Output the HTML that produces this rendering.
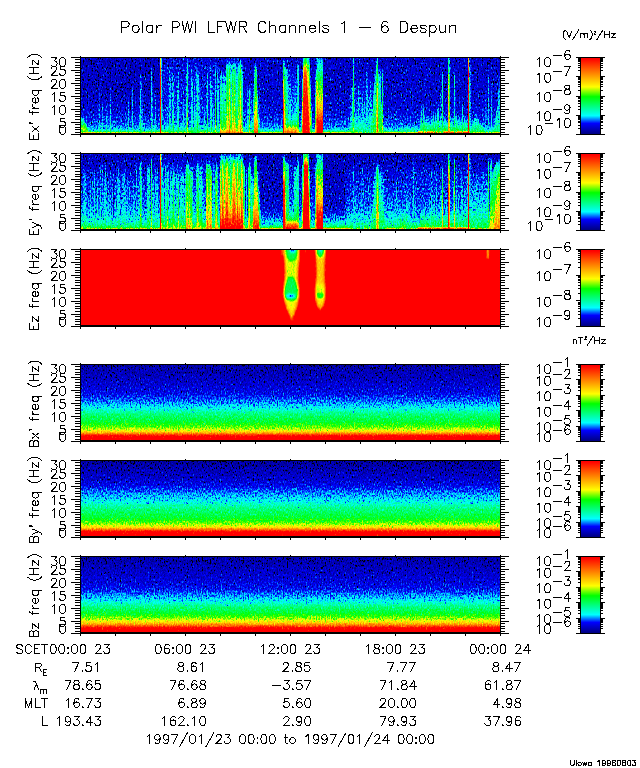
<!DOCTYPE html>
<html><head><meta charset="utf-8"><title>Polar PWI LFWR Channels 1 - 6 Despun</title>
<style>html,body{margin:0;padding:0;background:#fff;font-family:"Liberation Sans",sans-serif}svg{display:block}</style></head>
<body>
<svg width="640" height="768" viewBox="0 0 640 768">
<defs>
<linearGradient id="g1" x1="0" y1="0" x2="0" y2="1"><stop offset="0" stop-color="#222222"/><stop offset="0.0933" stop-color="#252525"/><stop offset="0.2667" stop-color="#2c2c2c"/><stop offset="0.3867" stop-color="#323232"/><stop offset="0.4933" stop-color="#404040"/><stop offset="0.5733" stop-color="#4d4d4d"/><stop offset="0.6533" stop-color="#656565"/><stop offset="0.7533" stop-color="#757575"/><stop offset="0.824" stop-color="#868686"/><stop offset="0.864" stop-color="#949494"/><stop offset="0.8907" stop-color="#a4a4a4"/><stop offset="0.9093" stop-color="#b9b9b9"/><stop offset="0.928" stop-color="#d1d1d1"/><stop offset="0.9467" stop-color="#eaeaea"/><stop offset="1" stop-color="#fafafa"/></linearGradient>
<linearGradient id="g2" x1="0" y1="0" x2="0" y2="1"><stop offset="0" stop-color="#202020"/><stop offset="0.0933" stop-color="#242424"/><stop offset="0.24" stop-color="#2b2b2b"/><stop offset="0.3333" stop-color="#323232"/><stop offset="0.4267" stop-color="#404040"/><stop offset="0.5333" stop-color="#4d4d4d"/><stop offset="0.64" stop-color="#656565"/><stop offset="0.7533" stop-color="#757575"/><stop offset="0.82" stop-color="#868686"/><stop offset="0.86" stop-color="#949494"/><stop offset="0.8867" stop-color="#a4a4a4"/><stop offset="0.9067" stop-color="#b9b9b9"/><stop offset="0.9253" stop-color="#d1d1d1"/><stop offset="0.944" stop-color="#eaeaea"/><stop offset="1" stop-color="#fafafa"/></linearGradient>
<linearGradient id="g3" x1="0" y1="0" x2="0" y2="1"><stop offset="0" stop-color="#222222"/><stop offset="0.0933" stop-color="#252525"/><stop offset="0.2667" stop-color="#2c2c2c"/><stop offset="0.4133" stop-color="#323232"/><stop offset="0.5067" stop-color="#404040"/><stop offset="0.5867" stop-color="#4d4d4d"/><stop offset="0.6667" stop-color="#656565"/><stop offset="0.7533" stop-color="#777777"/><stop offset="0.8067" stop-color="#888888"/><stop offset="0.84" stop-color="#949494"/><stop offset="0.8733" stop-color="#a4a4a4"/><stop offset="0.9" stop-color="#b9b9b9"/><stop offset="0.9253" stop-color="#d1d1d1"/><stop offset="0.9467" stop-color="#eaeaea"/><stop offset="1" stop-color="#fafafa"/></linearGradient>
<linearGradient id="g4" gradientUnits="userSpaceOnUse" x1="0" y1="58" x2="0" y2="133"><stop offset="0" stop-color="#2a2a2a"/><stop offset="0.5333" stop-color="#2c2c2c"/><stop offset="0.7333" stop-color="#303030"/><stop offset="0.8267" stop-color="#363636"/><stop offset="0.8933" stop-color="#3c3c3c"/><stop offset="0.9333" stop-color="#444444"/><stop offset="0.96" stop-color="#4f4f4f"/><stop offset="0.9773" stop-color="#636363"/><stop offset="0.9893" stop-color="#848484"/><stop offset="1" stop-color="#bdbdbd"/></linearGradient>
<linearGradient id="g5" gradientUnits="userSpaceOnUse" x1="0" y1="58" x2="0" y2="133"><stop offset="0" stop-color="#272727" stop-opacity="0.95"/><stop offset="0.4667" stop-color="#282828" stop-opacity="0.95"/><stop offset="0.6667" stop-color="#2c2c2c" stop-opacity="0.5"/><stop offset="0.8" stop-color="#2e2e2e" stop-opacity="0"/></linearGradient>
<linearGradient id="g6" gradientUnits="userSpaceOnUse" x1="0" y1="58" x2="0" y2="133"><stop offset="0" stop-color="#292929" stop-opacity="0.95"/><stop offset="0.4667" stop-color="#2a2a2a" stop-opacity="0.95"/><stop offset="0.6667" stop-color="#2c2c2c" stop-opacity="0.5"/><stop offset="0.8" stop-color="#2e2e2e" stop-opacity="0"/></linearGradient>
<linearGradient id="g7" gradientUnits="userSpaceOnUse" x1="0" y1="58" x2="0" y2="133"><stop offset="0.7733" stop-color="#575757" stop-opacity="0.3"/><stop offset="0.8667" stop-color="#6f6f6f" stop-opacity="0.9"/><stop offset="0.9467" stop-color="#8a8a8a"/><stop offset="1" stop-color="#a8a8a8" stop-opacity="0.3"/></linearGradient>
<linearGradient id="g8" gradientUnits="userSpaceOnUse" x1="0" y1="58" x2="0" y2="133"><stop offset="0.5867" stop-color="#424242" stop-opacity="0"/><stop offset="0.6667" stop-color="#484848" stop-opacity="0.85"/><stop offset="0.8" stop-color="#555555" stop-opacity="0.85"/><stop offset="1" stop-color="#6f6f6f" stop-opacity="0.85"/></linearGradient>
<linearGradient id="g9" gradientUnits="userSpaceOnUse" x1="0" y1="58" x2="0" y2="133"><stop offset="0.5333" stop-color="#424242" stop-opacity="0"/><stop offset="0.6133" stop-color="#484848" stop-opacity="0.85"/><stop offset="0.8" stop-color="#555555" stop-opacity="0.85"/><stop offset="1" stop-color="#6f6f6f" stop-opacity="0.85"/></linearGradient>
<linearGradient id="g10" gradientUnits="userSpaceOnUse" x1="0" y1="58" x2="0" y2="133"><stop offset="0.6267" stop-color="#424242" stop-opacity="0"/><stop offset="0.7067" stop-color="#484848" stop-opacity="0.85"/><stop offset="0.8" stop-color="#555555" stop-opacity="0.85"/><stop offset="1" stop-color="#6f6f6f" stop-opacity="0.85"/></linearGradient>
<linearGradient id="g11" gradientUnits="userSpaceOnUse" x1="0" y1="58" x2="0" y2="133"><stop offset="0.2933" stop-color="#424242" stop-opacity="0"/><stop offset="0.3733" stop-color="#484848" stop-opacity="0.85"/><stop offset="0.8" stop-color="#555555" stop-opacity="0.85"/><stop offset="1" stop-color="#6f6f6f" stop-opacity="0.85"/></linearGradient>
<linearGradient id="g12" gradientUnits="userSpaceOnUse" x1="0" y1="58" x2="0" y2="133"><stop offset="0.4133" stop-color="#424242" stop-opacity="0"/><stop offset="0.4933" stop-color="#484848" stop-opacity="0.85"/><stop offset="0.8" stop-color="#555555" stop-opacity="0.85"/><stop offset="1" stop-color="#6f6f6f" stop-opacity="0.85"/></linearGradient>
<linearGradient id="g13" gradientUnits="userSpaceOnUse" x1="0" y1="58" x2="0" y2="133"><stop offset="0.48" stop-color="#424242" stop-opacity="0"/><stop offset="0.56" stop-color="#484848" stop-opacity="0.85"/><stop offset="0.8" stop-color="#555555" stop-opacity="0.85"/><stop offset="1" stop-color="#6f6f6f" stop-opacity="0.85"/></linearGradient>
<linearGradient id="g14" gradientUnits="userSpaceOnUse" x1="0" y1="58" x2="0" y2="133"><stop offset="0.3467" stop-color="#424242" stop-opacity="0"/><stop offset="0.4267" stop-color="#484848" stop-opacity="0.85"/><stop offset="0.8" stop-color="#555555" stop-opacity="0.85"/><stop offset="1" stop-color="#6f6f6f" stop-opacity="0.85"/></linearGradient>
<linearGradient id="g15" gradientUnits="userSpaceOnUse" x1="0" y1="58" x2="0" y2="133"><stop offset="0.5067" stop-color="#424242" stop-opacity="0"/><stop offset="0.5867" stop-color="#484848" stop-opacity="0.85"/><stop offset="0.8" stop-color="#555555" stop-opacity="0.85"/><stop offset="1" stop-color="#6f6f6f" stop-opacity="0.85"/></linearGradient>
<linearGradient id="g16" gradientUnits="userSpaceOnUse" x1="0" y1="58" x2="0" y2="133"><stop offset="0.4267" stop-color="#424242" stop-opacity="0"/><stop offset="0.5067" stop-color="#484848" stop-opacity="0.85"/><stop offset="0.8" stop-color="#555555" stop-opacity="0.85"/><stop offset="1" stop-color="#6f6f6f" stop-opacity="0.85"/></linearGradient>
<linearGradient id="g17" gradientUnits="userSpaceOnUse" x1="0" y1="58" x2="0" y2="133"><stop offset="0.3333" stop-color="#424242" stop-opacity="0"/><stop offset="0.4133" stop-color="#484848" stop-opacity="0.85"/><stop offset="0.8" stop-color="#555555" stop-opacity="0.85"/><stop offset="1" stop-color="#6f6f6f" stop-opacity="0.85"/></linearGradient>
<linearGradient id="g18" gradientUnits="userSpaceOnUse" x1="0" y1="58" x2="0" y2="133"><stop offset="0.16" stop-color="#424242" stop-opacity="0"/><stop offset="0.24" stop-color="#484848" stop-opacity="0.85"/><stop offset="0.8" stop-color="#555555" stop-opacity="0.85"/><stop offset="1" stop-color="#6f6f6f" stop-opacity="0.85"/></linearGradient>
<linearGradient id="g19" gradientUnits="userSpaceOnUse" x1="0" y1="58" x2="0" y2="133"><stop offset="0.08" stop-color="#424242" stop-opacity="0"/><stop offset="0.16" stop-color="#484848" stop-opacity="0.85"/><stop offset="0.8" stop-color="#555555" stop-opacity="0.85"/><stop offset="1" stop-color="#6f6f6f" stop-opacity="0.85"/></linearGradient>
<linearGradient id="g20" gradientUnits="userSpaceOnUse" x1="0" y1="58" x2="0" y2="133"><stop offset="0" stop-color="#2e2e2e" stop-opacity="0.9"/><stop offset="0.2667" stop-color="#323232" stop-opacity="0.9"/><stop offset="0.6" stop-color="#353535" stop-opacity="0.9"/><stop offset="0.8267" stop-color="#3b3b3b" stop-opacity="0.9"/><stop offset="0.9067" stop-color="#464646" stop-opacity="0.9"/><stop offset="0.9533" stop-color="#575757" stop-opacity="0.9"/><stop offset="0.98" stop-color="#737373" stop-opacity="0.7"/><stop offset="1" stop-color="#949494" stop-opacity="0"/></linearGradient>
<linearGradient id="g21" gradientUnits="userSpaceOnUse" x1="0" y1="58" x2="0" y2="133"><stop offset="0.1733" stop-color="#424242" stop-opacity="0"/><stop offset="0.2533" stop-color="#484848" stop-opacity="0.85"/><stop offset="0.8" stop-color="#555555" stop-opacity="0.85"/><stop offset="1" stop-color="#6f6f6f" stop-opacity="0.85"/></linearGradient>
<linearGradient id="g22" gradientUnits="userSpaceOnUse" x1="0" y1="58" x2="0" y2="133"><stop offset="0.1867" stop-color="#424242" stop-opacity="0"/><stop offset="0.2667" stop-color="#484848" stop-opacity="0.85"/><stop offset="0.8" stop-color="#555555" stop-opacity="0.85"/><stop offset="1" stop-color="#6f6f6f" stop-opacity="0.85"/></linearGradient>
<linearGradient id="g23" gradientUnits="userSpaceOnUse" x1="0" y1="58" x2="0" y2="133"><stop offset="0.0667" stop-color="#424242" stop-opacity="0"/><stop offset="0.1467" stop-color="#484848" stop-opacity="0.85"/><stop offset="0.8" stop-color="#555555" stop-opacity="0.85"/><stop offset="1" stop-color="#6f6f6f" stop-opacity="0.85"/></linearGradient>
<linearGradient id="g24" gradientUnits="userSpaceOnUse" x1="0" y1="58" x2="0" y2="133"><stop offset="0.0933" stop-color="#424242" stop-opacity="0"/><stop offset="0.1733" stop-color="#484848" stop-opacity="0.85"/><stop offset="0.8" stop-color="#555555" stop-opacity="0.85"/><stop offset="1" stop-color="#6f6f6f" stop-opacity="0.85"/></linearGradient>
<linearGradient id="g25" gradientUnits="userSpaceOnUse" x1="0" y1="58" x2="0" y2="133"><stop offset="0.5733" stop-color="#424242" stop-opacity="0"/><stop offset="0.6533" stop-color="#484848" stop-opacity="0.85"/><stop offset="0.8" stop-color="#555555" stop-opacity="0.85"/><stop offset="1" stop-color="#6f6f6f" stop-opacity="0.85"/></linearGradient>
<linearGradient id="g26" gradientUnits="userSpaceOnUse" x1="0" y1="58" x2="0" y2="133"><stop offset="0.4933" stop-color="#424242" stop-opacity="0"/><stop offset="0.5733" stop-color="#484848" stop-opacity="0.85"/><stop offset="0.8" stop-color="#555555" stop-opacity="0.85"/><stop offset="1" stop-color="#6f6f6f" stop-opacity="0.85"/></linearGradient>
<linearGradient id="g27" gradientUnits="userSpaceOnUse" x1="0" y1="58" x2="0" y2="133"><stop offset="0.36" stop-color="#424242" stop-opacity="0"/><stop offset="0.44" stop-color="#484848" stop-opacity="0.85"/><stop offset="0.8" stop-color="#555555" stop-opacity="0.85"/><stop offset="1" stop-color="#6f6f6f" stop-opacity="0.85"/></linearGradient>
<linearGradient id="g28" gradientUnits="userSpaceOnUse" x1="0" y1="58" x2="0" y2="133"><stop offset="0.3067" stop-color="#424242" stop-opacity="0"/><stop offset="0.3867" stop-color="#484848" stop-opacity="0.85"/><stop offset="0.8" stop-color="#555555" stop-opacity="0.85"/><stop offset="1" stop-color="#6f6f6f" stop-opacity="0.85"/></linearGradient>
<linearGradient id="g29" gradientUnits="userSpaceOnUse" x1="0" y1="58" x2="0" y2="133"><stop offset="0.2533" stop-color="#424242" stop-opacity="0"/><stop offset="0.3333" stop-color="#484848" stop-opacity="0.85"/><stop offset="0.8" stop-color="#555555" stop-opacity="0.85"/><stop offset="1" stop-color="#6f6f6f" stop-opacity="0.85"/></linearGradient>
<linearGradient id="g30" gradientUnits="userSpaceOnUse" x1="0" y1="58" x2="0" y2="133"><stop offset="0.4667" stop-color="#424242" stop-opacity="0"/><stop offset="0.5467" stop-color="#484848" stop-opacity="0.85"/><stop offset="0.8" stop-color="#555555" stop-opacity="0.85"/><stop offset="1" stop-color="#6f6f6f" stop-opacity="0.85"/></linearGradient>
<linearGradient id="g31" gradientUnits="userSpaceOnUse" x1="0" y1="58" x2="0" y2="133"><stop offset="0.32" stop-color="#424242" stop-opacity="0"/><stop offset="0.4" stop-color="#484848" stop-opacity="0.85"/><stop offset="0.8" stop-color="#555555" stop-opacity="0.85"/><stop offset="1" stop-color="#6f6f6f" stop-opacity="0.85"/></linearGradient>
<linearGradient id="g32" gradientUnits="userSpaceOnUse" x1="0" y1="58" x2="0" y2="133"><stop offset="0.28" stop-color="#424242" stop-opacity="0"/><stop offset="0.36" stop-color="#484848" stop-opacity="0.85"/><stop offset="0.8" stop-color="#555555" stop-opacity="0.85"/><stop offset="1" stop-color="#6f6f6f" stop-opacity="0.85"/></linearGradient>
<linearGradient id="g33" gradientUnits="userSpaceOnUse" x1="0" y1="58" x2="0" y2="133"><stop offset="0.24" stop-color="#424242" stop-opacity="0"/><stop offset="0.32" stop-color="#484848" stop-opacity="0.85"/><stop offset="0.8" stop-color="#555555" stop-opacity="0.85"/><stop offset="1" stop-color="#6f6f6f" stop-opacity="0.85"/></linearGradient>
<linearGradient id="g34" gradientUnits="userSpaceOnUse" x1="0" y1="58" x2="0" y2="133"><stop offset="0.0533" stop-color="#424242" stop-opacity="0"/><stop offset="0.1333" stop-color="#484848" stop-opacity="0.85"/><stop offset="0.8" stop-color="#555555" stop-opacity="0.85"/><stop offset="1" stop-color="#6f6f6f" stop-opacity="0.85"/></linearGradient>
<linearGradient id="g35" gradientUnits="userSpaceOnUse" x1="0" y1="58" x2="0" y2="133"><stop offset="0.2133" stop-color="#424242" stop-opacity="0"/><stop offset="0.2933" stop-color="#484848" stop-opacity="0.85"/><stop offset="0.8" stop-color="#555555" stop-opacity="0.85"/><stop offset="1" stop-color="#6f6f6f" stop-opacity="0.85"/></linearGradient>
<linearGradient id="g36" gradientUnits="userSpaceOnUse" x1="0" y1="58" x2="0" y2="133"><stop offset="0.56" stop-color="#424242" stop-opacity="0"/><stop offset="0.64" stop-color="#484848" stop-opacity="0.85"/><stop offset="0.8" stop-color="#555555" stop-opacity="0.85"/><stop offset="1" stop-color="#6f6f6f" stop-opacity="0.85"/></linearGradient>
<linearGradient id="g37" gradientUnits="userSpaceOnUse" x1="0" y1="58" x2="0" y2="133"><stop offset="0.1333" stop-color="#424242" stop-opacity="0"/><stop offset="0.2133" stop-color="#484848" stop-opacity="0.85"/><stop offset="0.8" stop-color="#555555" stop-opacity="0.85"/><stop offset="1" stop-color="#6f6f6f" stop-opacity="0.85"/></linearGradient>
<linearGradient id="g38" gradientUnits="userSpaceOnUse" x1="0" y1="58" x2="0" y2="133"><stop offset="0.6" stop-color="#424242" stop-opacity="0"/><stop offset="0.68" stop-color="#484848" stop-opacity="0.85"/><stop offset="0.8" stop-color="#555555" stop-opacity="0.85"/><stop offset="1" stop-color="#6f6f6f" stop-opacity="0.85"/></linearGradient>
<linearGradient id="g39" gradientUnits="userSpaceOnUse" x1="0" y1="58" x2="0" y2="133"><stop offset="0.2267" stop-color="#424242" stop-opacity="0"/><stop offset="0.3067" stop-color="#484848" stop-opacity="0.85"/><stop offset="0.8" stop-color="#555555" stop-opacity="0.85"/><stop offset="1" stop-color="#6f6f6f" stop-opacity="0.85"/></linearGradient>
<linearGradient id="g40" gradientUnits="userSpaceOnUse" x1="0" y1="58" x2="0" y2="133"><stop offset="0.2667" stop-color="#424242" stop-opacity="0"/><stop offset="0.3467" stop-color="#484848" stop-opacity="0.85"/><stop offset="0.8" stop-color="#555555" stop-opacity="0.85"/><stop offset="1" stop-color="#6f6f6f" stop-opacity="0.85"/></linearGradient>
<linearGradient id="g41" gradientUnits="userSpaceOnUse" x1="0" y1="58" x2="0" y2="133"><stop offset="0.2667" stop-color="#464646" stop-opacity="0"/><stop offset="0.3467" stop-color="#515151" stop-opacity="0.85"/><stop offset="0.7333" stop-color="#5f5f5f" stop-opacity="0.85"/><stop offset="1" stop-color="#7b7b7b" stop-opacity="0.85"/></linearGradient>
<linearGradient id="g42" gradientUnits="userSpaceOnUse" x1="0" y1="58" x2="0" y2="133"><stop offset="0" stop-color="#424242" stop-opacity="0"/><stop offset="0.1067" stop-color="#636363" stop-opacity="0.9"/><stop offset="0.5333" stop-color="#757575" stop-opacity="0.9"/><stop offset="0.8267" stop-color="#8a8a8a" stop-opacity="0.9"/><stop offset="1" stop-color="#a4a4a4" stop-opacity="0.9"/></linearGradient>
<linearGradient id="g43" gradientUnits="userSpaceOnUse" x1="0" y1="58" x2="0" y2="133"><stop offset="0.1333" stop-color="#464646" stop-opacity="0"/><stop offset="0.2133" stop-color="#515151" stop-opacity="0.85"/><stop offset="0.7333" stop-color="#5f5f5f" stop-opacity="0.85"/><stop offset="1" stop-color="#7b7b7b" stop-opacity="0.85"/></linearGradient>
<linearGradient id="g44" gradientUnits="userSpaceOnUse" x1="0" y1="58" x2="0" y2="133"><stop offset="0.16" stop-color="#464646" stop-opacity="0"/><stop offset="0.24" stop-color="#515151" stop-opacity="0.85"/><stop offset="0.7333" stop-color="#5f5f5f" stop-opacity="0.85"/><stop offset="1" stop-color="#7b7b7b" stop-opacity="0.85"/></linearGradient>
<linearGradient id="g45" gradientUnits="userSpaceOnUse" x1="0" y1="58" x2="0" y2="133"><stop offset="0.4" stop-color="#424242" stop-opacity="0"/><stop offset="0.5067" stop-color="#636363" stop-opacity="0.9"/><stop offset="0.5333" stop-color="#757575" stop-opacity="0.9"/><stop offset="0.8267" stop-color="#8a8a8a" stop-opacity="0.9"/><stop offset="1" stop-color="#a4a4a4" stop-opacity="0.9"/></linearGradient>
<linearGradient id="g46" gradientUnits="userSpaceOnUse" x1="0" y1="58" x2="0" y2="133"><stop offset="0.1333" stop-color="#323232" stop-opacity="0"/><stop offset="0.24" stop-color="#4a4a4a" stop-opacity="0.9"/><stop offset="0.4" stop-color="#5b5b5b" stop-opacity="0.95"/><stop offset="0.6" stop-color="#676767" stop-opacity="0.95"/><stop offset="0.7333" stop-color="#737373" stop-opacity="0.95"/><stop offset="0.8667" stop-color="#808080" stop-opacity="0.95"/><stop offset="0.9467" stop-color="#909090" stop-opacity="0.95"/><stop offset="1" stop-color="#bdbdbd" stop-opacity="0.9"/></linearGradient>
<linearGradient id="g47" gradientUnits="userSpaceOnUse" x1="0" y1="58" x2="0" y2="133"><stop offset="0" stop-color="#343434" stop-opacity="0.5"/><stop offset="0.0667" stop-color="#404040" stop-opacity="0.9"/><stop offset="0.16" stop-color="#575757" stop-opacity="0.95"/><stop offset="0.3333" stop-color="#676767" stop-opacity="0.95"/><stop offset="0.6" stop-color="#757575" stop-opacity="0.95"/><stop offset="0.7333" stop-color="#828282" stop-opacity="0.95"/><stop offset="0.8667" stop-color="#8e8e8e" stop-opacity="0.95"/><stop offset="0.9467" stop-color="#9e9e9e" stop-opacity="0.95"/><stop offset="1" stop-color="#c7c7c7" stop-opacity="0.9"/></linearGradient>
<linearGradient id="g48" gradientUnits="userSpaceOnUse" x1="0" y1="58" x2="0" y2="133"><stop offset="0" stop-color="#2a2a2a" stop-opacity="0.7"/><stop offset="0.4" stop-color="#303030" stop-opacity="0.7"/><stop offset="0.7333" stop-color="#3a3a3a" stop-opacity="0.7"/><stop offset="0.88" stop-color="#4a4a4a" stop-opacity="0.7"/><stop offset="0.96" stop-color="#676767" stop-opacity="0.5"/><stop offset="1" stop-color="#808080" stop-opacity="0"/></linearGradient>
<linearGradient id="g49" gradientUnits="userSpaceOnUse" x1="0" y1="58" x2="0" y2="133"><stop offset="0.04" stop-color="#4d4d4d" stop-opacity="0"/><stop offset="0.1467" stop-color="#6f6f6f" stop-opacity="0.9"/><stop offset="0.3333" stop-color="#8a8a8a" stop-opacity="0.9"/><stop offset="0.6667" stop-color="#989898" stop-opacity="0.9"/><stop offset="0.88" stop-color="#a8a8a8" stop-opacity="0.9"/><stop offset="1" stop-color="#c1c1c1" stop-opacity="0.9"/></linearGradient>
<linearGradient id="g50" gradientUnits="userSpaceOnUse" x1="0" y1="58" x2="0" y2="133"><stop offset="0.04" stop-color="#575757" stop-opacity="0"/><stop offset="0.1467" stop-color="#808080" stop-opacity="0.9"/><stop offset="0.3333" stop-color="#989898" stop-opacity="0.9"/><stop offset="0.6" stop-color="#acacac" stop-opacity="0.9"/><stop offset="0.8267" stop-color="#c1c1c1" stop-opacity="0.9"/><stop offset="1" stop-color="#dbdbdb" stop-opacity="0.9"/></linearGradient>
<linearGradient id="g51" gradientUnits="userSpaceOnUse" x1="0" y1="58" x2="0" y2="133"><stop offset="0.3333" stop-color="#464646" stop-opacity="0"/><stop offset="0.4133" stop-color="#515151" stop-opacity="0.85"/><stop offset="0.7333" stop-color="#5f5f5f" stop-opacity="0.85"/><stop offset="1" stop-color="#7b7b7b" stop-opacity="0.85"/></linearGradient>
<linearGradient id="g52" gradientUnits="userSpaceOnUse" x1="0" y1="58" x2="0" y2="133"><stop offset="0.3733" stop-color="#424242" stop-opacity="0"/><stop offset="0.48" stop-color="#636363" stop-opacity="0.9"/><stop offset="0.5333" stop-color="#757575" stop-opacity="0.9"/><stop offset="0.8267" stop-color="#8a8a8a" stop-opacity="0.9"/><stop offset="1" stop-color="#a4a4a4" stop-opacity="0.9"/></linearGradient>
<linearGradient id="g53" gradientUnits="userSpaceOnUse" x1="0" y1="58" x2="0" y2="133"><stop offset="0.4" stop-color="#464646" stop-opacity="0"/><stop offset="0.48" stop-color="#515151" stop-opacity="0.85"/><stop offset="0.7333" stop-color="#5f5f5f" stop-opacity="0.85"/><stop offset="1" stop-color="#7b7b7b" stop-opacity="0.85"/></linearGradient>
<linearGradient id="g54" gradientUnits="userSpaceOnUse" x1="0" y1="58" x2="0" y2="133"><stop offset="0.0667" stop-color="#575757" stop-opacity="0.4"/><stop offset="0.16" stop-color="#6b6b6b"/><stop offset="0.3333" stop-color="#777777"/><stop offset="0.5067" stop-color="#868686"/><stop offset="0.64" stop-color="#949494"/><stop offset="0.7733" stop-color="#a2a2a2"/><stop offset="0.9067" stop-color="#b5b5b5"/><stop offset="1" stop-color="#d1d1d1"/></linearGradient>
<linearGradient id="g55" gradientUnits="userSpaceOnUse" x1="0" y1="58" x2="0" y2="133"><stop offset="0.3333" stop-color="#464646" stop-opacity="0"/><stop offset="0.5333" stop-color="#515151" stop-opacity="0.8"/><stop offset="1" stop-color="#6f6f6f" stop-opacity="0.8"/></linearGradient>
<linearGradient id="g56" gradientUnits="userSpaceOnUse" x1="0" y1="58" x2="0" y2="133"><stop offset="0.8933" stop-color="#353535" stop-opacity="0"/><stop offset="0.9413" stop-color="#444444" stop-opacity="0.56"/><stop offset="0.96" stop-color="#575757" stop-opacity="0.8"/><stop offset="0.9733" stop-color="#575757" stop-opacity="0.48"/><stop offset="1" stop-color="#575757" stop-opacity="0"/></linearGradient>
<linearGradient id="g57" gradientUnits="userSpaceOnUse" x1="0" y1="58" x2="0" y2="133"><stop offset="0.0667" stop-color="#2e2e2e" stop-opacity="0"/><stop offset="0.16" stop-color="#333333" stop-opacity="0.9"/><stop offset="0.4" stop-color="#383838" stop-opacity="0.9"/><stop offset="0.6667" stop-color="#404040" stop-opacity="0.9"/><stop offset="0.8" stop-color="#535353" stop-opacity="0.9"/><stop offset="0.88" stop-color="#6f6f6f" stop-opacity="0.9"/><stop offset="0.9333" stop-color="#949494"/><stop offset="0.9733" stop-color="#b5b5b5"/><stop offset="1" stop-color="#d1d1d1"/></linearGradient>
<linearGradient id="g58" gradientUnits="userSpaceOnUse" x1="0" y1="58" x2="0" y2="133"><stop offset="0.1067" stop-color="#424242" stop-opacity="0"/><stop offset="0.2" stop-color="#575757" stop-opacity="0.7"/><stop offset="0.8" stop-color="#6b6b6b" stop-opacity="0.7"/><stop offset="0.9067" stop-color="#808080" stop-opacity="0"/></linearGradient>
<linearGradient id="g59" gradientUnits="userSpaceOnUse" x1="0" y1="58" x2="0" y2="133"><stop offset="0.2667" stop-color="#383838" stop-opacity="0"/><stop offset="0.4" stop-color="#464646" stop-opacity="0.6"/><stop offset="0.8" stop-color="#575757" stop-opacity="0.6"/><stop offset="0.9067" stop-color="#6b6b6b" stop-opacity="0"/></linearGradient>
<linearGradient id="g60" gradientUnits="userSpaceOnUse" x1="0" y1="58" x2="0" y2="133"><stop offset="0.2667" stop-color="#383838" stop-opacity="0"/><stop offset="0.4" stop-color="#424242" stop-opacity="0.6"/><stop offset="0.8" stop-color="#515151" stop-opacity="0.6"/><stop offset="0.9067" stop-color="#6b6b6b" stop-opacity="0"/></linearGradient>
<linearGradient id="g61" gradientUnits="userSpaceOnUse" x1="0" y1="58" x2="0" y2="133"><stop offset="0.0267" stop-color="#575757" stop-opacity="0"/><stop offset="0.08" stop-color="#575757"/><stop offset="0.16" stop-color="#6f6f6f"/><stop offset="0.3333" stop-color="#909090"/><stop offset="0.48" stop-color="#b3b3b3"/><stop offset="0.6133" stop-color="#d5d5d5"/><stop offset="1" stop-color="#e6e6e6"/></linearGradient>
<linearGradient id="g62" gradientUnits="userSpaceOnUse" x1="0" y1="58" x2="0" y2="133"><stop offset="0.08" stop-color="#575757" stop-opacity="0"/><stop offset="0.16" stop-color="#6b6b6b" stop-opacity="0.8"/><stop offset="0.5333" stop-color="#8a8a8a" stop-opacity="0.8"/><stop offset="1" stop-color="#bdbdbd" stop-opacity="0.8"/></linearGradient>
<linearGradient id="g63" gradientUnits="userSpaceOnUse" x1="0" y1="58" x2="0" y2="133"><stop offset="0.0267" stop-color="#424242" stop-opacity="0"/><stop offset="0.08" stop-color="#424242"/><stop offset="0.16" stop-color="#575757"/><stop offset="0.6667" stop-color="#676767"/><stop offset="1" stop-color="#949494"/></linearGradient>
<linearGradient id="g64" gradientUnits="userSpaceOnUse" x1="0" y1="58" x2="0" y2="133"><stop offset="0" stop-color="#464646" stop-opacity="0.8"/><stop offset="0.1067" stop-color="#636363" stop-opacity="0.9"/><stop offset="0.4" stop-color="#757575" stop-opacity="0.9"/><stop offset="1" stop-color="#808080" stop-opacity="0.9"/></linearGradient>
<linearGradient id="g65" gradientUnits="userSpaceOnUse" x1="0" y1="58" x2="0" y2="133"><stop offset="0" stop-color="#575757"/><stop offset="0.1067" stop-color="#808080"/><stop offset="0.2667" stop-color="#989898"/><stop offset="1" stop-color="#a8a8a8"/></linearGradient>
<linearGradient id="g66" gradientUnits="userSpaceOnUse" x1="0" y1="58" x2="0" y2="133"><stop offset="0" stop-color="#5f5f5f"/><stop offset="0.0667" stop-color="#808080"/><stop offset="0.12" stop-color="#a0a0a0"/><stop offset="0.16" stop-color="#bdbdbd"/><stop offset="0.24" stop-color="#d5d5d5"/><stop offset="0.5333" stop-color="#e3e3e3"/><stop offset="1" stop-color="#f0f0f0"/></linearGradient>
<linearGradient id="g67" gradientUnits="userSpaceOnUse" x1="0" y1="58" x2="0" y2="133"><stop offset="0" stop-color="#424242"/><stop offset="0.1067" stop-color="#515151"/><stop offset="0.24" stop-color="#6b6b6b"/><stop offset="0.3733" stop-color="#808080"/><stop offset="0.5067" stop-color="#909090"/><stop offset="0.64" stop-color="#a4a4a4"/><stop offset="0.7467" stop-color="#bdbdbd"/><stop offset="0.8267" stop-color="#dbdbdb"/><stop offset="0.88" stop-color="#ececec"/><stop offset="1" stop-color="#f6f6f6"/></linearGradient>
<linearGradient id="g68" gradientUnits="userSpaceOnUse" x1="0" y1="58" x2="0" y2="133"><stop offset="0.1333" stop-color="#424242" stop-opacity="0"/><stop offset="0.2667" stop-color="#636363" stop-opacity="0.8"/><stop offset="1" stop-color="#949494" stop-opacity="0.9"/></linearGradient>
<linearGradient id="g69" gradientUnits="userSpaceOnUse" x1="0" y1="58" x2="0" y2="133"><stop offset="0.2" stop-color="#808080" stop-opacity="0"/><stop offset="0.3333" stop-color="#989898" stop-opacity="0.8"/><stop offset="0.6667" stop-color="#bdbdbd" stop-opacity="0.8"/><stop offset="0.8267" stop-color="#e6e6e6" stop-opacity="0.5"/><stop offset="1" stop-color="#f0f0f0" stop-opacity="0"/></linearGradient>
<linearGradient id="g70" gradientUnits="userSpaceOnUse" x1="0" y1="58" x2="0" y2="133"><stop offset="0.1333" stop-color="#2e2e2e" stop-opacity="0"/><stop offset="0.4" stop-color="#343434" stop-opacity="0.7"/><stop offset="0.7333" stop-color="#424242" stop-opacity="0.8"/><stop offset="0.9067" stop-color="#5b5b5b" stop-opacity="0.8"/><stop offset="0.9733" stop-color="#757575" stop-opacity="0.6"/><stop offset="1" stop-color="#808080" stop-opacity="0"/></linearGradient>
<linearGradient id="g71" gradientUnits="userSpaceOnUse" x1="0" y1="58" x2="0" y2="133"><stop offset="0.1333" stop-color="#424242" stop-opacity="0"/><stop offset="0.2133" stop-color="#424242" stop-opacity="0.8"/><stop offset="1" stop-color="#575757" stop-opacity="0.8"/></linearGradient>
<linearGradient id="g72" gradientUnits="userSpaceOnUse" x1="0" y1="58" x2="0" y2="133"><stop offset="0.4667" stop-color="#424242" stop-opacity="0"/><stop offset="0.5467" stop-color="#424242" stop-opacity="0.8"/><stop offset="1" stop-color="#575757" stop-opacity="0.8"/></linearGradient>
<linearGradient id="g73" gradientUnits="userSpaceOnUse" x1="0" y1="58" x2="0" y2="133"><stop offset="0.48" stop-color="#424242" stop-opacity="0"/><stop offset="0.56" stop-color="#424242" stop-opacity="0.8"/><stop offset="1" stop-color="#575757" stop-opacity="0.8"/></linearGradient>
<linearGradient id="g74" gradientUnits="userSpaceOnUse" x1="0" y1="58" x2="0" y2="133"><stop offset="0.4933" stop-color="#424242" stop-opacity="0"/><stop offset="0.5733" stop-color="#424242" stop-opacity="0.8"/><stop offset="1" stop-color="#575757" stop-opacity="0.8"/></linearGradient>
<linearGradient id="g75" gradientUnits="userSpaceOnUse" x1="0" y1="58" x2="0" y2="133"><stop offset="0.2667" stop-color="#424242" stop-opacity="0"/><stop offset="0.3467" stop-color="#424242" stop-opacity="0.8"/><stop offset="1" stop-color="#575757" stop-opacity="0.8"/></linearGradient>
<linearGradient id="g76" gradientUnits="userSpaceOnUse" x1="0" y1="58" x2="0" y2="133"><stop offset="0.4533" stop-color="#424242" stop-opacity="0"/><stop offset="0.5333" stop-color="#424242" stop-opacity="0.8"/><stop offset="1" stop-color="#575757" stop-opacity="0.8"/></linearGradient>
<linearGradient id="g77" gradientUnits="userSpaceOnUse" x1="0" y1="58" x2="0" y2="133"><stop offset="0.28" stop-color="#424242" stop-opacity="0"/><stop offset="0.36" stop-color="#424242" stop-opacity="0.8"/><stop offset="1" stop-color="#575757" stop-opacity="0.8"/></linearGradient>
<linearGradient id="g78" gradientUnits="userSpaceOnUse" x1="0" y1="58" x2="0" y2="133"><stop offset="0.16" stop-color="#424242" stop-opacity="0"/><stop offset="0.24" stop-color="#424242" stop-opacity="0.8"/><stop offset="1" stop-color="#575757" stop-opacity="0.8"/></linearGradient>
<linearGradient id="g79" gradientUnits="userSpaceOnUse" x1="0" y1="58" x2="0" y2="133"><stop offset="0.44" stop-color="#424242" stop-opacity="0"/><stop offset="0.52" stop-color="#424242" stop-opacity="0.8"/><stop offset="1" stop-color="#575757" stop-opacity="0.8"/></linearGradient>
<linearGradient id="g80" gradientUnits="userSpaceOnUse" x1="0" y1="58" x2="0" y2="133"><stop offset="0.2667" stop-color="#424242" stop-opacity="0"/><stop offset="0.4667" stop-color="#515151" stop-opacity="0.7"/><stop offset="1" stop-color="#6b6b6b" stop-opacity="0.7"/></linearGradient>
<linearGradient id="g81" gradientUnits="userSpaceOnUse" x1="0" y1="58" x2="0" y2="133"><stop offset="0" stop-color="#5d5d5d" stop-opacity="0.9"/><stop offset="0.2667" stop-color="#6f6f6f" stop-opacity="0.9"/><stop offset="0.4667" stop-color="#808080" stop-opacity="0.9"/><stop offset="0.7333" stop-color="#7b7b7b" stop-opacity="0.9"/><stop offset="1" stop-color="#8a8a8a" stop-opacity="0.9"/></linearGradient>
<linearGradient id="g82" gradientUnits="userSpaceOnUse" x1="0" y1="58" x2="0" y2="133"><stop offset="0.1067" stop-color="#424242" stop-opacity="0"/><stop offset="0.2667" stop-color="#4f4f4f" stop-opacity="0.8"/><stop offset="0.6667" stop-color="#636363" stop-opacity="0.9"/><stop offset="1" stop-color="#808080" stop-opacity="0.9"/></linearGradient>
<linearGradient id="g83" gradientUnits="userSpaceOnUse" x1="0" y1="58" x2="0" y2="133"><stop offset="0" stop-color="#575757" stop-opacity="0"/><stop offset="0.04" stop-color="#575757"/><stop offset="0.1067" stop-color="#6f6f6f"/><stop offset="0.2667" stop-color="#848484"/><stop offset="0.4267" stop-color="#9c9c9c"/><stop offset="0.56" stop-color="#b3b3b3"/><stop offset="0.8" stop-color="#c1c1c1"/><stop offset="1" stop-color="#c9c9c9"/></linearGradient>
<linearGradient id="g84" gradientUnits="userSpaceOnUse" x1="0" y1="58" x2="0" y2="133"><stop offset="0.1067" stop-color="#636363" stop-opacity="0"/><stop offset="0.1867" stop-color="#636363" stop-opacity="0.9"/><stop offset="1" stop-color="#8a8a8a" stop-opacity="0.9"/></linearGradient>
<linearGradient id="g85" gradientUnits="userSpaceOnUse" x1="0" y1="58" x2="0" y2="133"><stop offset="0.1333" stop-color="#6b6b6b" stop-opacity="0"/><stop offset="0.2133" stop-color="#6b6b6b" stop-opacity="0.9"/><stop offset="1" stop-color="#949494" stop-opacity="0.9"/></linearGradient>
<linearGradient id="g86" gradientUnits="userSpaceOnUse" x1="0" y1="58" x2="0" y2="133"><stop offset="0.88" stop-color="#3b3b3b" stop-opacity="0"/><stop offset="0.934" stop-color="#4d4d4d" stop-opacity="0.56"/><stop offset="0.96" stop-color="#636363" stop-opacity="0.8"/><stop offset="0.9733" stop-color="#636363" stop-opacity="0.48"/><stop offset="1" stop-color="#636363" stop-opacity="0"/></linearGradient>
<linearGradient id="g87" gradientUnits="userSpaceOnUse" x1="0" y1="58" x2="0" y2="133"><stop offset="0.76" stop-color="#444444" stop-opacity="0"/><stop offset="0.868" stop-color="#5b5b5b" stop-opacity="0.56"/><stop offset="0.96" stop-color="#777777" stop-opacity="0.8"/><stop offset="0.9733" stop-color="#777777" stop-opacity="0.48"/><stop offset="1" stop-color="#777777" stop-opacity="0"/></linearGradient>
<linearGradient id="g88" gradientUnits="userSpaceOnUse" x1="0" y1="58" x2="0" y2="133"><stop offset="0.84" stop-color="#464646" stop-opacity="0"/><stop offset="0.912" stop-color="#5e5e5e" stop-opacity="0.42"/><stop offset="0.96" stop-color="#7b7b7b" stop-opacity="0.6"/><stop offset="0.9733" stop-color="#7b7b7b" stop-opacity="0.36"/><stop offset="1" stop-color="#7b7b7b" stop-opacity="0"/></linearGradient>
<linearGradient id="g89" gradientUnits="userSpaceOnUse" x1="0" y1="58" x2="0" y2="133"><stop offset="0.9667" stop-color="#949494" stop-opacity="0"/><stop offset="0.984" stop-color="#bdbdbd" stop-opacity="0.9"/><stop offset="1" stop-color="#e1e1e1"/></linearGradient>
<linearGradient id="g90" gradientUnits="userSpaceOnUse" x1="0" y1="58" x2="0" y2="133"><stop offset="0.64" stop-color="#575757" stop-opacity="0"/><stop offset="0.72" stop-color="#575757" stop-opacity="0.7"/><stop offset="1" stop-color="#808080" stop-opacity="0.7"/></linearGradient>
<linearGradient id="g91" gradientUnits="userSpaceOnUse" x1="0" y1="58" x2="0" y2="133"><stop offset="0.6933" stop-color="#575757" stop-opacity="0"/><stop offset="0.7733" stop-color="#575757" stop-opacity="0.7"/><stop offset="1" stop-color="#808080" stop-opacity="0.7"/></linearGradient>
<linearGradient id="g92" gradientUnits="userSpaceOnUse" x1="0" y1="58" x2="0" y2="133"><stop offset="0.76" stop-color="#575757" stop-opacity="0"/><stop offset="0.84" stop-color="#575757" stop-opacity="0.7"/><stop offset="1" stop-color="#808080" stop-opacity="0.7"/></linearGradient>
<linearGradient id="g93" gradientUnits="userSpaceOnUse" x1="0" y1="58" x2="0" y2="133"><stop offset="0.6" stop-color="#575757" stop-opacity="0"/><stop offset="0.68" stop-color="#575757" stop-opacity="0.7"/><stop offset="1" stop-color="#808080" stop-opacity="0.7"/></linearGradient>
<linearGradient id="g94" gradientUnits="userSpaceOnUse" x1="0" y1="58" x2="0" y2="133"><stop offset="0.72" stop-color="#575757" stop-opacity="0"/><stop offset="0.8" stop-color="#575757" stop-opacity="0.7"/><stop offset="1" stop-color="#808080" stop-opacity="0.7"/></linearGradient>
<linearGradient id="g95" gradientUnits="userSpaceOnUse" x1="0" y1="58" x2="0" y2="133"><stop offset="0.6267" stop-color="#575757" stop-opacity="0"/><stop offset="0.7067" stop-color="#575757" stop-opacity="0.7"/><stop offset="1" stop-color="#808080" stop-opacity="0.7"/></linearGradient>
<linearGradient id="g96" gradientUnits="userSpaceOnUse" x1="0" y1="58" x2="0" y2="133"><stop offset="0.7467" stop-color="#575757" stop-opacity="0"/><stop offset="0.8267" stop-color="#575757" stop-opacity="0.7"/><stop offset="1" stop-color="#808080" stop-opacity="0.7"/></linearGradient>
<linearGradient id="g97" gradientUnits="userSpaceOnUse" x1="0" y1="58" x2="0" y2="133"><stop offset="0.7867" stop-color="#575757" stop-opacity="0"/><stop offset="0.8667" stop-color="#575757" stop-opacity="0.7"/><stop offset="1" stop-color="#808080" stop-opacity="0.7"/></linearGradient>
<linearGradient id="g98" gradientUnits="userSpaceOnUse" x1="0" y1="58" x2="0" y2="133"><stop offset="0.6667" stop-color="#575757" stop-opacity="0"/><stop offset="0.7467" stop-color="#575757" stop-opacity="0.7"/><stop offset="1" stop-color="#808080" stop-opacity="0.7"/></linearGradient>
<linearGradient id="g99" gradientUnits="userSpaceOnUse" x1="0" y1="58" x2="0" y2="133"><stop offset="0.4" stop-color="#424242" stop-opacity="0"/><stop offset="0.48" stop-color="#424242" stop-opacity="0.8"/><stop offset="1" stop-color="#535353" stop-opacity="0.8"/></linearGradient>
<linearGradient id="g100" gradientUnits="userSpaceOnUse" x1="0" y1="58" x2="0" y2="133"><stop offset="0.1733" stop-color="#424242" stop-opacity="0"/><stop offset="0.2267" stop-color="#424242"/><stop offset="0.3333" stop-color="#575757"/><stop offset="0.6667" stop-color="#656565"/><stop offset="1" stop-color="#777777"/></linearGradient>
<linearGradient id="g101" gradientUnits="userSpaceOnUse" x1="0" y1="58" x2="0" y2="133"><stop offset="0" stop-color="#4f4f4f"/><stop offset="0.1067" stop-color="#5f5f5f"/><stop offset="0.2133" stop-color="#7b7b7b"/><stop offset="0.4" stop-color="#989898"/><stop offset="0.6667" stop-color="#acacac"/><stop offset="1" stop-color="#bdbdbd"/></linearGradient>
<linearGradient id="g102" gradientUnits="userSpaceOnUse" x1="0" y1="58" x2="0" y2="133"><stop offset="0.12" stop-color="#424242" stop-opacity="0"/><stop offset="0.1733" stop-color="#424242"/><stop offset="0.28" stop-color="#535353"/><stop offset="0.6667" stop-color="#5d5d5d"/><stop offset="1" stop-color="#757575"/></linearGradient>
<linearGradient id="g103" gradientUnits="userSpaceOnUse" x1="0" y1="58" x2="0" y2="133"><stop offset="0" stop-color="#a0a0a0"/><stop offset="0.08" stop-color="#acacac"/><stop offset="0.1333" stop-color="#c7c7c7"/><stop offset="0.1867" stop-color="#e1e1e1"/><stop offset="1" stop-color="#eaeaea"/></linearGradient>
<linearGradient id="g104" gradientUnits="userSpaceOnUse" x1="0" y1="58" x2="0" y2="133"><stop offset="0" stop-color="#949494" stop-opacity="0.5"/><stop offset="1" stop-color="#d1d1d1" stop-opacity="0.5"/></linearGradient>
<linearGradient id="g105" gradientUnits="userSpaceOnUse" x1="0" y1="58" x2="0" y2="133"><stop offset="0" stop-color="#383838" stop-opacity="0.8"/><stop offset="0.1333" stop-color="#4d4d4d" stop-opacity="0.8"/><stop offset="1" stop-color="#575757" stop-opacity="0.8"/></linearGradient>
<linearGradient id="g106" gradientUnits="userSpaceOnUse" x1="0" y1="58" x2="0" y2="133"><stop offset="0.7467" stop-color="#424242" stop-opacity="0.5"/><stop offset="0.84" stop-color="#535353" stop-opacity="0.9"/><stop offset="0.9333" stop-color="#676767" stop-opacity="0.9"/><stop offset="1" stop-color="#808080" stop-opacity="0.3"/></linearGradient>
<linearGradient id="g107" gradientUnits="userSpaceOnUse" x1="0" y1="58" x2="0" y2="133"><stop offset="0.2133" stop-color="#464646" stop-opacity="0"/><stop offset="0.2933" stop-color="#464646" stop-opacity="0.9"/><stop offset="1" stop-color="#575757" stop-opacity="0.9"/></linearGradient>
<linearGradient id="g108" gradientUnits="userSpaceOnUse" x1="0" y1="58" x2="0" y2="133"><stop offset="0.2933" stop-color="#424242" stop-opacity="0"/><stop offset="0.3733" stop-color="#424242" stop-opacity="0.7"/><stop offset="1" stop-color="#535353" stop-opacity="0.7"/></linearGradient>
<linearGradient id="g109" gradientUnits="userSpaceOnUse" x1="0" y1="58" x2="0" y2="133"><stop offset="0.4" stop-color="#3e3e3e" stop-opacity="0"/><stop offset="0.48" stop-color="#3e3e3e" stop-opacity="0.7"/><stop offset="1" stop-color="#4f4f4f" stop-opacity="0.7"/></linearGradient>
<linearGradient id="g110" gradientUnits="userSpaceOnUse" x1="0" y1="58" x2="0" y2="133"><stop offset="0.1333" stop-color="#3a3a3a" stop-opacity="0.6"/><stop offset="0.4" stop-color="#424242" stop-opacity="0.9"/><stop offset="0.6667" stop-color="#4d4d4d" stop-opacity="0.9"/><stop offset="0.88" stop-color="#575757" stop-opacity="0.9"/><stop offset="0.96" stop-color="#6b6b6b" stop-opacity="0.8"/><stop offset="1" stop-color="#949494" stop-opacity="0"/></linearGradient>
<linearGradient id="g111" gradientUnits="userSpaceOnUse" x1="0" y1="154" x2="0" y2="229"><stop offset="0" stop-color="#282828"/><stop offset="0.2" stop-color="#2b2b2b"/><stop offset="0.4" stop-color="#303030"/><stop offset="0.6667" stop-color="#353535"/><stop offset="0.8" stop-color="#3c3c3c"/><stop offset="0.88" stop-color="#464646"/><stop offset="0.9333" stop-color="#535353"/><stop offset="0.9667" stop-color="#6b6b6b"/><stop offset="0.9867" stop-color="#8c8c8c"/><stop offset="1" stop-color="#bdbdbd"/></linearGradient>
<linearGradient id="g112" gradientUnits="userSpaceOnUse" x1="0" y1="154" x2="0" y2="229"><stop offset="0" stop-color="#272727" stop-opacity="0.95"/><stop offset="0.4667" stop-color="#292929" stop-opacity="0.95"/><stop offset="0.7333" stop-color="#2c2c2c" stop-opacity="0.9"/><stop offset="0.88" stop-color="#323232" stop-opacity="0"/></linearGradient>
<linearGradient id="g113" gradientUnits="userSpaceOnUse" x1="0" y1="154" x2="0" y2="229"><stop offset="0" stop-color="#282828" stop-opacity="0.95"/><stop offset="0.4667" stop-color="#292929" stop-opacity="0.95"/><stop offset="0.7333" stop-color="#2c2c2c" stop-opacity="0.9"/><stop offset="0.88" stop-color="#323232" stop-opacity="0"/></linearGradient>
<linearGradient id="g114" gradientUnits="userSpaceOnUse" x1="0" y1="154" x2="0" y2="229"><stop offset="0.7333" stop-color="#575757" stop-opacity="0.3"/><stop offset="0.8533" stop-color="#6f6f6f" stop-opacity="0.9"/><stop offset="0.9333" stop-color="#8a8a8a"/><stop offset="1" stop-color="#a8a8a8" stop-opacity="0.3"/></linearGradient>
<linearGradient id="g115" gradientUnits="userSpaceOnUse" x1="0" y1="154" x2="0" y2="229"><stop offset="0.1067" stop-color="#282828" stop-opacity="0"/><stop offset="0.24" stop-color="#2e2e2e" stop-opacity="0.9"/><stop offset="0.4" stop-color="#353535" stop-opacity="0.9"/><stop offset="0.64" stop-color="#3c3c3c" stop-opacity="0.9"/><stop offset="0.7733" stop-color="#444444" stop-opacity="0.9"/><stop offset="0.8667" stop-color="#4d4d4d" stop-opacity="0.9"/><stop offset="0.9333" stop-color="#575757" stop-opacity="0.9"/><stop offset="0.9667" stop-color="#6b6b6b" stop-opacity="0.7"/><stop offset="1" stop-color="#949494" stop-opacity="0"/></linearGradient>
<linearGradient id="g116" gradientUnits="userSpaceOnUse" x1="0" y1="154" x2="0" y2="229"><stop offset="0.16" stop-color="#424242" stop-opacity="0"/><stop offset="0.24" stop-color="#484848" stop-opacity="0.85"/><stop offset="0.8" stop-color="#555555" stop-opacity="0.85"/><stop offset="1" stop-color="#6f6f6f" stop-opacity="0.85"/></linearGradient>
<linearGradient id="g117" gradientUnits="userSpaceOnUse" x1="0" y1="154" x2="0" y2="229"><stop offset="0.2267" stop-color="#424242" stop-opacity="0"/><stop offset="0.3067" stop-color="#484848" stop-opacity="0.85"/><stop offset="0.8" stop-color="#555555" stop-opacity="0.85"/><stop offset="1" stop-color="#6f6f6f" stop-opacity="0.85"/></linearGradient>
<linearGradient id="g118" gradientUnits="userSpaceOnUse" x1="0" y1="154" x2="0" y2="229"><stop offset="0.28" stop-color="#424242" stop-opacity="0"/><stop offset="0.36" stop-color="#484848" stop-opacity="0.85"/><stop offset="0.8" stop-color="#555555" stop-opacity="0.85"/><stop offset="1" stop-color="#6f6f6f" stop-opacity="0.85"/></linearGradient>
<linearGradient id="g119" gradientUnits="userSpaceOnUse" x1="0" y1="154" x2="0" y2="229"><stop offset="0.2133" stop-color="#424242" stop-opacity="0"/><stop offset="0.2933" stop-color="#484848" stop-opacity="0.85"/><stop offset="0.8" stop-color="#555555" stop-opacity="0.85"/><stop offset="1" stop-color="#6f6f6f" stop-opacity="0.85"/></linearGradient>
<linearGradient id="g120" gradientUnits="userSpaceOnUse" x1="0" y1="154" x2="0" y2="229"><stop offset="0.1867" stop-color="#424242" stop-opacity="0"/><stop offset="0.2667" stop-color="#484848" stop-opacity="0.85"/><stop offset="0.8" stop-color="#555555" stop-opacity="0.85"/><stop offset="1" stop-color="#6f6f6f" stop-opacity="0.85"/></linearGradient>
<linearGradient id="g121" gradientUnits="userSpaceOnUse" x1="0" y1="154" x2="0" y2="229"><stop offset="0.2667" stop-color="#424242" stop-opacity="0"/><stop offset="0.3467" stop-color="#484848" stop-opacity="0.85"/><stop offset="0.8" stop-color="#555555" stop-opacity="0.85"/><stop offset="1" stop-color="#6f6f6f" stop-opacity="0.85"/></linearGradient>
<linearGradient id="g122" gradientUnits="userSpaceOnUse" x1="0" y1="154" x2="0" y2="229"><stop offset="0.1733" stop-color="#424242" stop-opacity="0"/><stop offset="0.2533" stop-color="#484848" stop-opacity="0.85"/><stop offset="0.8" stop-color="#555555" stop-opacity="0.85"/><stop offset="1" stop-color="#6f6f6f" stop-opacity="0.85"/></linearGradient>
<linearGradient id="g123" gradientUnits="userSpaceOnUse" x1="0" y1="154" x2="0" y2="229"><stop offset="0.2533" stop-color="#424242" stop-opacity="0"/><stop offset="0.3333" stop-color="#484848" stop-opacity="0.85"/><stop offset="0.8" stop-color="#555555" stop-opacity="0.85"/><stop offset="1" stop-color="#6f6f6f" stop-opacity="0.85"/></linearGradient>
<linearGradient id="g124" gradientUnits="userSpaceOnUse" x1="0" y1="154" x2="0" y2="229"><stop offset="0.3467" stop-color="#424242" stop-opacity="0"/><stop offset="0.4267" stop-color="#484848" stop-opacity="0.85"/><stop offset="0.8" stop-color="#555555" stop-opacity="0.85"/><stop offset="1" stop-color="#6f6f6f" stop-opacity="0.85"/></linearGradient>
<linearGradient id="g125" gradientUnits="userSpaceOnUse" x1="0" y1="154" x2="0" y2="229"><stop offset="0.36" stop-color="#424242" stop-opacity="0"/><stop offset="0.44" stop-color="#484848" stop-opacity="0.85"/><stop offset="0.8" stop-color="#555555" stop-opacity="0.85"/><stop offset="1" stop-color="#6f6f6f" stop-opacity="0.85"/></linearGradient>
<linearGradient id="g126" gradientUnits="userSpaceOnUse" x1="0" y1="154" x2="0" y2="229"><stop offset="0.24" stop-color="#424242" stop-opacity="0"/><stop offset="0.32" stop-color="#484848" stop-opacity="0.85"/><stop offset="0.8" stop-color="#555555" stop-opacity="0.85"/><stop offset="1" stop-color="#6f6f6f" stop-opacity="0.85"/></linearGradient>
<linearGradient id="g127" gradientUnits="userSpaceOnUse" x1="0" y1="154" x2="0" y2="229"><stop offset="0.08" stop-color="#424242" stop-opacity="0"/><stop offset="0.16" stop-color="#484848" stop-opacity="0.85"/><stop offset="0.8" stop-color="#555555" stop-opacity="0.85"/><stop offset="1" stop-color="#6f6f6f" stop-opacity="0.85"/></linearGradient>
<linearGradient id="g128" gradientUnits="userSpaceOnUse" x1="0" y1="154" x2="0" y2="229"><stop offset="0.3067" stop-color="#424242" stop-opacity="0"/><stop offset="0.3867" stop-color="#484848" stop-opacity="0.85"/><stop offset="0.8" stop-color="#555555" stop-opacity="0.85"/><stop offset="1" stop-color="#6f6f6f" stop-opacity="0.85"/></linearGradient>
<linearGradient id="g129" gradientUnits="userSpaceOnUse" x1="0" y1="154" x2="0" y2="229"><stop offset="0.0933" stop-color="#424242" stop-opacity="0"/><stop offset="0.1733" stop-color="#484848" stop-opacity="0.85"/><stop offset="0.8" stop-color="#555555" stop-opacity="0.85"/><stop offset="1" stop-color="#6f6f6f" stop-opacity="0.85"/></linearGradient>
<linearGradient id="g130" gradientUnits="userSpaceOnUse" x1="0" y1="154" x2="0" y2="229"><stop offset="0.1067" stop-color="#424242" stop-opacity="0"/><stop offset="0.1867" stop-color="#484848" stop-opacity="0.85"/><stop offset="0.8" stop-color="#555555" stop-opacity="0.85"/><stop offset="1" stop-color="#6f6f6f" stop-opacity="0.85"/></linearGradient>
<linearGradient id="g131" gradientUnits="userSpaceOnUse" x1="0" y1="154" x2="0" y2="229"><stop offset="0.2" stop-color="#424242" stop-opacity="0"/><stop offset="0.28" stop-color="#484848" stop-opacity="0.85"/><stop offset="0.8" stop-color="#555555" stop-opacity="0.85"/><stop offset="1" stop-color="#6f6f6f" stop-opacity="0.85"/></linearGradient>
<linearGradient id="g132" gradientUnits="userSpaceOnUse" x1="0" y1="154" x2="0" y2="229"><stop offset="0.3733" stop-color="#424242" stop-opacity="0"/><stop offset="0.4533" stop-color="#484848" stop-opacity="0.85"/><stop offset="0.8" stop-color="#555555" stop-opacity="0.85"/><stop offset="1" stop-color="#6f6f6f" stop-opacity="0.85"/></linearGradient>
<linearGradient id="g133" gradientUnits="userSpaceOnUse" x1="0" y1="154" x2="0" y2="229"><stop offset="0.12" stop-color="#424242" stop-opacity="0"/><stop offset="0.2" stop-color="#484848" stop-opacity="0.85"/><stop offset="0.8" stop-color="#555555" stop-opacity="0.85"/><stop offset="1" stop-color="#6f6f6f" stop-opacity="0.85"/></linearGradient>
<linearGradient id="g134" gradientUnits="userSpaceOnUse" x1="0" y1="154" x2="0" y2="229"><stop offset="0.2933" stop-color="#424242" stop-opacity="0"/><stop offset="0.3733" stop-color="#484848" stop-opacity="0.85"/><stop offset="0.8" stop-color="#555555" stop-opacity="0.85"/><stop offset="1" stop-color="#6f6f6f" stop-opacity="0.85"/></linearGradient>
<linearGradient id="g135" gradientUnits="userSpaceOnUse" x1="0" y1="154" x2="0" y2="229"><stop offset="0.3333" stop-color="#424242" stop-opacity="0"/><stop offset="0.4133" stop-color="#484848" stop-opacity="0.85"/><stop offset="0.8" stop-color="#555555" stop-opacity="0.85"/><stop offset="1" stop-color="#6f6f6f" stop-opacity="0.85"/></linearGradient>
<linearGradient id="g136" gradientUnits="userSpaceOnUse" x1="0" y1="154" x2="0" y2="229"><stop offset="0" stop-color="#2a2a2a" stop-opacity="0.7"/><stop offset="0.4" stop-color="#303030" stop-opacity="0.7"/><stop offset="0.7333" stop-color="#3a3a3a" stop-opacity="0.7"/><stop offset="0.88" stop-color="#4a4a4a" stop-opacity="0.7"/><stop offset="0.96" stop-color="#676767" stop-opacity="0.5"/><stop offset="1" stop-color="#808080" stop-opacity="0"/></linearGradient>
<linearGradient id="g137" gradientUnits="userSpaceOnUse" x1="0" y1="154" x2="0" y2="229"><stop offset="0.2933" stop-color="#242424" stop-opacity="0"/><stop offset="0.4" stop-color="#222222" stop-opacity="0.9"/><stop offset="0.8" stop-color="#242424" stop-opacity="0.9"/><stop offset="0.9067" stop-color="#2e2e2e" stop-opacity="0"/></linearGradient>
<linearGradient id="g138" gradientUnits="userSpaceOnUse" x1="0" y1="154" x2="0" y2="229"><stop offset="0.0533" stop-color="#424242" stop-opacity="0"/><stop offset="0.16" stop-color="#636363" stop-opacity="0.9"/><stop offset="0.5333" stop-color="#757575" stop-opacity="0.9"/><stop offset="0.8267" stop-color="#8a8a8a" stop-opacity="0.9"/><stop offset="1" stop-color="#a4a4a4" stop-opacity="0.9"/></linearGradient>
<linearGradient id="g139" gradientUnits="userSpaceOnUse" x1="0" y1="154" x2="0" y2="229"><stop offset="0.1333" stop-color="#464646" stop-opacity="0"/><stop offset="0.2133" stop-color="#515151" stop-opacity="0.85"/><stop offset="0.7333" stop-color="#5f5f5f" stop-opacity="0.85"/><stop offset="1" stop-color="#7b7b7b" stop-opacity="0.85"/></linearGradient>
<linearGradient id="g140" gradientUnits="userSpaceOnUse" x1="0" y1="154" x2="0" y2="229"><stop offset="0" stop-color="#424242" stop-opacity="0"/><stop offset="0.1067" stop-color="#636363" stop-opacity="0.9"/><stop offset="0.5333" stop-color="#757575" stop-opacity="0.9"/><stop offset="0.8267" stop-color="#8a8a8a" stop-opacity="0.9"/><stop offset="1" stop-color="#a4a4a4" stop-opacity="0.9"/></linearGradient>
<linearGradient id="g141" gradientUnits="userSpaceOnUse" x1="0" y1="154" x2="0" y2="229"><stop offset="0.1067" stop-color="#464646" stop-opacity="0"/><stop offset="0.1867" stop-color="#515151" stop-opacity="0.85"/><stop offset="0.7333" stop-color="#5f5f5f" stop-opacity="0.85"/><stop offset="1" stop-color="#7b7b7b" stop-opacity="0.85"/></linearGradient>
<linearGradient id="g142" gradientUnits="userSpaceOnUse" x1="0" y1="154" x2="0" y2="229"><stop offset="0" stop-color="#2a2a2a"/><stop offset="0.1067" stop-color="#2e2e2e"/><stop offset="0.1867" stop-color="#363636"/><stop offset="0.3333" stop-color="#424242"/><stop offset="0.6" stop-color="#4d4d4d"/><stop offset="0.8" stop-color="#5b5b5b"/><stop offset="0.9067" stop-color="#6b6b6b"/><stop offset="0.96" stop-color="#808080"/><stop offset="1" stop-color="#9e9e9e"/></linearGradient>
<linearGradient id="g143" gradientUnits="userSpaceOnUse" x1="0" y1="154" x2="0" y2="229"><stop offset="0.12" stop-color="#464646" stop-opacity="0"/><stop offset="0.2" stop-color="#515151" stop-opacity="0.85"/><stop offset="0.7333" stop-color="#5f5f5f" stop-opacity="0.85"/><stop offset="1" stop-color="#7b7b7b" stop-opacity="0.85"/></linearGradient>
<linearGradient id="g144" gradientUnits="userSpaceOnUse" x1="0" y1="154" x2="0" y2="229"><stop offset="0.1733" stop-color="#424242" stop-opacity="0"/><stop offset="0.28" stop-color="#636363" stop-opacity="0.9"/><stop offset="0.5333" stop-color="#757575" stop-opacity="0.9"/><stop offset="0.8267" stop-color="#8a8a8a" stop-opacity="0.9"/><stop offset="1" stop-color="#a4a4a4" stop-opacity="0.9"/></linearGradient>
<linearGradient id="g145" gradientUnits="userSpaceOnUse" x1="0" y1="154" x2="0" y2="229"><stop offset="0.2" stop-color="#464646" stop-opacity="0"/><stop offset="0.28" stop-color="#515151" stop-opacity="0.85"/><stop offset="0.7333" stop-color="#5f5f5f" stop-opacity="0.85"/><stop offset="1" stop-color="#7b7b7b" stop-opacity="0.85"/></linearGradient>
<linearGradient id="g146" gradientUnits="userSpaceOnUse" x1="0" y1="154" x2="0" y2="229"><stop offset="0.24" stop-color="#464646" stop-opacity="0"/><stop offset="0.32" stop-color="#515151" stop-opacity="0.85"/><stop offset="0.7333" stop-color="#5f5f5f" stop-opacity="0.85"/><stop offset="1" stop-color="#7b7b7b" stop-opacity="0.85"/></linearGradient>
<linearGradient id="g147" gradientUnits="userSpaceOnUse" x1="0" y1="154" x2="0" y2="229"><stop offset="0.1467" stop-color="#424242" stop-opacity="0"/><stop offset="0.2533" stop-color="#636363" stop-opacity="0.9"/><stop offset="0.5333" stop-color="#757575" stop-opacity="0.9"/><stop offset="0.8267" stop-color="#8a8a8a" stop-opacity="0.9"/><stop offset="1" stop-color="#a4a4a4" stop-opacity="0.9"/></linearGradient>
<linearGradient id="g148" gradientUnits="userSpaceOnUse" x1="0" y1="154" x2="0" y2="229"><stop offset="0.24" stop-color="#424242" stop-opacity="0"/><stop offset="0.3467" stop-color="#636363" stop-opacity="0.9"/><stop offset="0.5333" stop-color="#757575" stop-opacity="0.9"/><stop offset="0.8267" stop-color="#8a8a8a" stop-opacity="0.9"/><stop offset="1" stop-color="#a4a4a4" stop-opacity="0.9"/></linearGradient>
<linearGradient id="g149" gradientUnits="userSpaceOnUse" x1="0" y1="154" x2="0" y2="229"><stop offset="0.2133" stop-color="#464646" stop-opacity="0"/><stop offset="0.2933" stop-color="#515151" stop-opacity="0.85"/><stop offset="0.7333" stop-color="#5f5f5f" stop-opacity="0.85"/><stop offset="1" stop-color="#7b7b7b" stop-opacity="0.85"/></linearGradient>
<linearGradient id="g150" gradientUnits="userSpaceOnUse" x1="0" y1="154" x2="0" y2="229"><stop offset="0.0933" stop-color="#575757" stop-opacity="0"/><stop offset="0.2" stop-color="#808080" stop-opacity="0.9"/><stop offset="0.3333" stop-color="#989898" stop-opacity="0.9"/><stop offset="0.6" stop-color="#acacac" stop-opacity="0.9"/><stop offset="0.8267" stop-color="#c1c1c1" stop-opacity="0.9"/><stop offset="1" stop-color="#dbdbdb" stop-opacity="0.9"/></linearGradient>
<linearGradient id="g151" gradientUnits="userSpaceOnUse" x1="0" y1="154" x2="0" y2="229"><stop offset="0.08" stop-color="#424242" stop-opacity="0"/><stop offset="0.1867" stop-color="#636363" stop-opacity="0.9"/><stop offset="0.5333" stop-color="#757575" stop-opacity="0.9"/><stop offset="0.8267" stop-color="#8a8a8a" stop-opacity="0.9"/><stop offset="1" stop-color="#a4a4a4" stop-opacity="0.9"/></linearGradient>
<linearGradient id="g152" gradientUnits="userSpaceOnUse" x1="0" y1="154" x2="0" y2="229"><stop offset="0.1467" stop-color="#4d4d4d" stop-opacity="0"/><stop offset="0.2533" stop-color="#6f6f6f" stop-opacity="0.9"/><stop offset="0.3333" stop-color="#8a8a8a" stop-opacity="0.9"/><stop offset="0.6667" stop-color="#989898" stop-opacity="0.9"/><stop offset="0.88" stop-color="#a8a8a8" stop-opacity="0.9"/><stop offset="1" stop-color="#c1c1c1" stop-opacity="0.9"/></linearGradient>
<linearGradient id="g153" gradientUnits="userSpaceOnUse" x1="0" y1="154" x2="0" y2="229"><stop offset="0.16" stop-color="#424242" stop-opacity="0"/><stop offset="0.2667" stop-color="#636363" stop-opacity="0.9"/><stop offset="0.5333" stop-color="#757575" stop-opacity="0.9"/><stop offset="0.8267" stop-color="#8a8a8a" stop-opacity="0.9"/><stop offset="1" stop-color="#a4a4a4" stop-opacity="0.9"/></linearGradient>
<linearGradient id="g154" gradientUnits="userSpaceOnUse" x1="0" y1="154" x2="0" y2="229"><stop offset="0.1067" stop-color="#424242" stop-opacity="0"/><stop offset="0.2133" stop-color="#636363" stop-opacity="0.9"/><stop offset="0.5333" stop-color="#757575" stop-opacity="0.9"/><stop offset="0.8267" stop-color="#8a8a8a" stop-opacity="0.9"/><stop offset="1" stop-color="#a4a4a4" stop-opacity="0.9"/></linearGradient>
<linearGradient id="g155" gradientUnits="userSpaceOnUse" x1="0" y1="154" x2="0" y2="229"><stop offset="0.1067" stop-color="#4d4d4d" stop-opacity="0"/><stop offset="0.2133" stop-color="#6f6f6f" stop-opacity="0.9"/><stop offset="0.3333" stop-color="#8a8a8a" stop-opacity="0.9"/><stop offset="0.6667" stop-color="#989898" stop-opacity="0.9"/><stop offset="0.88" stop-color="#a8a8a8" stop-opacity="0.9"/><stop offset="1" stop-color="#c1c1c1" stop-opacity="0.9"/></linearGradient>
<linearGradient id="g156" gradientUnits="userSpaceOnUse" x1="0" y1="154" x2="0" y2="229"><stop offset="0.0933" stop-color="#424242" stop-opacity="0"/><stop offset="0.2" stop-color="#636363" stop-opacity="0.9"/><stop offset="0.5333" stop-color="#757575" stop-opacity="0.9"/><stop offset="0.8267" stop-color="#8a8a8a" stop-opacity="0.9"/><stop offset="1" stop-color="#a4a4a4" stop-opacity="0.9"/></linearGradient>
<linearGradient id="g157" gradientUnits="userSpaceOnUse" x1="0" y1="154" x2="0" y2="229"><stop offset="0.1467" stop-color="#464646" stop-opacity="0"/><stop offset="0.2267" stop-color="#515151" stop-opacity="0.85"/><stop offset="0.7333" stop-color="#5f5f5f" stop-opacity="0.85"/><stop offset="1" stop-color="#7b7b7b" stop-opacity="0.85"/></linearGradient>
<linearGradient id="g158" gradientUnits="userSpaceOnUse" x1="0" y1="154" x2="0" y2="229"><stop offset="0.0533" stop-color="#4d4d4d" stop-opacity="0"/><stop offset="0.16" stop-color="#6f6f6f" stop-opacity="0.9"/><stop offset="0.3333" stop-color="#8a8a8a" stop-opacity="0.9"/><stop offset="0.6667" stop-color="#989898" stop-opacity="0.9"/><stop offset="0.88" stop-color="#a8a8a8" stop-opacity="0.9"/><stop offset="1" stop-color="#c1c1c1" stop-opacity="0.9"/></linearGradient>
<linearGradient id="g159" gradientUnits="userSpaceOnUse" x1="0" y1="154" x2="0" y2="229"><stop offset="0.12" stop-color="#575757" stop-opacity="0"/><stop offset="0.2267" stop-color="#808080" stop-opacity="0.9"/><stop offset="0.3333" stop-color="#989898" stop-opacity="0.9"/><stop offset="0.6" stop-color="#acacac" stop-opacity="0.9"/><stop offset="0.8267" stop-color="#c1c1c1" stop-opacity="0.9"/><stop offset="1" stop-color="#dbdbdb" stop-opacity="0.9"/></linearGradient>
<linearGradient id="g160" gradientUnits="userSpaceOnUse" x1="0" y1="154" x2="0" y2="229"><stop offset="0.0533" stop-color="#464646" stop-opacity="0"/><stop offset="0.1333" stop-color="#515151" stop-opacity="0.85"/><stop offset="0.7333" stop-color="#5f5f5f" stop-opacity="0.85"/><stop offset="1" stop-color="#7b7b7b" stop-opacity="0.85"/></linearGradient>
<linearGradient id="g161" gradientUnits="userSpaceOnUse" x1="0" y1="154" x2="0" y2="229"><stop offset="0.16" stop-color="#4d4d4d" stop-opacity="0"/><stop offset="0.2667" stop-color="#6f6f6f" stop-opacity="0.9"/><stop offset="0.3333" stop-color="#8a8a8a" stop-opacity="0.9"/><stop offset="0.6667" stop-color="#989898" stop-opacity="0.9"/><stop offset="0.88" stop-color="#a8a8a8" stop-opacity="0.9"/><stop offset="1" stop-color="#c1c1c1" stop-opacity="0.9"/></linearGradient>
<linearGradient id="g162" gradientUnits="userSpaceOnUse" x1="0" y1="154" x2="0" y2="229"><stop offset="0" stop-color="#343434"/><stop offset="0.0533" stop-color="#424242"/><stop offset="0.1067" stop-color="#5d5d5d"/><stop offset="0.1733" stop-color="#7b7b7b"/><stop offset="0.2667" stop-color="#909090"/><stop offset="0.4533" stop-color="#a0a0a0"/><stop offset="0.64" stop-color="#b0b0b0"/><stop offset="0.7733" stop-color="#c3c3c3"/><stop offset="0.88" stop-color="#d9d9d9"/><stop offset="0.96" stop-color="#ececec"/><stop offset="1" stop-color="#f2f2f2"/></linearGradient>
<linearGradient id="g163" gradientUnits="userSpaceOnUse" x1="0" y1="154" x2="0" y2="229"><stop offset="0" stop-color="#424242" stop-opacity="0.8"/><stop offset="0.16" stop-color="#636363" stop-opacity="0.8"/><stop offset="0.5333" stop-color="#808080" stop-opacity="0.8"/><stop offset="0.8" stop-color="#989898" stop-opacity="0.8"/><stop offset="0.9333" stop-color="#c7c7c7" stop-opacity="0.4"/><stop offset="1" stop-color="#f0f0f0" stop-opacity="0"/></linearGradient>
<linearGradient id="g164" gradientUnits="userSpaceOnUse" x1="0" y1="154" x2="0" y2="229"><stop offset="0.0267" stop-color="#6b6b6b" stop-opacity="0"/><stop offset="0.1333" stop-color="#989898" stop-opacity="0.8"/><stop offset="0.4" stop-color="#b5b5b5" stop-opacity="0.8"/><stop offset="0.6667" stop-color="#c9c9c9" stop-opacity="0.8"/><stop offset="0.8267" stop-color="#e1e1e1" stop-opacity="0.8"/><stop offset="1" stop-color="#f2f2f2" stop-opacity="0.8"/></linearGradient>
<linearGradient id="g165" gradientUnits="userSpaceOnUse" x1="0" y1="154" x2="0" y2="229"><stop offset="0" stop-color="#535353" stop-opacity="0.9"/><stop offset="0.4" stop-color="#6b6b6b" stop-opacity="0.9"/><stop offset="0.6667" stop-color="#848484" stop-opacity="0.9"/><stop offset="0.8267" stop-color="#b3b3b3" stop-opacity="0.6"/><stop offset="0.9333" stop-color="#e6e6e6" stop-opacity="0"/></linearGradient>
<linearGradient id="g166" gradientUnits="userSpaceOnUse" x1="0" y1="154" x2="0" y2="229"><stop offset="0.0667" stop-color="#575757" stop-opacity="0"/><stop offset="0.2" stop-color="#808080" stop-opacity="0.8"/><stop offset="0.6667" stop-color="#949494" stop-opacity="0.8"/><stop offset="1" stop-color="#bdbdbd" stop-opacity="0.8"/></linearGradient>
<linearGradient id="g167" gradientUnits="userSpaceOnUse" x1="0" y1="154" x2="0" y2="229"><stop offset="0.16" stop-color="#464646" stop-opacity="0"/><stop offset="0.24" stop-color="#515151" stop-opacity="0.85"/><stop offset="0.7333" stop-color="#5f5f5f" stop-opacity="0.85"/><stop offset="1" stop-color="#7b7b7b" stop-opacity="0.85"/></linearGradient>
<linearGradient id="g168" gradientUnits="userSpaceOnUse" x1="0" y1="154" x2="0" y2="229"><stop offset="0.1867" stop-color="#424242" stop-opacity="0"/><stop offset="0.2933" stop-color="#636363" stop-opacity="0.9"/><stop offset="0.5333" stop-color="#757575" stop-opacity="0.9"/><stop offset="0.8267" stop-color="#8a8a8a" stop-opacity="0.9"/><stop offset="1" stop-color="#a4a4a4" stop-opacity="0.9"/></linearGradient>
<linearGradient id="g169" gradientUnits="userSpaceOnUse" x1="0" y1="154" x2="0" y2="229"><stop offset="0.2667" stop-color="#464646" stop-opacity="0"/><stop offset="0.3467" stop-color="#515151" stop-opacity="0.85"/><stop offset="0.7333" stop-color="#5f5f5f" stop-opacity="0.85"/><stop offset="1" stop-color="#7b7b7b" stop-opacity="0.85"/></linearGradient>
<linearGradient id="g170" gradientUnits="userSpaceOnUse" x1="0" y1="154" x2="0" y2="229"><stop offset="0.0267" stop-color="#575757" stop-opacity="0.5"/><stop offset="0.1067" stop-color="#6f6f6f"/><stop offset="0.2667" stop-color="#808080"/><stop offset="0.4533" stop-color="#909090"/><stop offset="0.64" stop-color="#a0a0a0"/><stop offset="0.7733" stop-color="#b3b3b3"/><stop offset="0.88" stop-color="#c5c5c5"/><stop offset="1" stop-color="#e1e1e1"/></linearGradient>
<linearGradient id="g171" gradientUnits="userSpaceOnUse" x1="0" y1="154" x2="0" y2="229"><stop offset="0.2" stop-color="#4d4d4d" stop-opacity="0"/><stop offset="0.4667" stop-color="#5d5d5d" stop-opacity="0.8"/><stop offset="1" stop-color="#8a8a8a" stop-opacity="0.8"/></linearGradient>
<linearGradient id="g172" gradientUnits="userSpaceOnUse" x1="0" y1="154" x2="0" y2="229"><stop offset="0.8933" stop-color="#353535" stop-opacity="0"/><stop offset="0.9413" stop-color="#444444" stop-opacity="0.56"/><stop offset="0.96" stop-color="#575757" stop-opacity="0.8"/><stop offset="0.9733" stop-color="#575757" stop-opacity="0.48"/><stop offset="1" stop-color="#575757" stop-opacity="0"/></linearGradient>
<linearGradient id="g173" gradientUnits="userSpaceOnUse" x1="0" y1="154" x2="0" y2="229"><stop offset="0.0667" stop-color="#2e2e2e" stop-opacity="0"/><stop offset="0.16" stop-color="#333333" stop-opacity="0.9"/><stop offset="0.4" stop-color="#363636" stop-opacity="0.9"/><stop offset="0.6667" stop-color="#404040" stop-opacity="0.9"/><stop offset="0.7733" stop-color="#515151" stop-opacity="0.9"/><stop offset="0.8533" stop-color="#6f6f6f" stop-opacity="0.9"/><stop offset="0.9067" stop-color="#989898"/><stop offset="0.9467" stop-color="#c7c7c7"/><stop offset="1" stop-color="#eaeaea"/></linearGradient>
<linearGradient id="g174" gradientUnits="userSpaceOnUse" x1="0" y1="154" x2="0" y2="229"><stop offset="0.08" stop-color="#4d4d4d" stop-opacity="0"/><stop offset="0.16" stop-color="#676767" stop-opacity="0.8"/><stop offset="0.8" stop-color="#777777" stop-opacity="0.8"/><stop offset="0.9067" stop-color="#949494" stop-opacity="0"/></linearGradient>
<linearGradient id="g175" gradientUnits="userSpaceOnUse" x1="0" y1="154" x2="0" y2="229"><stop offset="0.1333" stop-color="#464646" stop-opacity="0"/><stop offset="0.2667" stop-color="#5d5d5d" stop-opacity="0.7"/><stop offset="0.8" stop-color="#6f6f6f" stop-opacity="0.7"/><stop offset="0.9067" stop-color="#8a8a8a" stop-opacity="0"/></linearGradient>
<linearGradient id="g176" gradientUnits="userSpaceOnUse" x1="0" y1="154" x2="0" y2="229"><stop offset="0" stop-color="#575757" stop-opacity="0"/><stop offset="0.0533" stop-color="#575757"/><stop offset="0.1333" stop-color="#757575"/><stop offset="0.2667" stop-color="#989898"/><stop offset="0.3733" stop-color="#c7c7c7"/><stop offset="0.4533" stop-color="#e6e6e6"/><stop offset="1" stop-color="#f0f0f0"/></linearGradient>
<linearGradient id="g177" gradientUnits="userSpaceOnUse" x1="0" y1="154" x2="0" y2="229"><stop offset="0.08" stop-color="#575757" stop-opacity="0"/><stop offset="0.16" stop-color="#757575" stop-opacity="0.8"/><stop offset="0.5333" stop-color="#949494" stop-opacity="0.8"/><stop offset="1" stop-color="#d1d1d1" stop-opacity="0.8"/></linearGradient>
<linearGradient id="g178" gradientUnits="userSpaceOnUse" x1="0" y1="154" x2="0" y2="229"><stop offset="0.0133" stop-color="#424242" stop-opacity="0"/><stop offset="0.0667" stop-color="#424242"/><stop offset="0.1333" stop-color="#5b5b5b"/><stop offset="0.6667" stop-color="#6f6f6f"/><stop offset="1" stop-color="#a8a8a8"/></linearGradient>
<linearGradient id="g179" gradientUnits="userSpaceOnUse" x1="0" y1="154" x2="0" y2="229"><stop offset="0" stop-color="#6b6b6b"/><stop offset="0.0533" stop-color="#8a8a8a"/><stop offset="0.1067" stop-color="#b3b3b3"/><stop offset="0.16" stop-color="#e6e6e6"/><stop offset="1" stop-color="#fafafa"/></linearGradient>
<linearGradient id="g180" gradientUnits="userSpaceOnUse" x1="0" y1="154" x2="0" y2="229"><stop offset="0" stop-color="#4d4d4d" stop-opacity="0.8"/><stop offset="0.16" stop-color="#808080" stop-opacity="0.9"/><stop offset="1" stop-color="#989898" stop-opacity="0.9"/></linearGradient>
<linearGradient id="g181" gradientUnits="userSpaceOnUse" x1="0" y1="154" x2="0" y2="229"><stop offset="0" stop-color="#424242"/><stop offset="0.08" stop-color="#535353"/><stop offset="0.1867" stop-color="#6b6b6b"/><stop offset="0.2933" stop-color="#808080"/><stop offset="0.4267" stop-color="#909090"/><stop offset="0.56" stop-color="#a0a0a0"/><stop offset="0.6667" stop-color="#b5b5b5"/><stop offset="0.7733" stop-color="#d5d5d5"/><stop offset="0.8267" stop-color="#eaeaea"/><stop offset="1" stop-color="#f6f6f6"/></linearGradient>
<linearGradient id="g182" gradientUnits="userSpaceOnUse" x1="0" y1="154" x2="0" y2="229"><stop offset="0.08" stop-color="#424242" stop-opacity="0"/><stop offset="0.2" stop-color="#6b6b6b" stop-opacity="0.8"/><stop offset="1" stop-color="#9e9e9e" stop-opacity="0.9"/></linearGradient>
<linearGradient id="g183" gradientUnits="userSpaceOnUse" x1="0" y1="154" x2="0" y2="229"><stop offset="0.16" stop-color="#808080" stop-opacity="0"/><stop offset="0.2933" stop-color="#a0a0a0" stop-opacity="0.8"/><stop offset="0.6" stop-color="#c7c7c7" stop-opacity="0.8"/><stop offset="0.7733" stop-color="#e6e6e6" stop-opacity="0.5"/><stop offset="1" stop-color="#f0f0f0" stop-opacity="0"/></linearGradient>
<linearGradient id="g184" gradientUnits="userSpaceOnUse" x1="0" y1="154" x2="0" y2="229"><stop offset="0.1067" stop-color="#2a2a2a" stop-opacity="0"/><stop offset="0.2933" stop-color="#313131" stop-opacity="0.7"/><stop offset="0.6" stop-color="#373737" stop-opacity="0.7"/><stop offset="0.7733" stop-color="#404040" stop-opacity="0.7"/><stop offset="0.9067" stop-color="#4d4d4d" stop-opacity="0"/></linearGradient>
<linearGradient id="g185" gradientUnits="userSpaceOnUse" x1="0" y1="154" x2="0" y2="229"><stop offset="0.1467" stop-color="#424242" stop-opacity="0"/><stop offset="0.2267" stop-color="#484848" stop-opacity="0.85"/><stop offset="0.8" stop-color="#555555" stop-opacity="0.85"/><stop offset="1" stop-color="#6f6f6f" stop-opacity="0.85"/></linearGradient>
<linearGradient id="g186" gradientUnits="userSpaceOnUse" x1="0" y1="154" x2="0" y2="229"><stop offset="0.52" stop-color="#424242" stop-opacity="0"/><stop offset="0.6" stop-color="#484848" stop-opacity="0.85"/><stop offset="0.8" stop-color="#555555" stop-opacity="0.85"/><stop offset="1" stop-color="#6f6f6f" stop-opacity="0.85"/></linearGradient>
<linearGradient id="g187" gradientUnits="userSpaceOnUse" x1="0" y1="154" x2="0" y2="229"><stop offset="0.1333" stop-color="#424242" stop-opacity="0"/><stop offset="0.2133" stop-color="#484848" stop-opacity="0.85"/><stop offset="0.8" stop-color="#555555" stop-opacity="0.85"/><stop offset="1" stop-color="#6f6f6f" stop-opacity="0.85"/></linearGradient>
<linearGradient id="g188" gradientUnits="userSpaceOnUse" x1="0" y1="154" x2="0" y2="229"><stop offset="0.3867" stop-color="#424242" stop-opacity="0"/><stop offset="0.4667" stop-color="#484848" stop-opacity="0.85"/><stop offset="0.8" stop-color="#555555" stop-opacity="0.85"/><stop offset="1" stop-color="#6f6f6f" stop-opacity="0.85"/></linearGradient>
<linearGradient id="g189" gradientUnits="userSpaceOnUse" x1="0" y1="154" x2="0" y2="229"><stop offset="0.4" stop-color="#424242" stop-opacity="0"/><stop offset="0.48" stop-color="#484848" stop-opacity="0.85"/><stop offset="0.8" stop-color="#555555" stop-opacity="0.85"/><stop offset="1" stop-color="#6f6f6f" stop-opacity="0.85"/></linearGradient>
<linearGradient id="g190" gradientUnits="userSpaceOnUse" x1="0" y1="154" x2="0" y2="229"><stop offset="0.48" stop-color="#424242" stop-opacity="0"/><stop offset="0.56" stop-color="#484848" stop-opacity="0.85"/><stop offset="0.8" stop-color="#555555" stop-opacity="0.85"/><stop offset="1" stop-color="#6f6f6f" stop-opacity="0.85"/></linearGradient>
<linearGradient id="g191" gradientUnits="userSpaceOnUse" x1="0" y1="154" x2="0" y2="229"><stop offset="0.4267" stop-color="#424242" stop-opacity="0"/><stop offset="0.5067" stop-color="#484848" stop-opacity="0.85"/><stop offset="0.8" stop-color="#555555" stop-opacity="0.85"/><stop offset="1" stop-color="#6f6f6f" stop-opacity="0.85"/></linearGradient>
<linearGradient id="g192" gradientUnits="userSpaceOnUse" x1="0" y1="154" x2="0" y2="229"><stop offset="0.4533" stop-color="#424242" stop-opacity="0"/><stop offset="0.5333" stop-color="#484848" stop-opacity="0.85"/><stop offset="0.8" stop-color="#555555" stop-opacity="0.85"/><stop offset="1" stop-color="#6f6f6f" stop-opacity="0.85"/></linearGradient>
<linearGradient id="g193" gradientUnits="userSpaceOnUse" x1="0" y1="154" x2="0" y2="229"><stop offset="0.4133" stop-color="#424242" stop-opacity="0"/><stop offset="0.4933" stop-color="#484848" stop-opacity="0.85"/><stop offset="0.8" stop-color="#555555" stop-opacity="0.85"/><stop offset="1" stop-color="#6f6f6f" stop-opacity="0.85"/></linearGradient>
<linearGradient id="g194" gradientUnits="userSpaceOnUse" x1="0" y1="154" x2="0" y2="229"><stop offset="0.32" stop-color="#424242" stop-opacity="0"/><stop offset="0.4" stop-color="#484848" stop-opacity="0.85"/><stop offset="0.8" stop-color="#555555" stop-opacity="0.85"/><stop offset="1" stop-color="#6f6f6f" stop-opacity="0.85"/></linearGradient>
<linearGradient id="g195" gradientUnits="userSpaceOnUse" x1="0" y1="154" x2="0" y2="229"><stop offset="0.4933" stop-color="#424242" stop-opacity="0"/><stop offset="0.5733" stop-color="#484848" stop-opacity="0.85"/><stop offset="0.8" stop-color="#555555" stop-opacity="0.85"/><stop offset="1" stop-color="#6f6f6f" stop-opacity="0.85"/></linearGradient>
<linearGradient id="g196" gradientUnits="userSpaceOnUse" x1="0" y1="154" x2="0" y2="229"><stop offset="0.5067" stop-color="#424242" stop-opacity="0"/><stop offset="0.5867" stop-color="#484848" stop-opacity="0.85"/><stop offset="0.8" stop-color="#555555" stop-opacity="0.85"/><stop offset="1" stop-color="#6f6f6f" stop-opacity="0.85"/></linearGradient>
<linearGradient id="g197" gradientUnits="userSpaceOnUse" x1="0" y1="154" x2="0" y2="229"><stop offset="0.1333" stop-color="#2e2e2e" stop-opacity="0"/><stop offset="0.4" stop-color="#323232" stop-opacity="0.7"/><stop offset="0.7333" stop-color="#3c3c3c" stop-opacity="0.8"/><stop offset="0.8533" stop-color="#4f4f4f" stop-opacity="0.8"/><stop offset="0.96" stop-color="#636363" stop-opacity="0.6"/><stop offset="1" stop-color="#808080" stop-opacity="0"/></linearGradient>
<linearGradient id="g198" gradientUnits="userSpaceOnUse" x1="0" y1="154" x2="0" y2="229"><stop offset="0.5333" stop-color="#3e3e3e" stop-opacity="0"/><stop offset="0.6133" stop-color="#3e3e3e" stop-opacity="0.7"/><stop offset="1" stop-color="#515151" stop-opacity="0.7"/></linearGradient>
<linearGradient id="g199" gradientUnits="userSpaceOnUse" x1="0" y1="154" x2="0" y2="229"><stop offset="0.3067" stop-color="#3e3e3e" stop-opacity="0"/><stop offset="0.3867" stop-color="#3e3e3e" stop-opacity="0.7"/><stop offset="1" stop-color="#515151" stop-opacity="0.7"/></linearGradient>
<linearGradient id="g200" gradientUnits="userSpaceOnUse" x1="0" y1="154" x2="0" y2="229"><stop offset="0.5467" stop-color="#3e3e3e" stop-opacity="0"/><stop offset="0.6267" stop-color="#3e3e3e" stop-opacity="0.7"/><stop offset="1" stop-color="#515151" stop-opacity="0.7"/></linearGradient>
<linearGradient id="g201" gradientUnits="userSpaceOnUse" x1="0" y1="154" x2="0" y2="229"><stop offset="0.48" stop-color="#3e3e3e" stop-opacity="0"/><stop offset="0.56" stop-color="#3e3e3e" stop-opacity="0.7"/><stop offset="1" stop-color="#515151" stop-opacity="0.7"/></linearGradient>
<linearGradient id="g202" gradientUnits="userSpaceOnUse" x1="0" y1="154" x2="0" y2="229"><stop offset="0.32" stop-color="#3e3e3e" stop-opacity="0"/><stop offset="0.4" stop-color="#3e3e3e" stop-opacity="0.7"/><stop offset="1" stop-color="#515151" stop-opacity="0.7"/></linearGradient>
<linearGradient id="g203" gradientUnits="userSpaceOnUse" x1="0" y1="154" x2="0" y2="229"><stop offset="0.2533" stop-color="#3e3e3e" stop-opacity="0"/><stop offset="0.3333" stop-color="#3e3e3e" stop-opacity="0.7"/><stop offset="1" stop-color="#515151" stop-opacity="0.7"/></linearGradient>
<linearGradient id="g204" gradientUnits="userSpaceOnUse" x1="0" y1="154" x2="0" y2="229"><stop offset="0.4133" stop-color="#3e3e3e" stop-opacity="0"/><stop offset="0.4933" stop-color="#3e3e3e" stop-opacity="0.7"/><stop offset="1" stop-color="#515151" stop-opacity="0.7"/></linearGradient>
<linearGradient id="g205" gradientUnits="userSpaceOnUse" x1="0" y1="154" x2="0" y2="229"><stop offset="0.1333" stop-color="#424242" stop-opacity="0"/><stop offset="0.2133" stop-color="#424242" stop-opacity="0.9"/><stop offset="1" stop-color="#575757" stop-opacity="0.9"/></linearGradient>
<linearGradient id="g206" gradientUnits="userSpaceOnUse" x1="0" y1="154" x2="0" y2="229"><stop offset="0.16" stop-color="#424242" stop-opacity="0"/><stop offset="0.3333" stop-color="#4d4d4d" stop-opacity="0.8"/><stop offset="0.6667" stop-color="#575757" stop-opacity="0.9"/><stop offset="1" stop-color="#757575" stop-opacity="0.9"/></linearGradient>
<linearGradient id="g207" gradientUnits="userSpaceOnUse" x1="0" y1="154" x2="0" y2="229"><stop offset="0.1067" stop-color="#4d4d4d" stop-opacity="0"/><stop offset="0.16" stop-color="#4d4d4d"/><stop offset="0.2133" stop-color="#6f6f6f"/><stop offset="0.4" stop-color="#808080"/><stop offset="0.56" stop-color="#989898"/><stop offset="0.6933" stop-color="#b3b3b3"/><stop offset="1" stop-color="#c1c1c1"/></linearGradient>
<linearGradient id="g208" gradientUnits="userSpaceOnUse" x1="0" y1="154" x2="0" y2="229"><stop offset="0.1867" stop-color="#4d4d4d" stop-opacity="0"/><stop offset="0.2667" stop-color="#4d4d4d" stop-opacity="0.9"/><stop offset="1" stop-color="#6b6b6b" stop-opacity="0.9"/></linearGradient>
<linearGradient id="g209" gradientUnits="userSpaceOnUse" x1="0" y1="154" x2="0" y2="229"><stop offset="0.2667" stop-color="#2e2e2e" stop-opacity="0"/><stop offset="0.5333" stop-color="#383838" stop-opacity="0.7"/><stop offset="0.8267" stop-color="#4d4d4d" stop-opacity="0.8"/><stop offset="0.96" stop-color="#676767" stop-opacity="0.6"/><stop offset="1" stop-color="#808080" stop-opacity="0"/></linearGradient>
<linearGradient id="g210" gradientUnits="userSpaceOnUse" x1="0" y1="154" x2="0" y2="229"><stop offset="0.68" stop-color="#474747" stop-opacity="0"/><stop offset="0.824" stop-color="#616161" stop-opacity="0.56"/><stop offset="0.96" stop-color="#808080" stop-opacity="0.8"/><stop offset="0.9733" stop-color="#808080" stop-opacity="0.48"/><stop offset="1" stop-color="#808080" stop-opacity="0"/></linearGradient>
<linearGradient id="g211" gradientUnits="userSpaceOnUse" x1="0" y1="154" x2="0" y2="229"><stop offset="0.84" stop-color="#404040" stop-opacity="0"/><stop offset="0.912" stop-color="#555555" stop-opacity="0.56"/><stop offset="0.96" stop-color="#6f6f6f" stop-opacity="0.8"/><stop offset="0.9733" stop-color="#6f6f6f" stop-opacity="0.48"/><stop offset="1" stop-color="#6f6f6f" stop-opacity="0"/></linearGradient>
<linearGradient id="g212" gradientUnits="userSpaceOnUse" x1="0" y1="154" x2="0" y2="229"><stop offset="0.7067" stop-color="#474747" stop-opacity="0"/><stop offset="0.8387" stop-color="#616161" stop-opacity="0.56"/><stop offset="0.96" stop-color="#808080" stop-opacity="0.8"/><stop offset="0.9733" stop-color="#808080" stop-opacity="0.48"/><stop offset="1" stop-color="#808080" stop-opacity="0"/></linearGradient>
<linearGradient id="g213" gradientUnits="userSpaceOnUse" x1="0" y1="154" x2="0" y2="229"><stop offset="0.0667" stop-color="#2e2e2e" stop-opacity="0"/><stop offset="0.2667" stop-color="#343434" stop-opacity="0.6"/><stop offset="0.6667" stop-color="#3a3a3a" stop-opacity="0.6"/><stop offset="0.8" stop-color="#424242" stop-opacity="0"/></linearGradient>
<linearGradient id="g214" gradientUnits="userSpaceOnUse" x1="0" y1="154" x2="0" y2="229"><stop offset="0.32" stop-color="#424242" stop-opacity="0"/><stop offset="0.4" stop-color="#424242" stop-opacity="0.7"/><stop offset="1" stop-color="#636363" stop-opacity="0.7"/></linearGradient>
<linearGradient id="g215" gradientUnits="userSpaceOnUse" x1="0" y1="154" x2="0" y2="229"><stop offset="0.4133" stop-color="#424242" stop-opacity="0"/><stop offset="0.4933" stop-color="#424242" stop-opacity="0.7"/><stop offset="1" stop-color="#636363" stop-opacity="0.7"/></linearGradient>
<linearGradient id="g216" gradientUnits="userSpaceOnUse" x1="0" y1="154" x2="0" y2="229"><stop offset="0.0933" stop-color="#424242" stop-opacity="0"/><stop offset="0.1733" stop-color="#424242" stop-opacity="0.7"/><stop offset="1" stop-color="#636363" stop-opacity="0.7"/></linearGradient>
<linearGradient id="g217" gradientUnits="userSpaceOnUse" x1="0" y1="154" x2="0" y2="229"><stop offset="0.5067" stop-color="#424242" stop-opacity="0"/><stop offset="0.5867" stop-color="#424242" stop-opacity="0.7"/><stop offset="1" stop-color="#636363" stop-opacity="0.7"/></linearGradient>
<linearGradient id="g218" gradientUnits="userSpaceOnUse" x1="0" y1="154" x2="0" y2="229"><stop offset="0.0667" stop-color="#424242" stop-opacity="0"/><stop offset="0.1467" stop-color="#424242" stop-opacity="0.7"/><stop offset="1" stop-color="#636363" stop-opacity="0.7"/></linearGradient>
<linearGradient id="g219" gradientUnits="userSpaceOnUse" x1="0" y1="154" x2="0" y2="229"><stop offset="0.3067" stop-color="#424242" stop-opacity="0"/><stop offset="0.3867" stop-color="#424242" stop-opacity="0.7"/><stop offset="1" stop-color="#636363" stop-opacity="0.7"/></linearGradient>
<linearGradient id="g220" gradientUnits="userSpaceOnUse" x1="0" y1="154" x2="0" y2="229"><stop offset="0.3733" stop-color="#424242" stop-opacity="0"/><stop offset="0.4533" stop-color="#424242" stop-opacity="0.7"/><stop offset="1" stop-color="#636363" stop-opacity="0.7"/></linearGradient>
<linearGradient id="g221" gradientUnits="userSpaceOnUse" x1="0" y1="154" x2="0" y2="229"><stop offset="0.1733" stop-color="#424242" stop-opacity="0"/><stop offset="0.2533" stop-color="#424242" stop-opacity="0.7"/><stop offset="1" stop-color="#636363" stop-opacity="0.7"/></linearGradient>
<linearGradient id="g222" gradientUnits="userSpaceOnUse" x1="0" y1="154" x2="0" y2="229"><stop offset="0.4667" stop-color="#424242" stop-opacity="0"/><stop offset="0.5467" stop-color="#424242" stop-opacity="0.7"/><stop offset="1" stop-color="#636363" stop-opacity="0.7"/></linearGradient>
<linearGradient id="g223" gradientUnits="userSpaceOnUse" x1="0" y1="154" x2="0" y2="229"><stop offset="0.12" stop-color="#424242" stop-opacity="0"/><stop offset="0.2" stop-color="#424242" stop-opacity="0.7"/><stop offset="1" stop-color="#636363" stop-opacity="0.7"/></linearGradient>
<linearGradient id="g224" gradientUnits="userSpaceOnUse" x1="0" y1="154" x2="0" y2="229"><stop offset="0.1467" stop-color="#424242" stop-opacity="0"/><stop offset="0.2267" stop-color="#424242" stop-opacity="0.7"/><stop offset="1" stop-color="#636363" stop-opacity="0.7"/></linearGradient>
<linearGradient id="g225" gradientUnits="userSpaceOnUse" x1="0" y1="154" x2="0" y2="229"><stop offset="0.4533" stop-color="#424242" stop-opacity="0"/><stop offset="0.5333" stop-color="#424242" stop-opacity="0.7"/><stop offset="1" stop-color="#636363" stop-opacity="0.7"/></linearGradient>
<linearGradient id="g226" gradientUnits="userSpaceOnUse" x1="0" y1="154" x2="0" y2="229"><stop offset="0.36" stop-color="#424242" stop-opacity="0"/><stop offset="0.44" stop-color="#424242" stop-opacity="0.7"/><stop offset="1" stop-color="#636363" stop-opacity="0.7"/></linearGradient>
<linearGradient id="g227" gradientUnits="userSpaceOnUse" x1="0" y1="154" x2="0" y2="229"><stop offset="0.2" stop-color="#424242" stop-opacity="0"/><stop offset="0.28" stop-color="#424242" stop-opacity="0.7"/><stop offset="1" stop-color="#636363" stop-opacity="0.7"/></linearGradient>
<linearGradient id="g228" gradientUnits="userSpaceOnUse" x1="0" y1="154" x2="0" y2="229"><stop offset="0.5333" stop-color="#424242" stop-opacity="0"/><stop offset="0.6133" stop-color="#424242" stop-opacity="0.7"/><stop offset="1" stop-color="#636363" stop-opacity="0.7"/></linearGradient>
<linearGradient id="g229" gradientUnits="userSpaceOnUse" x1="0" y1="154" x2="0" y2="229"><stop offset="0.52" stop-color="#424242" stop-opacity="0"/><stop offset="0.6" stop-color="#424242" stop-opacity="0.7"/><stop offset="1" stop-color="#636363" stop-opacity="0.7"/></linearGradient>
<linearGradient id="g230" gradientUnits="userSpaceOnUse" x1="0" y1="154" x2="0" y2="229"><stop offset="0.2133" stop-color="#424242" stop-opacity="0"/><stop offset="0.2933" stop-color="#424242" stop-opacity="0.7"/><stop offset="1" stop-color="#636363" stop-opacity="0.7"/></linearGradient>
<linearGradient id="g231" gradientUnits="userSpaceOnUse" x1="0" y1="154" x2="0" y2="229"><stop offset="0.9667" stop-color="#949494" stop-opacity="0"/><stop offset="0.984" stop-color="#bdbdbd" stop-opacity="0.9"/><stop offset="1" stop-color="#e1e1e1"/></linearGradient>
<linearGradient id="g232" gradientUnits="userSpaceOnUse" x1="0" y1="154" x2="0" y2="229"><stop offset="0.7067" stop-color="#575757" stop-opacity="0"/><stop offset="0.7867" stop-color="#575757" stop-opacity="0.7"/><stop offset="1" stop-color="#808080" stop-opacity="0.7"/></linearGradient>
<linearGradient id="g233" gradientUnits="userSpaceOnUse" x1="0" y1="154" x2="0" y2="229"><stop offset="0.6667" stop-color="#575757" stop-opacity="0"/><stop offset="0.7467" stop-color="#575757" stop-opacity="0.7"/><stop offset="1" stop-color="#808080" stop-opacity="0.7"/></linearGradient>
<linearGradient id="g234" gradientUnits="userSpaceOnUse" x1="0" y1="154" x2="0" y2="229"><stop offset="0.6533" stop-color="#575757" stop-opacity="0"/><stop offset="0.7333" stop-color="#575757" stop-opacity="0.7"/><stop offset="1" stop-color="#808080" stop-opacity="0.7"/></linearGradient>
<linearGradient id="g235" gradientUnits="userSpaceOnUse" x1="0" y1="154" x2="0" y2="229"><stop offset="0.72" stop-color="#575757" stop-opacity="0"/><stop offset="0.8" stop-color="#575757" stop-opacity="0.7"/><stop offset="1" stop-color="#808080" stop-opacity="0.7"/></linearGradient>
<linearGradient id="g236" gradientUnits="userSpaceOnUse" x1="0" y1="154" x2="0" y2="229"><stop offset="0.6933" stop-color="#575757" stop-opacity="0"/><stop offset="0.7733" stop-color="#575757" stop-opacity="0.7"/><stop offset="1" stop-color="#808080" stop-opacity="0.7"/></linearGradient>
<linearGradient id="g237" gradientUnits="userSpaceOnUse" x1="0" y1="154" x2="0" y2="229"><stop offset="0.6267" stop-color="#575757" stop-opacity="0"/><stop offset="0.7067" stop-color="#575757" stop-opacity="0.7"/><stop offset="1" stop-color="#808080" stop-opacity="0.7"/></linearGradient>
<linearGradient id="g238" gradientUnits="userSpaceOnUse" x1="0" y1="154" x2="0" y2="229"><stop offset="0.68" stop-color="#575757" stop-opacity="0"/><stop offset="0.76" stop-color="#575757" stop-opacity="0.7"/><stop offset="1" stop-color="#808080" stop-opacity="0.7"/></linearGradient>
<linearGradient id="g239" gradientUnits="userSpaceOnUse" x1="0" y1="154" x2="0" y2="229"><stop offset="0.4" stop-color="#575757" stop-opacity="0"/><stop offset="0.48" stop-color="#575757" stop-opacity="0.8"/><stop offset="1" stop-color="#757575" stop-opacity="0.8"/></linearGradient>
<linearGradient id="g240" gradientUnits="userSpaceOnUse" x1="0" y1="154" x2="0" y2="229"><stop offset="0.1333" stop-color="#464646" stop-opacity="0"/><stop offset="0.1867" stop-color="#464646"/><stop offset="0.32" stop-color="#636363"/><stop offset="0.5333" stop-color="#808080"/><stop offset="0.8" stop-color="#9c9c9c"/><stop offset="1" stop-color="#b3b3b3"/></linearGradient>
<linearGradient id="g241" gradientUnits="userSpaceOnUse" x1="0" y1="154" x2="0" y2="229"><stop offset="0" stop-color="#535353"/><stop offset="0.1067" stop-color="#6b6b6b"/><stop offset="0.1867" stop-color="#949494"/><stop offset="0.32" stop-color="#bdbdbd"/><stop offset="0.5333" stop-color="#dbdbdb"/><stop offset="1" stop-color="#e6e6e6"/></linearGradient>
<linearGradient id="g242" gradientUnits="userSpaceOnUse" x1="0" y1="154" x2="0" y2="229"><stop offset="0.0267" stop-color="#4d4d4d" stop-opacity="0"/><stop offset="0.08" stop-color="#4d4d4d"/><stop offset="0.16" stop-color="#6b6b6b"/><stop offset="0.5333" stop-color="#8a8a8a"/><stop offset="1" stop-color="#a0a0a0"/></linearGradient>
<linearGradient id="g243" gradientUnits="userSpaceOnUse" x1="0" y1="154" x2="0" y2="229"><stop offset="0" stop-color="#a0a0a0"/><stop offset="0.08" stop-color="#acacac"/><stop offset="0.1333" stop-color="#c7c7c7"/><stop offset="0.1867" stop-color="#e1e1e1"/><stop offset="1" stop-color="#eaeaea"/></linearGradient>
<linearGradient id="g244" gradientUnits="userSpaceOnUse" x1="0" y1="154" x2="0" y2="229"><stop offset="0" stop-color="#949494" stop-opacity="0.5"/><stop offset="1" stop-color="#d1d1d1" stop-opacity="0.5"/></linearGradient>
<linearGradient id="g245" gradientUnits="userSpaceOnUse" x1="0" y1="154" x2="0" y2="229"><stop offset="0" stop-color="#383838" stop-opacity="0.8"/><stop offset="0.1333" stop-color="#4d4d4d" stop-opacity="0.8"/><stop offset="1" stop-color="#575757" stop-opacity="0.8"/></linearGradient>
<linearGradient id="g246" gradientUnits="userSpaceOnUse" x1="0" y1="154" x2="0" y2="229"><stop offset="0.2" stop-color="#2e2e2e" stop-opacity="0"/><stop offset="0.3733" stop-color="#3c3c3c" stop-opacity="0.8"/><stop offset="0.6667" stop-color="#4a4a4a" stop-opacity="0.9"/><stop offset="0.8533" stop-color="#5f5f5f" stop-opacity="0.9"/><stop offset="0.96" stop-color="#757575" stop-opacity="0.7"/><stop offset="1" stop-color="#808080" stop-opacity="0"/></linearGradient>
<linearGradient id="g247" gradientUnits="userSpaceOnUse" x1="0" y1="154" x2="0" y2="229"><stop offset="0.24" stop-color="#464646" stop-opacity="0"/><stop offset="0.32" stop-color="#464646" stop-opacity="0.7"/><stop offset="1" stop-color="#636363" stop-opacity="0.7"/></linearGradient>
<linearGradient id="g248" gradientUnits="userSpaceOnUse" x1="0" y1="154" x2="0" y2="229"><stop offset="0.4" stop-color="#464646" stop-opacity="0"/><stop offset="0.48" stop-color="#464646" stop-opacity="0.7"/><stop offset="1" stop-color="#636363" stop-opacity="0.7"/></linearGradient>
<linearGradient id="g249" gradientUnits="userSpaceOnUse" x1="0" y1="154" x2="0" y2="229"><stop offset="0.32" stop-color="#464646" stop-opacity="0"/><stop offset="0.4" stop-color="#464646" stop-opacity="0.7"/><stop offset="1" stop-color="#636363" stop-opacity="0.7"/></linearGradient>
<linearGradient id="g250" gradientUnits="userSpaceOnUse" x1="0" y1="154" x2="0" y2="229"><stop offset="0.2533" stop-color="#464646" stop-opacity="0"/><stop offset="0.3333" stop-color="#464646" stop-opacity="0.7"/><stop offset="1" stop-color="#636363" stop-opacity="0.7"/></linearGradient>
<linearGradient id="g251" gradientUnits="userSpaceOnUse" x1="0" y1="154" x2="0" y2="229"><stop offset="0.2667" stop-color="#464646" stop-opacity="0"/><stop offset="0.3467" stop-color="#464646" stop-opacity="0.7"/><stop offset="1" stop-color="#636363" stop-opacity="0.7"/></linearGradient>
<linearGradient id="g252" gradientUnits="userSpaceOnUse" x1="0" y1="154" x2="0" y2="229"><stop offset="0.3733" stop-color="#464646" stop-opacity="0"/><stop offset="0.4533" stop-color="#464646" stop-opacity="0.7"/><stop offset="1" stop-color="#636363" stop-opacity="0.7"/></linearGradient>
<linearGradient id="g253" gradientUnits="userSpaceOnUse" x1="0" y1="154" x2="0" y2="229"><stop offset="0.0533" stop-color="#4d4d4d" stop-opacity="0"/><stop offset="0.1067" stop-color="#4d4d4d"/><stop offset="0.1867" stop-color="#6b6b6b"/><stop offset="1" stop-color="#808080"/></linearGradient>
<linearGradient id="g254" gradientUnits="userSpaceOnUse" x1="0" y1="154" x2="0" y2="229"><stop offset="0.0267" stop-color="#575757" stop-opacity="0"/><stop offset="0.08" stop-color="#575757"/><stop offset="0.16" stop-color="#757575"/><stop offset="0.5333" stop-color="#909090"/><stop offset="1" stop-color="#a0a0a0"/></linearGradient>
<linearGradient id="g255" gradientUnits="userSpaceOnUse" x1="0" y1="154" x2="0" y2="229"><stop offset="0.0667" stop-color="#424242" stop-opacity="0.6"/><stop offset="0.1867" stop-color="#5b5b5b" stop-opacity="0.9"/><stop offset="0.3733" stop-color="#6f6f6f" stop-opacity="0.9"/><stop offset="0.64" stop-color="#808080" stop-opacity="0.9"/><stop offset="0.8533" stop-color="#909090" stop-opacity="0.9"/><stop offset="1" stop-color="#a8a8a8" stop-opacity="0.9"/></linearGradient>
<linearGradient id="g256" gradientUnits="userSpaceOnUse" x1="0" y1="154" x2="0" y2="229"><stop offset="0.1867" stop-color="#6f6f6f" stop-opacity="0.5"/><stop offset="0.3467" stop-color="#8a8a8a" stop-opacity="0.9"/><stop offset="0.6133" stop-color="#9c9c9c" stop-opacity="0.9"/><stop offset="0.88" stop-color="#b0b0b0" stop-opacity="0.9"/><stop offset="1" stop-color="#c1c1c1" stop-opacity="0.9"/></linearGradient>
<filter id="f3" filterUnits="userSpaceOnUse" x="81" y="365" width="419" height="75" color-interpolation-filters="sRGB">
<feTurbulence type="fractalNoise" baseFrequency="0.79 0.43" numOctaves="2" seed="11" result="n"/>
<feColorMatrix in="n" type="matrix" values=".5 .5 .5 .5 -.5 .5 .5 .5 .5 -.5 .5 .5 .5 .5 -.5 0 0 0 0 1"/>
<feComponentTransfer result="gn"><feFuncR type="table" tableValues="0.309 0.325 0.341 0.356 0.371 0.384 0.398 0.41 0.422 0.433 0.444 0.455 0.464 0.474 0.483 0.492 0.5 0.508 0.515 0.523 0.53 0.537 0.543 0.55 0.556 0.561 0.567 0.573 0.578 0.583 0.588 0.593 0.598"/><feFuncG type="table" tableValues="0.309 0.325 0.341 0.356 0.371 0.384 0.398 0.41 0.422 0.433 0.444 0.455 0.464 0.474 0.483 0.492 0.5 0.508 0.515 0.523 0.53 0.537 0.543 0.55 0.556 0.561 0.567 0.573 0.578 0.583 0.588 0.593 0.598"/><feFuncB type="table" tableValues="0.309 0.325 0.341 0.356 0.371 0.384 0.398 0.41 0.422 0.433 0.444 0.455 0.464 0.474 0.483 0.492 0.5 0.508 0.515 0.523 0.53 0.537 0.543 0.55 0.556 0.561 0.567 0.573 0.578 0.583 0.588 0.593 0.598"/></feComponentTransfer>
<feComposite in="SourceGraphic" in2="gn" operator="arithmetic" k1="0" k2="1" k3="1" k4="-0.5" result="s"/>
<feComponentTransfer in="s"><feFuncR type="table" tableValues="0 0 0 0 0 0 0 0 0 0 0 0 0 0 0 0 0 0 0 0 0 0 0 0 0 0 0 0 0 0 0 0 0 0 0 0 0 0 0 0 0 0 0 0 0 0 0 0 0 0 0.048 0.147 0.246 0.345 0.444 0.544 0.643 0.742 0.841 0.94 1 1 1 1 1 1 1 1 1 1 1 1 1 1 1 1 1 1 1 1 1 1 1 1 1 1 1 1 1 1 1 1 1 1 1 1 1 1 1 1 1"/><feFuncG type="table" tableValues="0 0 0 0 0 0 0 0 0 0 0 0 0 0 0 0 0 0 0 0 0 0.014 0.135 0.255 0.375 0.495 0.615 0.736 0.856 0.976 1 1 1 1 1 1 1 1 1 1 1 1 1 1 1 1 1 1 1 1 1 1 1 1 1 1 1 1 1 1 0.986 0.953 0.919 0.885 0.851 0.818 0.784 0.75 0.716 0.682 0.649 0.615 0.581 0.547 0.514 0.48 0.446 0.412 0.378 0.345 0.311 0.277 0.243 0.209 0.176 0.142 0.108 0.074 0.041 0.007 0 0 0 0 0 0 0 0 0 0 0"/><feFuncB type="table" tableValues="0 0 0 0 0 0 0 0 0 0 0.502 0.548 0.594 0.639 0.685 0.731 0.777 0.822 0.868 0.914 0.96 1 1 1 1 1 1 1 1 1 0.961 0.911 0.862 0.813 0.764 0.715 0.665 0.616 0.567 0.518 0.469 0.419 0.37 0.321 0.272 0.222 0.173 0.124 0.075 0.026 0 0 0 0 0 0 0 0 0 0 0 0 0 0 0 0 0 0 0 0 0 0 0 0 0 0 0 0 0 0 0 0 0 0 0 0 0 0 0 0 0 0 0 0 0 0 0 0 0 0 0"/><feFuncA type="linear" slope="0" intercept="1"/></feComponentTransfer>
</filter>
<filter id="f4" filterUnits="userSpaceOnUse" x="81" y="461" width="419" height="75" color-interpolation-filters="sRGB">
<feTurbulence type="fractalNoise" baseFrequency="0.79 0.43" numOctaves="2" seed="12" result="n"/>
<feColorMatrix in="n" type="matrix" values=".5 .5 .5 .5 -.5 .5 .5 .5 .5 -.5 .5 .5 .5 .5 -.5 0 0 0 0 1"/>
<feComponentTransfer result="gn"><feFuncR type="table" tableValues="0.309 0.325 0.341 0.356 0.371 0.384 0.398 0.41 0.422 0.433 0.444 0.455 0.464 0.474 0.483 0.492 0.5 0.508 0.515 0.523 0.53 0.537 0.543 0.55 0.556 0.561 0.567 0.573 0.578 0.583 0.588 0.593 0.598"/><feFuncG type="table" tableValues="0.309 0.325 0.341 0.356 0.371 0.384 0.398 0.41 0.422 0.433 0.444 0.455 0.464 0.474 0.483 0.492 0.5 0.508 0.515 0.523 0.53 0.537 0.543 0.55 0.556 0.561 0.567 0.573 0.578 0.583 0.588 0.593 0.598"/><feFuncB type="table" tableValues="0.309 0.325 0.341 0.356 0.371 0.384 0.398 0.41 0.422 0.433 0.444 0.455 0.464 0.474 0.483 0.492 0.5 0.508 0.515 0.523 0.53 0.537 0.543 0.55 0.556 0.561 0.567 0.573 0.578 0.583 0.588 0.593 0.598"/></feComponentTransfer>
<feComposite in="SourceGraphic" in2="gn" operator="arithmetic" k1="0" k2="1" k3="1" k4="-0.5" result="s"/>
<feComponentTransfer in="s"><feFuncR type="table" tableValues="0 0 0 0 0 0 0 0 0 0 0 0 0 0 0 0 0 0 0 0 0 0 0 0 0 0 0 0 0 0 0 0 0 0 0 0 0 0 0 0 0 0 0 0 0 0 0 0 0 0 0.048 0.147 0.246 0.345 0.444 0.544 0.643 0.742 0.841 0.94 1 1 1 1 1 1 1 1 1 1 1 1 1 1 1 1 1 1 1 1 1 1 1 1 1 1 1 1 1 1 1 1 1 1 1 1 1 1 1 1 1"/><feFuncG type="table" tableValues="0 0 0 0 0 0 0 0 0 0 0 0 0 0 0 0 0 0 0 0 0 0.014 0.135 0.255 0.375 0.495 0.615 0.736 0.856 0.976 1 1 1 1 1 1 1 1 1 1 1 1 1 1 1 1 1 1 1 1 1 1 1 1 1 1 1 1 1 1 0.986 0.953 0.919 0.885 0.851 0.818 0.784 0.75 0.716 0.682 0.649 0.615 0.581 0.547 0.514 0.48 0.446 0.412 0.378 0.345 0.311 0.277 0.243 0.209 0.176 0.142 0.108 0.074 0.041 0.007 0 0 0 0 0 0 0 0 0 0 0"/><feFuncB type="table" tableValues="0 0 0 0 0 0 0 0 0 0 0.502 0.548 0.594 0.639 0.685 0.731 0.777 0.822 0.868 0.914 0.96 1 1 1 1 1 1 1 1 1 0.961 0.911 0.862 0.813 0.764 0.715 0.665 0.616 0.567 0.518 0.469 0.419 0.37 0.321 0.272 0.222 0.173 0.124 0.075 0.026 0 0 0 0 0 0 0 0 0 0 0 0 0 0 0 0 0 0 0 0 0 0 0 0 0 0 0 0 0 0 0 0 0 0 0 0 0 0 0 0 0 0 0 0 0 0 0 0 0 0 0"/><feFuncA type="linear" slope="0" intercept="1"/></feComponentTransfer>
</filter>
<filter id="f5" filterUnits="userSpaceOnUse" x="81" y="557" width="419" height="75" color-interpolation-filters="sRGB">
<feTurbulence type="fractalNoise" baseFrequency="0.79 0.43" numOctaves="2" seed="13" result="n"/>
<feColorMatrix in="n" type="matrix" values=".5 .5 .5 .5 -.5 .5 .5 .5 .5 -.5 .5 .5 .5 .5 -.5 0 0 0 0 1"/>
<feComponentTransfer result="gn"><feFuncR type="table" tableValues="0.309 0.325 0.341 0.356 0.371 0.384 0.398 0.41 0.422 0.433 0.444 0.455 0.464 0.474 0.483 0.492 0.5 0.508 0.515 0.523 0.53 0.537 0.543 0.55 0.556 0.561 0.567 0.573 0.578 0.583 0.588 0.593 0.598"/><feFuncG type="table" tableValues="0.309 0.325 0.341 0.356 0.371 0.384 0.398 0.41 0.422 0.433 0.444 0.455 0.464 0.474 0.483 0.492 0.5 0.508 0.515 0.523 0.53 0.537 0.543 0.55 0.556 0.561 0.567 0.573 0.578 0.583 0.588 0.593 0.598"/><feFuncB type="table" tableValues="0.309 0.325 0.341 0.356 0.371 0.384 0.398 0.41 0.422 0.433 0.444 0.455 0.464 0.474 0.483 0.492 0.5 0.508 0.515 0.523 0.53 0.537 0.543 0.55 0.556 0.561 0.567 0.573 0.578 0.583 0.588 0.593 0.598"/></feComponentTransfer>
<feComposite in="SourceGraphic" in2="gn" operator="arithmetic" k1="0" k2="1" k3="1" k4="-0.5" result="s"/>
<feComponentTransfer in="s"><feFuncR type="table" tableValues="0 0 0 0 0 0 0 0 0 0 0 0 0 0 0 0 0 0 0 0 0 0 0 0 0 0 0 0 0 0 0 0 0 0 0 0 0 0 0 0 0 0 0 0 0 0 0 0 0 0 0.048 0.147 0.246 0.345 0.444 0.544 0.643 0.742 0.841 0.94 1 1 1 1 1 1 1 1 1 1 1 1 1 1 1 1 1 1 1 1 1 1 1 1 1 1 1 1 1 1 1 1 1 1 1 1 1 1 1 1 1"/><feFuncG type="table" tableValues="0 0 0 0 0 0 0 0 0 0 0 0 0 0 0 0 0 0 0 0 0 0.014 0.135 0.255 0.375 0.495 0.615 0.736 0.856 0.976 1 1 1 1 1 1 1 1 1 1 1 1 1 1 1 1 1 1 1 1 1 1 1 1 1 1 1 1 1 1 0.986 0.953 0.919 0.885 0.851 0.818 0.784 0.75 0.716 0.682 0.649 0.615 0.581 0.547 0.514 0.48 0.446 0.412 0.378 0.345 0.311 0.277 0.243 0.209 0.176 0.142 0.108 0.074 0.041 0.007 0 0 0 0 0 0 0 0 0 0 0"/><feFuncB type="table" tableValues="0 0 0 0 0 0 0 0 0 0 0.502 0.548 0.594 0.639 0.685 0.731 0.777 0.822 0.868 0.914 0.96 1 1 1 1 1 1 1 1 1 0.961 0.911 0.862 0.813 0.764 0.715 0.665 0.616 0.567 0.518 0.469 0.419 0.37 0.321 0.272 0.222 0.173 0.124 0.075 0.026 0 0 0 0 0 0 0 0 0 0 0 0 0 0 0 0 0 0 0 0 0 0 0 0 0 0 0 0 0 0 0 0 0 0 0 0 0 0 0 0 0 0 0 0 0 0 0 0 0 0 0"/><feFuncA type="linear" slope="0" intercept="1"/></feComponentTransfer>
</filter>
<filter id="f0" filterUnits="userSpaceOnUse" x="81" y="58" width="419" height="75" color-interpolation-filters="sRGB">
<feTurbulence type="fractalNoise" baseFrequency="0.79 0.43" numOctaves="2" seed="3" result="n"/>
<feColorMatrix in="n" type="matrix" values=".5 .5 .5 .5 -.5 .5 .5 .5 .5 -.5 .5 .5 .5 .5 -.5 0 0 0 0 1"/>
<feComponentTransfer result="gn"><feFuncR type="table" tableValues="0.245 0.267 0.288 0.308 0.328 0.346 0.363 0.38 0.396 0.411 0.426 0.439 0.453 0.465 0.477 0.489 0.5 0.51 0.521 0.53 0.54 0.549 0.558 0.566 0.574 0.582 0.59 0.597 0.604 0.611 0.617 0.624 0.63"/><feFuncG type="table" tableValues="0.245 0.267 0.288 0.308 0.328 0.346 0.363 0.38 0.396 0.411 0.426 0.439 0.453 0.465 0.477 0.489 0.5 0.51 0.521 0.53 0.54 0.549 0.558 0.566 0.574 0.582 0.59 0.597 0.604 0.611 0.617 0.624 0.63"/><feFuncB type="table" tableValues="0.245 0.267 0.288 0.308 0.328 0.346 0.363 0.38 0.396 0.411 0.426 0.439 0.453 0.465 0.477 0.489 0.5 0.51 0.521 0.53 0.54 0.549 0.558 0.566 0.574 0.582 0.59 0.597 0.604 0.611 0.617 0.624 0.63"/></feComponentTransfer>
<feComposite in="SourceGraphic" in2="gn" operator="arithmetic" k1="0" k2="1" k3="1" k4="-0.5" result="s"/>
<feComponentTransfer in="s"><feFuncR type="table" tableValues="0 0 0 0 0 0 0 0 0 0 0 0 0 0 0 0 0 0 0 0 0 0 0 0 0 0 0 0 0 0 0 0 0 0 0 0 0 0 0 0 0 0 0 0 0 0 0 0 0 0 0.048 0.147 0.246 0.345 0.444 0.544 0.643 0.742 0.841 0.94 1 1 1 1 1 1 1 1 1 1 1 1 1 1 1 1 1 1 1 1 1 1 1 1 1 1 1 1 1 1 1 1 1 1 1 1 1 1 1 1 1"/><feFuncG type="table" tableValues="0 0 0 0 0 0 0 0 0 0 0 0 0 0 0 0 0 0 0 0 0 0.014 0.135 0.255 0.375 0.495 0.615 0.736 0.856 0.976 1 1 1 1 1 1 1 1 1 1 1 1 1 1 1 1 1 1 1 1 1 1 1 1 1 1 1 1 1 1 0.986 0.953 0.919 0.885 0.851 0.818 0.784 0.75 0.716 0.682 0.649 0.615 0.581 0.547 0.514 0.48 0.446 0.412 0.378 0.345 0.311 0.277 0.243 0.209 0.176 0.142 0.108 0.074 0.041 0.007 0 0 0 0 0 0 0 0 0 0 0"/><feFuncB type="table" tableValues="0 0 0 0 0 0 0 0 0 0 0.502 0.548 0.594 0.639 0.685 0.731 0.777 0.822 0.868 0.914 0.96 1 1 1 1 1 1 1 1 1 0.961 0.911 0.862 0.813 0.764 0.715 0.665 0.616 0.567 0.518 0.469 0.419 0.37 0.321 0.272 0.222 0.173 0.124 0.075 0.026 0 0 0 0 0 0 0 0 0 0 0 0 0 0 0 0 0 0 0 0 0 0 0 0 0 0 0 0 0 0 0 0 0 0 0 0 0 0 0 0 0 0 0 0 0 0 0 0 0 0 0"/><feFuncA type="linear" slope="0" intercept="1"/></feComponentTransfer>
</filter>
<filter id="f1" filterUnits="userSpaceOnUse" x="81" y="154" width="419" height="75" color-interpolation-filters="sRGB">
<feTurbulence type="fractalNoise" baseFrequency="0.79 0.43" numOctaves="2" seed="4" result="n"/>
<feColorMatrix in="n" type="matrix" values=".5 .5 .5 .5 -.5 .5 .5 .5 .5 -.5 .5 .5 .5 .5 -.5 0 0 0 0 1"/>
<feComponentTransfer result="gn"><feFuncR type="table" tableValues="0.245 0.267 0.288 0.308 0.328 0.346 0.363 0.38 0.396 0.411 0.426 0.439 0.453 0.465 0.477 0.489 0.5 0.51 0.521 0.53 0.54 0.549 0.558 0.566 0.574 0.582 0.59 0.597 0.604 0.611 0.617 0.624 0.63"/><feFuncG type="table" tableValues="0.245 0.267 0.288 0.308 0.328 0.346 0.363 0.38 0.396 0.411 0.426 0.439 0.453 0.465 0.477 0.489 0.5 0.51 0.521 0.53 0.54 0.549 0.558 0.566 0.574 0.582 0.59 0.597 0.604 0.611 0.617 0.624 0.63"/><feFuncB type="table" tableValues="0.245 0.267 0.288 0.308 0.328 0.346 0.363 0.38 0.396 0.411 0.426 0.439 0.453 0.465 0.477 0.489 0.5 0.51 0.521 0.53 0.54 0.549 0.558 0.566 0.574 0.582 0.59 0.597 0.604 0.611 0.617 0.624 0.63"/></feComponentTransfer>
<feComposite in="SourceGraphic" in2="gn" operator="arithmetic" k1="0" k2="1" k3="1" k4="-0.5" result="s"/>
<feComponentTransfer in="s"><feFuncR type="table" tableValues="0 0 0 0 0 0 0 0 0 0 0 0 0 0 0 0 0 0 0 0 0 0 0 0 0 0 0 0 0 0 0 0 0 0 0 0 0 0 0 0 0 0 0 0 0 0 0 0 0 0 0.048 0.147 0.246 0.345 0.444 0.544 0.643 0.742 0.841 0.94 1 1 1 1 1 1 1 1 1 1 1 1 1 1 1 1 1 1 1 1 1 1 1 1 1 1 1 1 1 1 1 1 1 1 1 1 1 1 1 1 1"/><feFuncG type="table" tableValues="0 0 0 0 0 0 0 0 0 0 0 0 0 0 0 0 0 0 0 0 0 0.014 0.135 0.255 0.375 0.495 0.615 0.736 0.856 0.976 1 1 1 1 1 1 1 1 1 1 1 1 1 1 1 1 1 1 1 1 1 1 1 1 1 1 1 1 1 1 0.986 0.953 0.919 0.885 0.851 0.818 0.784 0.75 0.716 0.682 0.649 0.615 0.581 0.547 0.514 0.48 0.446 0.412 0.378 0.345 0.311 0.277 0.243 0.209 0.176 0.142 0.108 0.074 0.041 0.007 0 0 0 0 0 0 0 0 0 0 0"/><feFuncB type="table" tableValues="0 0 0 0 0 0 0 0 0 0 0.502 0.548 0.594 0.639 0.685 0.731 0.777 0.822 0.868 0.914 0.96 1 1 1 1 1 1 1 1 1 0.961 0.911 0.862 0.813 0.764 0.715 0.665 0.616 0.567 0.518 0.469 0.419 0.37 0.321 0.272 0.222 0.173 0.124 0.075 0.026 0 0 0 0 0 0 0 0 0 0 0 0 0 0 0 0 0 0 0 0 0 0 0 0 0 0 0 0 0 0 0 0 0 0 0 0 0 0 0 0 0 0 0 0 0 0 0 0 0 0 0"/><feFuncA type="linear" slope="0" intercept="1"/></feComponentTransfer>
</filter>
<filter id="f2" filterUnits="userSpaceOnUse" x="76" y="245" width="429" height="85" color-interpolation-filters="sRGB">
<feTurbulence type="fractalNoise" baseFrequency="0.79 0.43" numOctaves="2" seed="7" result="n"/>
<feColorMatrix in="n" type="matrix" values=".5 .5 .5 .5 -.5 .5 .5 .5 .5 -.5 .5 .5 .5 .5 -.5 0 0 0 0 1"/>
<feComponentTransfer result="gn"><feFuncR type="table" tableValues="0.406 0.415 0.424 0.432 0.44 0.447 0.454 0.46 0.466 0.471 0.476 0.481 0.485 0.489 0.493 0.497 0.5 0.503 0.506 0.509 0.511 0.513 0.516 0.518 0.52 0.522 0.524 0.525 0.527 0.528 0.53 0.531 0.533"/><feFuncG type="table" tableValues="0.406 0.415 0.424 0.432 0.44 0.447 0.454 0.46 0.466 0.471 0.476 0.481 0.485 0.489 0.493 0.497 0.5 0.503 0.506 0.509 0.511 0.513 0.516 0.518 0.52 0.522 0.524 0.525 0.527 0.528 0.53 0.531 0.533"/><feFuncB type="table" tableValues="0.406 0.415 0.424 0.432 0.44 0.447 0.454 0.46 0.466 0.471 0.476 0.481 0.485 0.489 0.493 0.497 0.5 0.503 0.506 0.509 0.511 0.513 0.516 0.518 0.52 0.522 0.524 0.525 0.527 0.528 0.53 0.531 0.533"/></feComponentTransfer>
<feGaussianBlur in="SourceGraphic" stdDeviation="0.9 0.9" result="b"/><feComposite in="b" in2="gn" operator="arithmetic" k1="0" k2="1" k3="1" k4="-0.5" result="s"/>
<feComponentTransfer in="s"><feFuncR type="table" tableValues="0 0 0 0 0 0 0 0 0 0 0 0 0 0 0 0 0 0 0 0 0 0 0 0 0 0 0 0 0 0 0 0 0 0 0 0 0 0 0 0 0 0 0 0 0 0 0 0 0 0 0.048 0.147 0.246 0.345 0.444 0.544 0.643 0.742 0.841 0.94 1 1 1 1 1 1 1 1 1 1 1 1 1 1 1 1 1 1 1 1 1 1 1 1 1 1 1 1 1 1 1 1 1 1 1 1 1 1 1 1 1"/><feFuncG type="table" tableValues="0 0 0 0 0 0 0 0 0 0 0 0 0 0 0 0 0 0 0 0 0 0.014 0.135 0.255 0.375 0.495 0.615 0.736 0.856 0.976 1 1 1 1 1 1 1 1 1 1 1 1 1 1 1 1 1 1 1 1 1 1 1 1 1 1 1 1 1 1 0.986 0.953 0.919 0.885 0.851 0.818 0.784 0.75 0.716 0.682 0.649 0.615 0.581 0.547 0.514 0.48 0.446 0.412 0.378 0.345 0.311 0.277 0.243 0.209 0.176 0.142 0.108 0.074 0.041 0.007 0 0 0 0 0 0 0 0 0 0 0"/><feFuncB type="table" tableValues="0 0 0 0 0 0 0 0 0 0 0.502 0.548 0.594 0.639 0.685 0.731 0.777 0.822 0.868 0.914 0.96 1 1 1 1 1 1 1 1 1 0.961 0.911 0.862 0.813 0.764 0.715 0.665 0.616 0.567 0.518 0.469 0.419 0.37 0.321 0.272 0.222 0.173 0.124 0.075 0.026 0 0 0 0 0 0 0 0 0 0 0 0 0 0 0 0 0 0 0 0 0 0 0 0 0 0 0 0 0 0 0 0 0 0 0 0 0 0 0 0 0 0 0 0 0 0 0 0 0 0 0"/><feFuncA type="linear" slope="0" intercept="1"/></feComponentTransfer>
</filter>
<clipPath id="cp2"><rect x="81" y="250" width="419" height="75"/></clipPath>
<linearGradient id="cb" x1="0" y1="0" x2="0" y2="1"><stop offset="0" stop-color="rgb(255,0,0)"/><stop offset="0.01" stop-color="rgb(255,0,0)"/><stop offset="0.38" stop-color="rgb(255,255,0)"/><stop offset="0.51" stop-color="rgb(0,255,0)"/><stop offset="0.76" stop-color="rgb(0,255,255)"/><stop offset="0.86" stop-color="rgb(0,0,255)"/><stop offset="1" stop-color="rgb(0,0,128)"/></linearGradient>
</defs>
<rect width="640" height="768" fill="#fff"/>
<g filter="url(#f3)"><rect x="81" y="365" width="419" height="75" fill="url(#g1)"/></g>
<g filter="url(#f4)"><rect x="81" y="461" width="419" height="75" fill="url(#g2)"/></g>
<g filter="url(#f5)"><rect x="81" y="557" width="419" height="75" fill="url(#g3)"/></g>
<g filter="url(#f0)"><rect x="81" y="58" width="419" height="75" fill="url(#g4)"/><rect x="81" y="58" width="79" height="75" fill="url(#g5)"/><rect x="323" y="58" width="27" height="75" fill="url(#g6)"/><polygon points="81,116 83,118 86,125 89,133 81,133" fill="url(#g7)"/><rect x="102" y="102" width="1" height="31" fill="url(#g8)" opacity="0.68"/><rect x="106" y="98" width="1" height="35" fill="url(#g9)" opacity="0.79"/><rect x="139" y="105" width="1" height="28" fill="url(#g10)" opacity="0.82"/><rect x="152" y="80" width="1" height="53" fill="url(#g11)" opacity="0.53"/><rect x="142" y="89" width="1" height="44" fill="url(#g12)" opacity="0.52"/><rect x="110" y="94" width="1" height="39" fill="url(#g13)" opacity="0.59"/><rect x="110" y="84" width="1" height="49" fill="url(#g14)" opacity="0.56"/><rect x="128" y="96" width="1" height="37" fill="url(#g15)" opacity="0.75"/><rect x="110" y="98" width="1" height="35" fill="url(#g9)" opacity="0.88"/><rect x="155" y="90" width="1" height="43" fill="url(#g16)" opacity="0.86"/><rect x="132" y="83" width="1" height="50" fill="url(#g17)" opacity="0.84"/><rect x="99" y="84" width="1" height="49" fill="url(#g14)" opacity="0.5"/><rect x="140" y="70" width="1.5" height="63" fill="url(#g18)"/><rect x="151" y="64" width="1" height="69" fill="url(#g19)"/><rect x="161" y="58" width="59" height="75" fill="url(#g20)"/><rect x="187" y="71" width="1" height="62" fill="url(#g21)" opacity="0.89"/><rect x="198" y="72" width="1" height="61" fill="url(#g22)" opacity="0.6"/><rect x="215" y="63" width="1" height="70" fill="url(#g23)" opacity="0.96"/><rect x="177" y="90" width="1" height="43" fill="url(#g16)" opacity="0.9"/><rect x="186" y="70" width="1" height="63" fill="url(#g18)" opacity="0.81"/><rect x="210" y="65" width="1" height="68" fill="url(#g24)" opacity="0.8"/><rect x="207" y="101" width="1" height="32" fill="url(#g25)" opacity="0.89"/><rect x="194" y="80" width="1" height="53" fill="url(#g11)" opacity="0.84"/><rect x="183" y="95" width="1" height="38" fill="url(#g26)" opacity="0.84"/><rect x="196" y="85" width="1" height="48" fill="url(#g27)" opacity="1"/><rect x="187" y="65" width="1" height="68" fill="url(#g24)" opacity="0.91"/><rect x="218" y="81" width="1" height="52" fill="url(#g28)" opacity="0.83"/><rect x="178" y="77" width="1" height="56" fill="url(#g29)" opacity="0.92"/><rect x="207" y="89" width="1" height="44" fill="url(#g12)" opacity="0.88"/><rect x="194" y="93" width="1" height="40" fill="url(#g30)" opacity="0.95"/><rect x="178" y="71" width="1" height="62" fill="url(#g21)" opacity="0.53"/><rect x="199" y="82" width="1" height="51" fill="url(#g31)" opacity="0.58"/><rect x="210" y="79" width="1" height="54" fill="url(#g32)" opacity="0.85"/><rect x="169" y="65" width="1" height="68" fill="url(#g24)" opacity="0.89"/><rect x="218" y="76" width="1" height="57" fill="url(#g33)" opacity="0.94"/><rect x="195" y="101" width="1" height="32" fill="url(#g25)" opacity="0.61"/><rect x="213" y="98" width="1" height="35" fill="url(#g9)" opacity="0.68"/><rect x="191" y="62" width="1" height="71" fill="url(#g34)" opacity="0.84"/><rect x="192" y="74" width="1" height="59" fill="url(#g35)" opacity="0.91"/><rect x="169" y="100" width="1" height="33" fill="url(#g36)" opacity="0.6"/><rect x="186" y="68" width="1" height="65" fill="url(#g37)" opacity="0.7"/><rect x="207" y="71" width="1" height="62" fill="url(#g21)" opacity="0.81"/><rect x="204" y="103" width="1" height="30" fill="url(#g38)" opacity="0.74"/><rect x="196" y="64" width="1" height="69" fill="url(#g19)" opacity="0.85"/><rect x="172" y="65" width="1" height="68" fill="url(#g24)" opacity="0.9"/><rect x="217" y="65" width="1" height="68" fill="url(#g24)" opacity="1"/><rect x="177" y="72" width="1" height="61" fill="url(#g22)" opacity="0.55"/><rect x="170" y="75" width="1" height="58" fill="url(#g39)" opacity="0.82"/><rect x="169" y="78" width="1" height="55" fill="url(#g40)" opacity="0.53"/><rect x="173" y="78" width="1" height="55" fill="url(#g41)"/><rect x="187" y="58" width="1" height="75" fill="url(#g42)" opacity="0.9"/><rect x="197" y="68" width="1.5" height="65" fill="url(#g43)"/><rect x="207" y="70" width="1" height="63" fill="url(#g44)"/><rect x="211" y="78" width="1" height="55" fill="url(#g41)"/><rect x="215" y="88" width="1" height="45" fill="url(#g45)" opacity="0.8"/><rect x="220" y="68" width="6" height="65" fill="url(#g46)"/><rect x="226" y="58" width="17" height="75" fill="url(#g47)"/><rect x="222" y="58" width="1" height="75" fill="url(#g48)" opacity="0.6"/><rect x="224.5" y="58" width="1" height="75" fill="url(#g48)" opacity="0.6"/><rect x="227" y="61" width="1" height="72" fill="url(#g49)" opacity="0.7"/><rect x="229" y="61" width="1" height="72" fill="url(#g50)" opacity="0.7"/><rect x="231" y="58" width="1" height="75" fill="url(#g48)" opacity="0.6"/><rect x="232" y="61" width="1" height="72" fill="url(#g49)" opacity="0.7"/><rect x="234" y="61" width="1" height="72" fill="url(#g49)" opacity="0.7"/><rect x="236" y="58" width="1" height="75" fill="url(#g48)" opacity="0.6"/><rect x="237" y="58" width="1" height="75" fill="url(#g48)" opacity="0.6"/><rect x="238.5" y="61" width="1" height="72" fill="url(#g49)" opacity="0.7"/><rect x="240" y="61" width="1" height="72" fill="url(#g50)" opacity="0.7"/><rect x="242" y="58" width="1" height="75" fill="url(#g48)" opacity="0.6"/><rect x="243" y="58" width="4" height="75" fill="url(#g48)" opacity="0.5"/><rect x="247.5" y="83" width="1" height="50" fill="url(#g51)"/><rect x="249" y="86" width="1" height="47" fill="url(#g52)" opacity="0.85"/><rect x="250.5" y="88" width="1" height="45" fill="url(#g53)" opacity="0.8"/><polygon points="254.8,63 256.4,63 258.2,133 253.8,133" fill="url(#g54)"/><polygon points="253.6,83 254.9,83 253.8,133 252,133" fill="url(#g55)"/><polygon points="256.4,83 257.6,88 260,133 258.2,133" fill="url(#g55)"/><rect x="260" y="125" width="10" height="8" fill="url(#g56)"/><rect x="285" y="63" width="14" height="70" fill="url(#g57)"/><rect x="285" y="66" width="3" height="67" fill="url(#g58)"/><rect x="288" y="78" width="3" height="55" fill="url(#g59)"/><rect x="294.5" y="78" width="3" height="55" fill="url(#g60)"/><rect x="283" y="60" width="1.6" height="73" fill="url(#g61)"/><rect x="284.6" y="64" width="1" height="69" fill="url(#g62)"/><rect x="297.5" y="60" width="1.2" height="73" fill="url(#g63)"/><polygon points="303.2,58 309.4,58 312.2,133 301.2,133" fill="url(#g64)"/><polygon points="303.6,58 308.6,58 311.2,133 301.8,133" fill="url(#g65)"/><polygon points="304,58 307,58 306.6,70 309.8,133 302.5,133 303.6,70" fill="url(#g66)"/><rect x="310" y="125" width="7" height="8" fill="url(#g56)"/><polygon points="316.5,58 323,58 323,133 315.5,133" fill="url(#g67)"/><rect x="315.5" y="68" width="1" height="65" fill="url(#g68)"/><rect x="316.5" y="73" width="1.5" height="60" fill="url(#g69)"/><rect x="350" y="68" width="22" height="65" fill="url(#g70)"/><rect x="366" y="68" width="1" height="65" fill="url(#g71)"/><rect x="371" y="93" width="1" height="40" fill="url(#g72)"/><rect x="369" y="94" width="1" height="39" fill="url(#g73)"/><rect x="364" y="95" width="1" height="38" fill="url(#g74)"/><rect x="370" y="78" width="1" height="55" fill="url(#g75)"/><rect x="362" y="92" width="1" height="41" fill="url(#g76)"/><rect x="358" y="79" width="1" height="54" fill="url(#g77)"/><rect x="367" y="70" width="1" height="63" fill="url(#g78)"/><rect x="362" y="91" width="1" height="42" fill="url(#g79)"/><rect x="352" y="78" width="2.2" height="55" fill="url(#g80)"/><rect x="353" y="58" width="1" height="75" fill="url(#g81)"/><polygon points="375,66 378,66 384,133 371,133" fill="url(#g82)"/><rect x="376.5" y="58" width="1.6" height="75" fill="url(#g83)"/><rect x="379.5" y="66" width="1" height="67" fill="url(#g84)"/><rect x="382" y="68" width="1" height="65" fill="url(#g85)"/><rect x="400" y="124" width="18" height="9" fill="url(#g86)"/><rect x="420" y="115" width="50" height="18" fill="url(#g87)"/><rect x="426" y="121" width="34" height="12" fill="url(#g88)"/><rect x="418" y="130.5" width="52" height="2.5" fill="url(#g89)"/><rect x="437" y="106" width="1" height="27" fill="url(#g90)"/><rect x="433" y="110" width="1" height="23" fill="url(#g91)"/><rect x="424" y="115" width="1" height="18" fill="url(#g92)"/><rect x="438" y="103" width="1" height="30" fill="url(#g93)"/><rect x="438" y="112" width="1" height="21" fill="url(#g94)"/><rect x="423" y="103" width="1" height="30" fill="url(#g93)"/><rect x="456" y="112" width="1" height="21" fill="url(#g94)"/><rect x="435" y="115" width="1" height="18" fill="url(#g92)"/><rect x="421" y="105" width="1" height="28" fill="url(#g95)"/><rect x="435" y="112" width="1" height="21" fill="url(#g94)"/><rect x="462" y="103" width="1" height="30" fill="url(#g93)"/><rect x="426" y="114" width="1" height="19" fill="url(#g96)"/><rect x="441" y="117" width="1" height="16" fill="url(#g97)"/><rect x="423" y="108" width="1" height="25" fill="url(#g98)"/><rect x="440.5" y="88" width="1" height="45" fill="url(#g99)"/><rect x="442" y="71" width="1" height="62" fill="url(#g100)"/><rect x="448" y="58" width="1.6" height="75" fill="url(#g101)"/><rect x="454" y="67" width="1" height="66" fill="url(#g102)"/><rect x="160" y="58" width="1" height="75" fill="url(#g103)"/><rect x="161" y="58" width="0.5" height="75" fill="url(#g104)"/><rect x="468" y="58" width="1" height="75" fill="url(#g103)"/><rect x="469" y="58" width="0.5" height="75" fill="url(#g104)"/><rect x="469.8" y="58" width="0.8" height="75" fill="url(#g105)"/><polygon points="470,133 473,122 476,114 479,122 484,128 484,133" fill="url(#g106)"/><rect x="488" y="74" width="1" height="59" fill="url(#g107)"/><rect x="491" y="80" width="1" height="53" fill="url(#g108)"/><rect x="485" y="88" width="1" height="45" fill="url(#g109)"/><polygon points="500,68 500,133 493,133 497,108 499,83" fill="url(#g110)"/></g>
<g filter="url(#f1)"><rect x="81" y="154" width="419" height="75" fill="url(#g111)"/><rect x="323" y="154" width="24" height="75" fill="url(#g112)"/><rect x="260" y="154" width="23" height="75" fill="url(#g113)"/><polygon points="81,209 84,212 88,220 92,229 81,229" fill="url(#g114)"/><rect x="81" y="162" width="80" height="67" fill="url(#g115)"/><rect x="157" y="166" width="1" height="63" fill="url(#g116)" opacity="0.9"/><rect x="152" y="171" width="1" height="58" fill="url(#g117)" opacity="0.68"/><rect x="147" y="166" width="1" height="63" fill="url(#g116)" opacity="0.75"/><rect x="119" y="175" width="1" height="54" fill="url(#g118)" opacity="0.8"/><rect x="110" y="170" width="1" height="59" fill="url(#g119)" opacity="0.94"/><rect x="92" y="168" width="1" height="61" fill="url(#g120)" opacity="0.55"/><rect x="94" y="174" width="1" height="55" fill="url(#g121)" opacity="0.83"/><rect x="129" y="166" width="1" height="63" fill="url(#g116)" opacity="0.69"/><rect x="124" y="167" width="1" height="62" fill="url(#g122)" opacity="0.77"/><rect x="134" y="173" width="1" height="56" fill="url(#g123)" opacity="0.55"/><rect x="138" y="174" width="1" height="55" fill="url(#g121)" opacity="0.6"/><rect x="97" y="180" width="1" height="49" fill="url(#g124)" opacity="0.86"/><rect x="125" y="181" width="1" height="48" fill="url(#g125)" opacity="0.88"/><rect x="117" y="172" width="1" height="57" fill="url(#g126)" opacity="0.84"/><rect x="112" y="173" width="1" height="56" fill="url(#g123)" opacity="0.49"/><rect x="136" y="160" width="1" height="69" fill="url(#g127)" opacity="0.89"/><rect x="110" y="177" width="1" height="52" fill="url(#g128)" opacity="0.5"/><rect x="85" y="171" width="1" height="58" fill="url(#g117)" opacity="0.8"/><rect x="84" y="168" width="1" height="61" fill="url(#g120)" opacity="0.73"/><rect x="102" y="161" width="1" height="68" fill="url(#g129)" opacity="0.67"/><rect x="118" y="162" width="1" height="67" fill="url(#g130)" opacity="0.83"/><rect x="134" y="181" width="1" height="48" fill="url(#g125)" opacity="0.95"/><rect x="129" y="180" width="1" height="49" fill="url(#g124)" opacity="0.73"/><rect x="104" y="175" width="1" height="54" fill="url(#g118)" opacity="0.87"/><rect x="148" y="169" width="1" height="60" fill="url(#g131)" opacity="0.88"/><rect x="106" y="182" width="1" height="47" fill="url(#g132)" opacity="0.72"/><rect x="83" y="162" width="1" height="67" fill="url(#g130)" opacity="0.48"/><rect x="156" y="171" width="1" height="58" fill="url(#g117)" opacity="0.72"/><rect x="139" y="163" width="1" height="66" fill="url(#g133)" opacity="0.79"/><rect x="141" y="180" width="1" height="49" fill="url(#g124)" opacity="0.52"/><rect x="105" y="166" width="1" height="63" fill="url(#g116)" opacity="0.82"/><rect x="153" y="174" width="1" height="55" fill="url(#g121)" opacity="0.94"/><rect x="100" y="162" width="1" height="67" fill="url(#g130)" opacity="0.93"/><rect x="122" y="170" width="1" height="59" fill="url(#g119)" opacity="0.64"/><rect x="90" y="177" width="1" height="52" fill="url(#g128)" opacity="0.73"/><rect x="127" y="174" width="1" height="55" fill="url(#g121)" opacity="0.48"/><rect x="118" y="181" width="1" height="48" fill="url(#g125)" opacity="0.86"/><rect x="94" y="168" width="1" height="61" fill="url(#g120)" opacity="0.92"/><rect x="115" y="174" width="1" height="55" fill="url(#g121)" opacity="0.55"/><rect x="97" y="176" width="1" height="53" fill="url(#g134)" opacity="0.94"/><rect x="123" y="167" width="1" height="62" fill="url(#g122)" opacity="0.5"/><rect x="105" y="160" width="1" height="69" fill="url(#g127)" opacity="0.46"/><rect x="133" y="179" width="1" height="50" fill="url(#g135)" opacity="0.68"/><rect x="155" y="161" width="1" height="68" fill="url(#g129)" opacity="0.85"/><rect x="113" y="168" width="1" height="61" fill="url(#g120)" opacity="0.69"/><rect x="108" y="177" width="1" height="52" fill="url(#g128)" opacity="0.75"/><rect x="123" y="170" width="1" height="59" fill="url(#g119)" opacity="0.46"/><rect x="100" y="169" width="1" height="60" fill="url(#g131)" opacity="0.62"/><rect x="129" y="154" width="1" height="75" fill="url(#g136)" opacity="0.6"/><rect x="134" y="154" width="1" height="75" fill="url(#g136)" opacity="0.6"/><rect x="134" y="154" width="1" height="75" fill="url(#g136)" opacity="0.6"/><rect x="89" y="154" width="1" height="75" fill="url(#g136)" opacity="0.6"/><rect x="111" y="154" width="1" height="75" fill="url(#g136)" opacity="0.6"/><rect x="149" y="154" width="1" height="75" fill="url(#g136)" opacity="0.6"/><rect x="91" y="154" width="1" height="75" fill="url(#g136)" opacity="0.6"/><rect x="110" y="154" width="1" height="75" fill="url(#g136)" opacity="0.6"/><rect x="101" y="154" width="1" height="75" fill="url(#g136)" opacity="0.6"/><rect x="98" y="154" width="1" height="75" fill="url(#g136)" opacity="0.6"/><rect x="113" y="176" width="1" height="53" fill="url(#g137)"/><rect x="140" y="158" width="1.5" height="71" fill="url(#g138)" opacity="0.85"/><rect x="147" y="164" width="2" height="65" fill="url(#g139)" opacity="0.8"/><rect x="151" y="154" width="1" height="75" fill="url(#g140)" opacity="0.95"/><rect x="149" y="162" width="1" height="67" fill="url(#g141)"/><rect x="161" y="154" width="59" height="75" fill="url(#g142)"/><rect x="162" y="164" width="1" height="65" fill="url(#g139)" opacity="0.85"/><rect x="164" y="154" width="1" height="75" fill="url(#g136)" opacity="0.85"/><rect x="165" y="163" width="1" height="66" fill="url(#g143)" opacity="0.85"/><rect x="167" y="167" width="1" height="62" fill="url(#g144)" opacity="0.85"/><rect x="169" y="154" width="1" height="75" fill="url(#g136)" opacity="0.85"/><rect x="170" y="169" width="1" height="60" fill="url(#g145)" opacity="0.85"/><rect x="172" y="172" width="1" height="57" fill="url(#g146)" opacity="0.85"/><rect x="173" y="165" width="1" height="64" fill="url(#g147)" opacity="0.85"/><rect x="175" y="154" width="1" height="75" fill="url(#g136)" opacity="0.85"/><rect x="176" y="172" width="1" height="57" fill="url(#g146)" opacity="0.85"/><rect x="178" y="172" width="1" height="57" fill="url(#g148)" opacity="0.85"/><rect x="179" y="154" width="1" height="75" fill="url(#g136)" opacity="0.85"/><rect x="181" y="170" width="1" height="59" fill="url(#g149)" opacity="0.85"/><rect x="183" y="172" width="1" height="57" fill="url(#g146)" opacity="0.85"/><rect x="184" y="154" width="1" height="75" fill="url(#g136)" opacity="0.85"/><rect x="185" y="170" width="1" height="59" fill="url(#g149)" opacity="0.85"/><rect x="186.3" y="161" width="1.4" height="68" fill="url(#g150)" opacity="0.9"/><rect x="188" y="160" width="1" height="69" fill="url(#g151)" opacity="0.9"/><rect x="189" y="165" width="1" height="64" fill="url(#g152)" opacity="0.9"/><rect x="190" y="166" width="1" height="63" fill="url(#g153)" opacity="0.9"/><rect x="191" y="166" width="1" height="63" fill="url(#g153)" opacity="0.9"/><rect x="192" y="163" width="1" height="66" fill="url(#g143)" opacity="0.9"/><rect x="193" y="154" width="3.5" height="75" fill="url(#g136)" opacity="0.9"/><rect x="196.5" y="162" width="1" height="67" fill="url(#g154)" opacity="0.9"/><rect x="197.5" y="162" width="1" height="67" fill="url(#g155)" opacity="0.9"/><rect x="198.5" y="161" width="1" height="68" fill="url(#g156)" opacity="0.9"/><rect x="199.5" y="154" width="1" height="75" fill="url(#g136)" opacity="0.9"/><rect x="200.5" y="161" width="1" height="68" fill="url(#g156)" opacity="0.9"/><rect x="201.5" y="165" width="1" height="64" fill="url(#g157)" opacity="0.9"/><rect x="202.5" y="154" width="3.5" height="75" fill="url(#g136)" opacity="0.9"/><rect x="206" y="158" width="1" height="71" fill="url(#g158)" opacity="0.9"/><rect x="207" y="161" width="1.6" height="68" fill="url(#g150)" opacity="0.9"/><rect x="208.6" y="158" width="1.4" height="71" fill="url(#g158)" opacity="0.9"/><rect x="210" y="163" width="1" height="66" fill="url(#g159)" opacity="0.9"/><rect x="211" y="165" width="1" height="64" fill="url(#g152)" opacity="0.9"/><rect x="212" y="154" width="1.5" height="75" fill="url(#g136)" opacity="0.9"/><rect x="213.5" y="158" width="1" height="71" fill="url(#g160)" opacity="0.9"/><rect x="214.5" y="154" width="0.8" height="75" fill="url(#g136)" opacity="0.9"/><rect x="215.3" y="166" width="1.2" height="63" fill="url(#g161)" opacity="0.9"/><rect x="216.5" y="161" width="1" height="68" fill="url(#g150)" opacity="0.9"/><rect x="217.5" y="154" width="2.5" height="75" fill="url(#g136)" opacity="0.9"/><rect x="220" y="154" width="23" height="75" fill="url(#g162)"/><rect x="221" y="154" width="1" height="75" fill="url(#g163)"/><rect x="222" y="156" width="1" height="73" fill="url(#g164)"/><rect x="224" y="154" width="1" height="75" fill="url(#g163)"/><rect x="226" y="156" width="1" height="73" fill="url(#g164)"/><rect x="227" y="156" width="1" height="73" fill="url(#g164)"/><rect x="228.5" y="154" width="1" height="75" fill="url(#g163)"/><rect x="230" y="154" width="1" height="75" fill="url(#g165)"/><rect x="231" y="154" width="1" height="75" fill="url(#g163)"/><rect x="233" y="156" width="1" height="73" fill="url(#g164)"/><rect x="234" y="156" width="1" height="73" fill="url(#g164)"/><rect x="236" y="154" width="1" height="75" fill="url(#g163)"/><rect x="237" y="156" width="1" height="73" fill="url(#g164)"/><rect x="238.5" y="154" width="1" height="75" fill="url(#g165)"/><rect x="240" y="154" width="1" height="75" fill="url(#g163)"/><rect x="241" y="156" width="1" height="73" fill="url(#g164)"/><rect x="243" y="159" width="1.5" height="70" fill="url(#g166)"/><rect x="246" y="166" width="1" height="63" fill="url(#g167)" opacity="0.8"/><rect x="248" y="162" width="1" height="67" fill="url(#g154)"/><rect x="249" y="158" width="1.4" height="71" fill="url(#g158)"/><rect x="250.5" y="168" width="1" height="61" fill="url(#g168)" opacity="0.9"/><rect x="252" y="174" width="1" height="55" fill="url(#g169)" opacity="0.8"/><polygon points="254.6,156 256.6,156 259.5,229 252.6,229" fill="url(#g170)"/><polygon points="253.2,169 254.7,169 252.6,229 251,229" fill="url(#g171)"/><polygon points="256.6,169 258,174 261.3,229 259.5,229" fill="url(#g171)"/><rect x="260" y="221" width="10" height="8" fill="url(#g172)"/><rect x="285" y="159" width="14" height="70" fill="url(#g173)"/><rect x="285" y="160" width="4" height="69" fill="url(#g174)"/><rect x="294" y="164" width="4" height="65" fill="url(#g175)"/><rect x="283" y="154" width="2" height="75" fill="url(#g176)"/><rect x="285" y="160" width="1" height="69" fill="url(#g177)"/><rect x="297.5" y="155" width="1.2" height="74" fill="url(#g178)"/><polygon points="304,154 308,154 310,229 302.5,229" fill="url(#g179)"/><polygon points="303,154 304.3,154 302.8,229 301.5,229" fill="url(#g180)"/><polygon points="307.7,154 308.8,154 310.8,229 309.7,229" fill="url(#g180)"/><rect x="310" y="221" width="7" height="8" fill="url(#g172)"/><polygon points="316.5,154 323,154 323,229 315.5,229" fill="url(#g181)"/><rect x="315.5" y="160" width="1" height="69" fill="url(#g182)"/><rect x="316.5" y="166" width="1.5" height="63" fill="url(#g183)"/><rect x="345" y="162" width="155" height="67" fill="url(#g184)"/><rect x="466" y="165" width="1" height="64" fill="url(#g185)" opacity="0.41"/><rect x="462" y="179" width="1" height="50" fill="url(#g135)" opacity="0.79"/><rect x="383" y="193" width="1" height="36" fill="url(#g186)" opacity="0.77"/><rect x="362" y="164" width="1" height="65" fill="url(#g187)" opacity="0.75"/><rect x="415" y="169" width="1" height="60" fill="url(#g131)" opacity="0.75"/><rect x="462" y="183" width="1" height="46" fill="url(#g188)" opacity="0.66"/><rect x="365" y="171" width="1" height="58" fill="url(#g117)" opacity="0.63"/><rect x="453" y="168" width="1" height="61" fill="url(#g120)" opacity="0.53"/><rect x="408" y="184" width="1" height="45" fill="url(#g189)" opacity="0.51"/><rect x="483" y="168" width="1" height="61" fill="url(#g120)" opacity="0.89"/><rect x="396" y="172" width="1" height="57" fill="url(#g126)" opacity="0.49"/><rect x="497" y="174" width="1" height="55" fill="url(#g121)" opacity="0.62"/><rect x="356" y="174" width="1" height="55" fill="url(#g121)" opacity="0.85"/><rect x="477" y="176" width="1" height="53" fill="url(#g134)" opacity="0.45"/><rect x="482" y="162" width="1" height="67" fill="url(#g130)" opacity="0.57"/><rect x="477" y="170" width="1" height="59" fill="url(#g119)" opacity="0.69"/><rect x="470" y="170" width="1" height="59" fill="url(#g119)" opacity="0.45"/><rect x="357" y="190" width="1" height="39" fill="url(#g190)" opacity="0.71"/><rect x="370" y="179" width="1" height="50" fill="url(#g135)" opacity="0.6"/><rect x="381" y="165" width="1" height="64" fill="url(#g185)" opacity="0.46"/><rect x="482" y="165" width="1" height="64" fill="url(#g185)" opacity="0.89"/><rect x="423" y="180" width="1" height="49" fill="url(#g124)" opacity="0.52"/><rect x="446" y="186" width="1" height="43" fill="url(#g191)" opacity="0.48"/><rect x="432" y="164" width="1" height="65" fill="url(#g187)" opacity="0.52"/><rect x="446" y="177" width="1" height="52" fill="url(#g128)" opacity="0.63"/><rect x="398" y="188" width="1" height="41" fill="url(#g192)" opacity="0.48"/><rect x="389" y="193" width="1" height="36" fill="url(#g186)" opacity="0.62"/><rect x="396" y="179" width="1" height="50" fill="url(#g135)" opacity="0.78"/><rect x="395" y="183" width="1" height="46" fill="url(#g188)" opacity="0.79"/><rect x="404" y="181" width="1" height="48" fill="url(#g125)" opacity="0.66"/><rect x="355" y="186" width="1" height="43" fill="url(#g191)" opacity="0.46"/><rect x="498" y="185" width="1" height="44" fill="url(#g193)" opacity="0.79"/><rect x="464" y="178" width="1" height="51" fill="url(#g194)" opacity="0.82"/><rect x="361" y="191" width="1" height="38" fill="url(#g195)" opacity="0.74"/><rect x="370" y="173" width="1" height="56" fill="url(#g123)" opacity="0.73"/><rect x="442" y="192" width="1" height="37" fill="url(#g196)" opacity="0.83"/><rect x="358" y="186" width="1" height="43" fill="url(#g191)" opacity="0.42"/><rect x="361" y="176" width="1" height="53" fill="url(#g134)" opacity="0.4"/><rect x="379" y="193" width="1" height="36" fill="url(#g186)" opacity="0.89"/><rect x="373" y="173" width="1" height="56" fill="url(#g123)" opacity="0.61"/><rect x="347" y="164" width="25" height="65" fill="url(#g197)"/><rect x="370" y="194" width="1" height="35" fill="url(#g198)"/><rect x="363" y="177" width="1" height="52" fill="url(#g199)"/><rect x="360" y="195" width="1" height="34" fill="url(#g200)"/><rect x="355" y="190" width="1" height="39" fill="url(#g201)"/><rect x="368" y="178" width="1" height="51" fill="url(#g202)"/><rect x="361" y="173" width="1" height="56" fill="url(#g203)"/><rect x="354" y="185" width="1" height="44" fill="url(#g204)"/><rect x="353" y="164" width="1" height="65" fill="url(#g205)"/><polygon points="375,166 379,166 386,229 371,229" fill="url(#g206)"/><rect x="376.5" y="162" width="2" height="67" fill="url(#g207)"/><rect x="380" y="168" width="1" height="61" fill="url(#g208)"/><rect x="382.5" y="168" width="1" height="61" fill="url(#g208)"/><rect x="384" y="174" width="16" height="55" fill="url(#g209)"/><rect x="400" y="205" width="8" height="24" fill="url(#g210)"/><rect x="408" y="217" width="10" height="12" fill="url(#g211)"/><rect x="420" y="207" width="50" height="22" fill="url(#g212)"/><rect x="400" y="159" width="70" height="70" fill="url(#g213)"/><rect x="462" y="178" width="1" height="51" fill="url(#g214)"/><rect x="429" y="185" width="1" height="44" fill="url(#g215)"/><rect x="467" y="161" width="1" height="68" fill="url(#g216)"/><rect x="406" y="192" width="1" height="37" fill="url(#g217)"/><rect x="413" y="159" width="1" height="70" fill="url(#g218)"/><rect x="462" y="177" width="1" height="52" fill="url(#g219)"/><rect x="458" y="182" width="1" height="47" fill="url(#g220)"/><rect x="436" y="167" width="1" height="62" fill="url(#g221)"/><rect x="446" y="189" width="1" height="40" fill="url(#g222)"/><rect x="431" y="167" width="1" height="62" fill="url(#g221)"/><rect x="456" y="163" width="1" height="66" fill="url(#g223)"/><rect x="449" y="165" width="1" height="64" fill="url(#g224)"/><rect x="461" y="165" width="1" height="64" fill="url(#g224)"/><rect x="407" y="188" width="1" height="41" fill="url(#g225)"/><rect x="434" y="181" width="1" height="48" fill="url(#g226)"/><rect x="448" y="169" width="1" height="60" fill="url(#g227)"/><rect x="409" y="194" width="1" height="35" fill="url(#g228)"/><rect x="429" y="193" width="1" height="36" fill="url(#g229)"/><rect x="465" y="185" width="1" height="44" fill="url(#g215)"/><rect x="453" y="170" width="1" height="59" fill="url(#g230)"/><rect x="406" y="182" width="1" height="47" fill="url(#g220)"/><rect x="413" y="159" width="1" height="70" fill="url(#g218)"/><rect x="418" y="226.5" width="52" height="2.5" fill="url(#g231)"/><rect x="431" y="207" width="1" height="22" fill="url(#g232)"/><rect x="466" y="204" width="1" height="25" fill="url(#g233)"/><rect x="454" y="203" width="1" height="26" fill="url(#g234)"/><rect x="456" y="208" width="1" height="21" fill="url(#g235)"/><rect x="454" y="206" width="1" height="23" fill="url(#g236)"/><rect x="456" y="201" width="1" height="28" fill="url(#g237)"/><rect x="433" y="203" width="1" height="26" fill="url(#g234)"/><rect x="424" y="205" width="1" height="24" fill="url(#g238)"/><rect x="440.5" y="184" width="1" height="45" fill="url(#g239)"/><rect x="442" y="164" width="1" height="65" fill="url(#g240)"/><rect x="448" y="154" width="1.6" height="75" fill="url(#g241)"/><rect x="454" y="156" width="1" height="73" fill="url(#g242)"/><rect x="160" y="154" width="1" height="75" fill="url(#g243)"/><rect x="161" y="154" width="0.5" height="75" fill="url(#g244)"/><rect x="468" y="154" width="1" height="75" fill="url(#g243)"/><rect x="469" y="154" width="0.5" height="75" fill="url(#g244)"/><rect x="469.8" y="154" width="0.8" height="75" fill="url(#g245)"/><rect x="470" y="169" width="18" height="60" fill="url(#g246)"/><rect x="486" y="172" width="1" height="57" fill="url(#g247)"/><rect x="475" y="184" width="1" height="45" fill="url(#g248)"/><rect x="486" y="178" width="1" height="51" fill="url(#g249)"/><rect x="476" y="173" width="1" height="56" fill="url(#g250)"/><rect x="476" y="174" width="1" height="55" fill="url(#g251)"/><rect x="486" y="182" width="1" height="47" fill="url(#g252)"/><rect x="488" y="158" width="1" height="71" fill="url(#g253)"/><rect x="490.6" y="156" width="1" height="73" fill="url(#g254)"/><polygon points="500,159 500,229 489,229 491,194 493,172 496,162" fill="url(#g255)"/><polygon points="500,168 500,229 494,229 496,194 498,174" fill="url(#g256)"/></g>
<g clip-path="url(#cp2)"><g filter="url(#f2)"><rect x="74" y="243" width="440" height="95" fill="#fefefe"/><polygon points="282.5,247 300,247 300,258 299,268 298.5,278 299.5,288 299.5,298 298,305 295.5,311 293,316 291,318 289,314 286.5,308 284,302 283,294 283.5,284 284.5,274 284,262" fill="#b0b0b0"/><polygon points="284.5,247 298.5,247 298,258 296,270 296,280 297.5,290 297,300 294,307 291,310 288,306 285,300 284.5,290 286,280 286.5,268 285.5,258" fill="#989898"/><polygon points="285.5,247 298,247 297,256 294.5,261 289.5,261 286.5,256" fill="#6f6f6f"/><polygon points="289,247 296,247 295,252.5 290.5,252.5" fill="#3a3a3a"/><polygon points="288,277 293,277 296,282 298,290 298,296 295.5,300 291,301.5 286.5,299.5 284,294.5 284.5,288 286.5,282" fill="#6f6f6f"/><ellipse cx="290.5" cy="296" rx="4.5" ry="2.2" fill="#424242"/><ellipse cx="293" cy="296.5" rx="1" ry="1" fill="#2a2a2a"/><rect x="286" y="300" width="1" height="10" fill="#a0a0a0"/><rect x="288" y="300" width="1" height="14" fill="#a0a0a0"/><rect x="290" y="300" width="1" height="20" fill="#989898"/><rect x="292" y="300" width="1" height="22" fill="#989898"/><rect x="294" y="300" width="1" height="16" fill="#a0a0a0"/><rect x="296" y="300" width="1" height="10" fill="#a8a8a8"/><rect x="287" y="260" width="1" height="18" fill="#8c8c8c"/><rect x="290" y="260" width="1" height="18" fill="#8c8c8c"/><rect x="293" y="260" width="1" height="18" fill="#8c8c8c"/><rect x="295" y="260" width="1" height="18" fill="#8c8c8c"/><rect x="281" y="247" width="1" height="9" fill="#a0a0a0"/><polygon points="314.5,247 326.5,247 325.5,260 325,275 326,290 325.5,300 323.5,306 320,309 317,306 315,300 314.5,290 316,275 315.5,260" fill="#b5b5b5"/><polygon points="316,247 325,247 324,260 323.5,275 324.5,290 324,300 321,305 318,304 316,298 316,290 317.5,275 317,260" fill="#9c9c9c"/><polygon points="316.5,247 324.5,247 323.5,254 321,257.5 318.5,256.5 317,253" fill="#6f6f6f"/><polygon points="318.5,247 323,247 322,251.5 319.5,251.5" fill="#424242"/><polygon points="316.5,293.5 324,293.5 324,297 321,299 317,298" fill="#757575"/><rect x="317" y="280" width="1" height="13" fill="#808080"/><rect x="319.5" y="288" width="1" height="6" fill="#848484"/><rect x="322" y="286" width="1" height="8" fill="#8a8a8a"/><rect x="316.5" y="258" width="0.8" height="26" fill="#bdbdbd"/><rect x="319" y="258" width="0.8" height="26" fill="#bdbdbd"/><rect x="321.5" y="258" width="0.8" height="26" fill="#bdbdbd"/><rect x="323.5" y="258" width="0.8" height="26" fill="#bdbdbd"/><rect x="317" y="298" width="1" height="10" fill="#a4a4a4"/><rect x="319" y="298" width="1" height="14" fill="#a4a4a4"/><rect x="321" y="298" width="1" height="12" fill="#a4a4a4"/><rect x="323" y="298" width="1" height="9" fill="#a4a4a4"/><rect x="305" y="247" width="1" height="8" fill="#a0a0a0"/><rect x="487" y="247" width="1.6" height="12" fill="#757575"/></g></g>
<rect x="581" y="58" width="19" height="76" fill="url(#cb)"/><rect x="581" y="154" width="19" height="76" fill="url(#cb)"/><rect x="581" y="250" width="19" height="76" fill="url(#cb)"/><rect x="581" y="365" width="19" height="76" fill="url(#cb)"/><rect x="581" y="461" width="19" height="76" fill="url(#cb)"/><rect x="581" y="557" width="19" height="76" fill="url(#cb)"/>
<path d="M80 57h421v1h-421zM80 133h421v1h-421zM80 134h421v1h-421zM80 57h1v78h-1zM500 57h1v78h-1zM71 134h10v1h-10zM500 134h9v1h-9zM75 132h6v1h-6zM500 132h5v1h-5zM75 129h6v1h-6zM500 129h5v1h-5zM75 127h6v1h-6zM500 127h5v1h-5zM75 124h6v1h-6zM500 124h5v1h-5zM71 122h10v1h-10zM500 122h9v1h-9zM75 119h6v1h-6zM500 119h5v1h-5zM75 116h6v1h-6zM500 116h5v1h-5zM75 114h6v1h-6zM500 114h5v1h-5zM75 111h6v1h-6zM500 111h5v1h-5zM71 109h10v1h-10zM500 109h9v1h-9zM75 106h6v1h-6zM500 106h5v1h-5zM75 103h6v1h-6zM500 103h5v1h-5zM75 101h6v1h-6zM500 101h5v1h-5zM75 98h6v1h-6zM500 98h5v1h-5zM71 96h10v1h-10zM500 96h9v1h-9zM75 93h6v1h-6zM500 93h5v1h-5zM75 90h6v1h-6zM500 90h5v1h-5zM75 88h6v1h-6zM500 88h5v1h-5zM75 85h6v1h-6zM500 85h5v1h-5zM71 83h10v1h-10zM500 83h9v1h-9zM75 80h6v1h-6zM500 80h5v1h-5zM75 78h6v1h-6zM500 78h5v1h-5zM75 75h6v1h-6zM500 75h5v1h-5zM75 72h6v1h-6zM500 72h5v1h-5zM71 70h10v1h-10zM500 70h9v1h-9zM75 67h6v1h-6zM500 67h5v1h-5zM75 65h6v1h-6zM500 65h5v1h-5zM75 62h6v1h-6zM500 62h5v1h-5zM75 59h6v1h-6zM500 59h5v1h-5zM71 57h10v1h-10zM500 57h9v1h-9zM80 134h1v3h-1zM80 56h1v2h-1zM115 134h1v3h-1zM150 134h1v3h-1zM185 134h1v3h-1zM185 56h1v2h-1zM220 134h1v3h-1zM255 134h1v3h-1zM290 134h1v3h-1zM290 56h1v2h-1zM325 134h1v3h-1zM360 134h1v3h-1zM395 134h1v3h-1zM395 56h1v2h-1zM430 134h1v3h-1zM465 134h1v3h-1zM500 134h1v3h-1zM500 56h1v2h-1zM80 153h421v1h-421zM80 229h421v1h-421zM80 230h421v1h-421zM80 153h1v78h-1zM500 153h1v78h-1zM71 230h10v1h-10zM500 230h9v1h-9zM75 228h6v1h-6zM500 228h5v1h-5zM75 225h6v1h-6zM500 225h5v1h-5zM75 223h6v1h-6zM500 223h5v1h-5zM75 220h6v1h-6zM500 220h5v1h-5zM71 218h10v1h-10zM500 218h9v1h-9zM75 215h6v1h-6zM500 215h5v1h-5zM75 212h6v1h-6zM500 212h5v1h-5zM75 210h6v1h-6zM500 210h5v1h-5zM75 207h6v1h-6zM500 207h5v1h-5zM71 205h10v1h-10zM500 205h9v1h-9zM75 202h6v1h-6zM500 202h5v1h-5zM75 199h6v1h-6zM500 199h5v1h-5zM75 197h6v1h-6zM500 197h5v1h-5zM75 194h6v1h-6zM500 194h5v1h-5zM71 192h10v1h-10zM500 192h9v1h-9zM75 189h6v1h-6zM500 189h5v1h-5zM75 186h6v1h-6zM500 186h5v1h-5zM75 184h6v1h-6zM500 184h5v1h-5zM75 181h6v1h-6zM500 181h5v1h-5zM71 179h10v1h-10zM500 179h9v1h-9zM75 176h6v1h-6zM500 176h5v1h-5zM75 174h6v1h-6zM500 174h5v1h-5zM75 171h6v1h-6zM500 171h5v1h-5zM75 168h6v1h-6zM500 168h5v1h-5zM71 166h10v1h-10zM500 166h9v1h-9zM75 163h6v1h-6zM500 163h5v1h-5zM75 161h6v1h-6zM500 161h5v1h-5zM75 158h6v1h-6zM500 158h5v1h-5zM75 155h6v1h-6zM500 155h5v1h-5zM71 153h10v1h-10zM500 153h9v1h-9zM80 230h1v3h-1zM80 152h1v2h-1zM115 230h1v3h-1zM150 230h1v3h-1zM185 230h1v3h-1zM185 152h1v2h-1zM220 230h1v3h-1zM255 230h1v3h-1zM290 230h1v3h-1zM290 152h1v2h-1zM325 230h1v3h-1zM360 230h1v3h-1zM395 230h1v3h-1zM395 152h1v2h-1zM430 230h1v3h-1zM465 230h1v3h-1zM500 230h1v3h-1zM500 152h1v2h-1zM80 249h421v1h-421zM80 325h421v1h-421zM80 326h421v1h-421zM80 249h1v78h-1zM500 249h1v78h-1zM71 326h10v1h-10zM500 326h9v1h-9zM75 324h6v1h-6zM500 324h5v1h-5zM75 321h6v1h-6zM500 321h5v1h-5zM75 319h6v1h-6zM500 319h5v1h-5zM75 316h6v1h-6zM500 316h5v1h-5zM71 314h10v1h-10zM500 314h9v1h-9zM75 311h6v1h-6zM500 311h5v1h-5zM75 308h6v1h-6zM500 308h5v1h-5zM75 306h6v1h-6zM500 306h5v1h-5zM75 303h6v1h-6zM500 303h5v1h-5zM71 301h10v1h-10zM500 301h9v1h-9zM75 298h6v1h-6zM500 298h5v1h-5zM75 295h6v1h-6zM500 295h5v1h-5zM75 293h6v1h-6zM500 293h5v1h-5zM75 290h6v1h-6zM500 290h5v1h-5zM71 288h10v1h-10zM500 288h9v1h-9zM75 285h6v1h-6zM500 285h5v1h-5zM75 282h6v1h-6zM500 282h5v1h-5zM75 280h6v1h-6zM500 280h5v1h-5zM75 277h6v1h-6zM500 277h5v1h-5zM71 275h10v1h-10zM500 275h9v1h-9zM75 272h6v1h-6zM500 272h5v1h-5zM75 270h6v1h-6zM500 270h5v1h-5zM75 267h6v1h-6zM500 267h5v1h-5zM75 264h6v1h-6zM500 264h5v1h-5zM71 262h10v1h-10zM500 262h9v1h-9zM75 259h6v1h-6zM500 259h5v1h-5zM75 257h6v1h-6zM500 257h5v1h-5zM75 254h6v1h-6zM500 254h5v1h-5zM75 251h6v1h-6zM500 251h5v1h-5zM71 249h10v1h-10zM500 249h9v1h-9zM80 326h1v3h-1zM80 248h1v2h-1zM115 326h1v3h-1zM150 326h1v3h-1zM185 326h1v3h-1zM185 248h1v2h-1zM220 326h1v3h-1zM255 326h1v3h-1zM290 326h1v3h-1zM290 248h1v2h-1zM325 326h1v3h-1zM360 326h1v3h-1zM395 326h1v3h-1zM395 248h1v2h-1zM430 326h1v3h-1zM465 326h1v3h-1zM500 326h1v3h-1zM500 248h1v2h-1zM80 364h421v1h-421zM80 440h421v1h-421zM80 441h421v1h-421zM80 364h1v78h-1zM500 364h1v78h-1zM71 441h10v1h-10zM500 441h9v1h-9zM75 439h6v1h-6zM500 439h5v1h-5zM75 436h6v1h-6zM500 436h5v1h-5zM75 434h6v1h-6zM500 434h5v1h-5zM75 431h6v1h-6zM500 431h5v1h-5zM71 429h10v1h-10zM500 429h9v1h-9zM75 426h6v1h-6zM500 426h5v1h-5zM75 423h6v1h-6zM500 423h5v1h-5zM75 421h6v1h-6zM500 421h5v1h-5zM75 418h6v1h-6zM500 418h5v1h-5zM71 416h10v1h-10zM500 416h9v1h-9zM75 413h6v1h-6zM500 413h5v1h-5zM75 410h6v1h-6zM500 410h5v1h-5zM75 408h6v1h-6zM500 408h5v1h-5zM75 405h6v1h-6zM500 405h5v1h-5zM71 403h10v1h-10zM500 403h9v1h-9zM75 400h6v1h-6zM500 400h5v1h-5zM75 397h6v1h-6zM500 397h5v1h-5zM75 395h6v1h-6zM500 395h5v1h-5zM75 392h6v1h-6zM500 392h5v1h-5zM71 390h10v1h-10zM500 390h9v1h-9zM75 387h6v1h-6zM500 387h5v1h-5zM75 385h6v1h-6zM500 385h5v1h-5zM75 382h6v1h-6zM500 382h5v1h-5zM75 379h6v1h-6zM500 379h5v1h-5zM71 377h10v1h-10zM500 377h9v1h-9zM75 374h6v1h-6zM500 374h5v1h-5zM75 372h6v1h-6zM500 372h5v1h-5zM75 369h6v1h-6zM500 369h5v1h-5zM75 366h6v1h-6zM500 366h5v1h-5zM71 364h10v1h-10zM500 364h9v1h-9zM80 441h1v3h-1zM80 363h1v2h-1zM115 441h1v3h-1zM150 441h1v3h-1zM185 441h1v3h-1zM185 363h1v2h-1zM220 441h1v3h-1zM255 441h1v3h-1zM290 441h1v3h-1zM290 363h1v2h-1zM325 441h1v3h-1zM360 441h1v3h-1zM395 441h1v3h-1zM395 363h1v2h-1zM430 441h1v3h-1zM465 441h1v3h-1zM500 441h1v3h-1zM500 363h1v2h-1zM80 460h421v1h-421zM80 536h421v1h-421zM80 537h421v1h-421zM80 460h1v78h-1zM500 460h1v78h-1zM71 537h10v1h-10zM500 537h9v1h-9zM75 535h6v1h-6zM500 535h5v1h-5zM75 532h6v1h-6zM500 532h5v1h-5zM75 530h6v1h-6zM500 530h5v1h-5zM75 527h6v1h-6zM500 527h5v1h-5zM71 525h10v1h-10zM500 525h9v1h-9zM75 522h6v1h-6zM500 522h5v1h-5zM75 519h6v1h-6zM500 519h5v1h-5zM75 517h6v1h-6zM500 517h5v1h-5zM75 514h6v1h-6zM500 514h5v1h-5zM71 512h10v1h-10zM500 512h9v1h-9zM75 509h6v1h-6zM500 509h5v1h-5zM75 506h6v1h-6zM500 506h5v1h-5zM75 504h6v1h-6zM500 504h5v1h-5zM75 501h6v1h-6zM500 501h5v1h-5zM71 499h10v1h-10zM500 499h9v1h-9zM75 496h6v1h-6zM500 496h5v1h-5zM75 493h6v1h-6zM500 493h5v1h-5zM75 491h6v1h-6zM500 491h5v1h-5zM75 488h6v1h-6zM500 488h5v1h-5zM71 486h10v1h-10zM500 486h9v1h-9zM75 483h6v1h-6zM500 483h5v1h-5zM75 481h6v1h-6zM500 481h5v1h-5zM75 478h6v1h-6zM500 478h5v1h-5zM75 475h6v1h-6zM500 475h5v1h-5zM71 473h10v1h-10zM500 473h9v1h-9zM75 470h6v1h-6zM500 470h5v1h-5zM75 468h6v1h-6zM500 468h5v1h-5zM75 465h6v1h-6zM500 465h5v1h-5zM75 462h6v1h-6zM500 462h5v1h-5zM71 460h10v1h-10zM500 460h9v1h-9zM80 537h1v3h-1zM80 459h1v2h-1zM115 537h1v3h-1zM150 537h1v3h-1zM185 537h1v3h-1zM185 459h1v2h-1zM220 537h1v3h-1zM255 537h1v3h-1zM290 537h1v3h-1zM290 459h1v2h-1zM325 537h1v3h-1zM360 537h1v3h-1zM395 537h1v3h-1zM395 459h1v2h-1zM430 537h1v3h-1zM465 537h1v3h-1zM500 537h1v3h-1zM500 459h1v2h-1zM80 556h421v1h-421zM80 632h421v1h-421zM80 633h421v1h-421zM80 556h1v78h-1zM500 556h1v78h-1zM71 633h10v1h-10zM500 633h9v1h-9zM75 631h6v1h-6zM500 631h5v1h-5zM75 628h6v1h-6zM500 628h5v1h-5zM75 626h6v1h-6zM500 626h5v1h-5zM75 623h6v1h-6zM500 623h5v1h-5zM71 621h10v1h-10zM500 621h9v1h-9zM75 618h6v1h-6zM500 618h5v1h-5zM75 615h6v1h-6zM500 615h5v1h-5zM75 613h6v1h-6zM500 613h5v1h-5zM75 610h6v1h-6zM500 610h5v1h-5zM71 608h10v1h-10zM500 608h9v1h-9zM75 605h6v1h-6zM500 605h5v1h-5zM75 602h6v1h-6zM500 602h5v1h-5zM75 600h6v1h-6zM500 600h5v1h-5zM75 597h6v1h-6zM500 597h5v1h-5zM71 595h10v1h-10zM500 595h9v1h-9zM75 592h6v1h-6zM500 592h5v1h-5zM75 589h6v1h-6zM500 589h5v1h-5zM75 587h6v1h-6zM500 587h5v1h-5zM75 584h6v1h-6zM500 584h5v1h-5zM71 582h10v1h-10zM500 582h9v1h-9zM75 579h6v1h-6zM500 579h5v1h-5zM75 577h6v1h-6zM500 577h5v1h-5zM75 574h6v1h-6zM500 574h5v1h-5zM75 571h6v1h-6zM500 571h5v1h-5zM71 569h10v1h-10zM500 569h9v1h-9zM75 566h6v1h-6zM500 566h5v1h-5zM75 564h6v1h-6zM500 564h5v1h-5zM75 561h6v1h-6zM500 561h5v1h-5zM75 558h6v1h-6zM500 558h5v1h-5zM71 556h10v1h-10zM500 556h9v1h-9zM80 633h1v3h-1zM80 555h1v2h-1zM115 633h1v3h-1zM150 633h1v3h-1zM185 633h1v3h-1zM185 555h1v2h-1zM220 633h1v3h-1zM255 633h1v3h-1zM290 633h1v3h-1zM290 555h1v2h-1zM325 633h1v3h-1zM360 633h1v3h-1zM395 633h1v3h-1zM395 555h1v2h-1zM430 633h1v3h-1zM465 633h1v3h-1zM500 633h1v3h-1zM500 555h1v2h-1zM576 57h29v1h-29zM576 134h29v1h-29zM580 57h1v78h-1zM600 57h1v78h-1zM576 57h5v1h-5zM600 57h5v1h-5zM578 70h3v1h-3zM600 70h3v1h-3zM578 67h3v1h-3zM600 67h3v1h-3zM578 65h3v1h-3zM600 65h3v1h-3zM578 63h3v1h-3zM600 63h3v1h-3zM578 61h3v1h-3zM600 61h3v1h-3zM578 60h3v1h-3zM600 60h3v1h-3zM578 59h3v1h-3zM600 59h3v1h-3zM578 58h3v1h-3zM600 58h3v1h-3zM576 76h5v1h-5zM600 76h5v1h-5zM578 90h3v1h-3zM600 90h3v1h-3zM578 86h3v1h-3zM600 86h3v1h-3zM578 84h3v1h-3zM600 84h3v1h-3zM578 82h3v1h-3zM600 82h3v1h-3zM578 81h3v1h-3zM600 81h3v1h-3zM578 79h3v1h-3zM600 79h3v1h-3zM578 78h3v1h-3zM600 78h3v1h-3zM578 77h3v1h-3zM600 77h3v1h-3zM576 96h5v1h-5zM600 96h5v1h-5zM578 109h3v1h-3zM600 109h3v1h-3zM578 106h3v1h-3zM600 106h3v1h-3zM578 103h3v1h-3zM600 103h3v1h-3zM578 101h3v1h-3zM600 101h3v1h-3zM578 100h3v1h-3zM600 100h3v1h-3zM578 98h3v1h-3zM600 98h3v1h-3zM578 97h3v1h-3zM600 97h3v1h-3zM578 96h3v1h-3zM600 96h3v1h-3zM576 115h5v1h-5zM600 115h5v1h-5zM578 128h3v1h-3zM600 128h3v1h-3zM578 125h3v1h-3zM600 125h3v1h-3zM578 122h3v1h-3zM600 122h3v1h-3zM578 121h3v1h-3zM600 121h3v1h-3zM578 119h3v1h-3zM600 119h3v1h-3zM578 118h3v1h-3zM600 118h3v1h-3zM578 117h3v1h-3zM600 117h3v1h-3zM578 116h3v1h-3zM600 116h3v1h-3zM576 134h5v1h-5zM600 134h5v1h-5zM576 153h29v1h-29zM576 230h29v1h-29zM580 153h1v78h-1zM600 153h1v78h-1zM576 153h5v1h-5zM600 153h5v1h-5zM578 166h3v1h-3zM600 166h3v1h-3zM578 163h3v1h-3zM600 163h3v1h-3zM578 161h3v1h-3zM600 161h3v1h-3zM578 159h3v1h-3zM600 159h3v1h-3zM578 157h3v1h-3zM600 157h3v1h-3zM578 156h3v1h-3zM600 156h3v1h-3zM578 155h3v1h-3zM600 155h3v1h-3zM578 154h3v1h-3zM600 154h3v1h-3zM576 172h5v1h-5zM600 172h5v1h-5zM578 186h3v1h-3zM600 186h3v1h-3zM578 182h3v1h-3zM600 182h3v1h-3zM578 180h3v1h-3zM600 180h3v1h-3zM578 178h3v1h-3zM600 178h3v1h-3zM578 177h3v1h-3zM600 177h3v1h-3zM578 175h3v1h-3zM600 175h3v1h-3zM578 174h3v1h-3zM600 174h3v1h-3zM578 173h3v1h-3zM600 173h3v1h-3zM576 192h5v1h-5zM600 192h5v1h-5zM578 205h3v1h-3zM600 205h3v1h-3zM578 202h3v1h-3zM600 202h3v1h-3zM578 199h3v1h-3zM600 199h3v1h-3zM578 197h3v1h-3zM600 197h3v1h-3zM578 196h3v1h-3zM600 196h3v1h-3zM578 194h3v1h-3zM600 194h3v1h-3zM578 193h3v1h-3zM600 193h3v1h-3zM578 192h3v1h-3zM600 192h3v1h-3zM576 211h5v1h-5zM600 211h5v1h-5zM578 224h3v1h-3zM600 224h3v1h-3zM578 221h3v1h-3zM600 221h3v1h-3zM578 218h3v1h-3zM600 218h3v1h-3zM578 217h3v1h-3zM600 217h3v1h-3zM578 215h3v1h-3zM600 215h3v1h-3zM578 214h3v1h-3zM600 214h3v1h-3zM578 213h3v1h-3zM600 213h3v1h-3zM578 212h3v1h-3zM600 212h3v1h-3zM576 230h5v1h-5zM600 230h5v1h-5zM576 249h29v1h-29zM576 326h29v1h-29zM580 249h1v78h-1zM600 249h1v78h-1zM576 249h5v1h-5zM600 249h5v1h-5zM578 267h3v1h-3zM600 267h3v1h-3zM578 262h3v1h-3zM600 262h3v1h-3zM578 259h3v1h-3zM600 259h3v1h-3zM578 257h3v1h-3zM600 257h3v1h-3zM578 255h3v1h-3zM600 255h3v1h-3zM578 253h3v1h-3zM600 253h3v1h-3zM578 251h3v1h-3zM600 251h3v1h-3zM578 250h3v1h-3zM600 250h3v1h-3zM576 275h5v1h-5zM600 275h5v1h-5zM578 293h3v1h-3zM600 293h3v1h-3zM578 288h3v1h-3zM600 288h3v1h-3zM578 285h3v1h-3zM600 285h3v1h-3zM578 282h3v1h-3zM600 282h3v1h-3zM578 280h3v1h-3zM600 280h3v1h-3zM578 279h3v1h-3zM600 279h3v1h-3zM578 277h3v1h-3zM600 277h3v1h-3zM578 276h3v1h-3zM600 276h3v1h-3zM576 300h5v1h-5zM600 300h5v1h-5zM578 318h3v1h-3zM600 318h3v1h-3zM578 314h3v1h-3zM600 314h3v1h-3zM578 311h3v1h-3zM600 311h3v1h-3zM578 308h3v1h-3zM600 308h3v1h-3zM578 306h3v1h-3zM600 306h3v1h-3zM578 304h3v1h-3zM600 304h3v1h-3zM578 303h3v1h-3zM600 303h3v1h-3zM578 302h3v1h-3zM600 302h3v1h-3zM576 326h5v1h-5zM600 326h5v1h-5zM576 364h29v1h-29zM576 441h29v1h-29zM580 364h1v78h-1zM600 364h1v78h-1zM576 364h5v1h-5zM600 364h5v1h-5zM578 375h3v1h-3zM600 375h3v1h-3zM578 372h3v1h-3zM600 372h3v1h-3zM578 370h3v1h-3zM600 370h3v1h-3zM578 369h3v1h-3zM600 369h3v1h-3zM578 367h3v1h-3zM600 367h3v1h-3zM578 366h3v1h-3zM600 366h3v1h-3zM578 365h3v1h-3zM600 365h3v1h-3zM578 365h3v1h-3zM600 365h3v1h-3zM576 379h5v1h-5zM600 379h5v1h-5zM578 390h3v1h-3zM600 390h3v1h-3zM578 387h3v1h-3zM600 387h3v1h-3zM578 386h3v1h-3zM600 386h3v1h-3zM578 384h3v1h-3zM600 384h3v1h-3zM578 383h3v1h-3zM600 383h3v1h-3zM578 382h3v1h-3zM600 382h3v1h-3zM578 381h3v1h-3zM600 381h3v1h-3zM578 380h3v1h-3zM600 380h3v1h-3zM576 395h5v1h-5zM600 395h5v1h-5zM578 406h3v1h-3zM600 406h3v1h-3zM578 403h3v1h-3zM600 403h3v1h-3zM578 401h3v1h-3zM600 401h3v1h-3zM578 399h3v1h-3zM600 399h3v1h-3zM578 398h3v1h-3zM600 398h3v1h-3zM578 397h3v1h-3zM600 397h3v1h-3zM578 396h3v1h-3zM600 396h3v1h-3zM578 396h3v1h-3zM600 396h3v1h-3zM576 410h5v1h-5zM600 410h5v1h-5zM578 421h3v1h-3zM600 421h3v1h-3zM578 418h3v1h-3zM600 418h3v1h-3zM578 416h3v1h-3zM600 416h3v1h-3zM578 415h3v1h-3zM600 415h3v1h-3zM578 414h3v1h-3zM600 414h3v1h-3zM578 413h3v1h-3zM600 413h3v1h-3zM578 412h3v1h-3zM600 412h3v1h-3zM578 411h3v1h-3zM600 411h3v1h-3zM576 426h5v1h-5zM600 426h5v1h-5zM578 436h3v1h-3zM600 436h3v1h-3zM578 434h3v1h-3zM600 434h3v1h-3zM578 432h3v1h-3zM600 432h3v1h-3zM578 430h3v1h-3zM600 430h3v1h-3zM578 429h3v1h-3zM600 429h3v1h-3zM578 428h3v1h-3zM600 428h3v1h-3zM578 427h3v1h-3zM600 427h3v1h-3zM578 426h3v1h-3zM600 426h3v1h-3zM576 441h5v1h-5zM600 441h5v1h-5zM576 460h29v1h-29zM576 537h29v1h-29zM580 460h1v78h-1zM600 460h1v78h-1zM576 460h5v1h-5zM600 460h5v1h-5zM578 471h3v1h-3zM600 471h3v1h-3zM578 468h3v1h-3zM600 468h3v1h-3zM578 466h3v1h-3zM600 466h3v1h-3zM578 465h3v1h-3zM600 465h3v1h-3zM578 463h3v1h-3zM600 463h3v1h-3zM578 462h3v1h-3zM600 462h3v1h-3zM578 461h3v1h-3zM600 461h3v1h-3zM578 461h3v1h-3zM600 461h3v1h-3zM576 475h5v1h-5zM600 475h5v1h-5zM578 486h3v1h-3zM600 486h3v1h-3zM578 483h3v1h-3zM600 483h3v1h-3zM578 482h3v1h-3zM600 482h3v1h-3zM578 480h3v1h-3zM600 480h3v1h-3zM578 479h3v1h-3zM600 479h3v1h-3zM578 478h3v1h-3zM600 478h3v1h-3zM578 477h3v1h-3zM600 477h3v1h-3zM578 476h3v1h-3zM600 476h3v1h-3zM576 491h5v1h-5zM600 491h5v1h-5zM578 502h3v1h-3zM600 502h3v1h-3zM578 499h3v1h-3zM600 499h3v1h-3zM578 497h3v1h-3zM600 497h3v1h-3zM578 495h3v1h-3zM600 495h3v1h-3zM578 494h3v1h-3zM600 494h3v1h-3zM578 493h3v1h-3zM600 493h3v1h-3zM578 492h3v1h-3zM600 492h3v1h-3zM578 492h3v1h-3zM600 492h3v1h-3zM576 506h5v1h-5zM600 506h5v1h-5zM578 517h3v1h-3zM600 517h3v1h-3zM578 514h3v1h-3zM600 514h3v1h-3zM578 512h3v1h-3zM600 512h3v1h-3zM578 511h3v1h-3zM600 511h3v1h-3zM578 510h3v1h-3zM600 510h3v1h-3zM578 509h3v1h-3zM600 509h3v1h-3zM578 508h3v1h-3zM600 508h3v1h-3zM578 507h3v1h-3zM600 507h3v1h-3zM576 522h5v1h-5zM600 522h5v1h-5zM578 532h3v1h-3zM600 532h3v1h-3zM578 530h3v1h-3zM600 530h3v1h-3zM578 528h3v1h-3zM600 528h3v1h-3zM578 526h3v1h-3zM600 526h3v1h-3zM578 525h3v1h-3zM600 525h3v1h-3zM578 524h3v1h-3zM600 524h3v1h-3zM578 523h3v1h-3zM600 523h3v1h-3zM578 522h3v1h-3zM600 522h3v1h-3zM576 537h5v1h-5zM600 537h5v1h-5zM576 556h29v1h-29zM576 633h29v1h-29zM580 556h1v78h-1zM600 556h1v78h-1zM576 556h5v1h-5zM600 556h5v1h-5zM578 567h3v1h-3zM600 567h3v1h-3zM578 564h3v1h-3zM600 564h3v1h-3zM578 562h3v1h-3zM600 562h3v1h-3zM578 561h3v1h-3zM600 561h3v1h-3zM578 559h3v1h-3zM600 559h3v1h-3zM578 558h3v1h-3zM600 558h3v1h-3zM578 557h3v1h-3zM600 557h3v1h-3zM578 557h3v1h-3zM600 557h3v1h-3zM576 571h5v1h-5zM600 571h5v1h-5zM578 582h3v1h-3zM600 582h3v1h-3zM578 579h3v1h-3zM600 579h3v1h-3zM578 578h3v1h-3zM600 578h3v1h-3zM578 576h3v1h-3zM600 576h3v1h-3zM578 575h3v1h-3zM600 575h3v1h-3zM578 574h3v1h-3zM600 574h3v1h-3zM578 573h3v1h-3zM600 573h3v1h-3zM578 572h3v1h-3zM600 572h3v1h-3zM576 587h5v1h-5zM600 587h5v1h-5zM578 598h3v1h-3zM600 598h3v1h-3zM578 595h3v1h-3zM600 595h3v1h-3zM578 593h3v1h-3zM600 593h3v1h-3zM578 591h3v1h-3zM600 591h3v1h-3zM578 590h3v1h-3zM600 590h3v1h-3zM578 589h3v1h-3zM600 589h3v1h-3zM578 588h3v1h-3zM600 588h3v1h-3zM578 588h3v1h-3zM600 588h3v1h-3zM576 602h5v1h-5zM600 602h5v1h-5zM578 613h3v1h-3zM600 613h3v1h-3zM578 610h3v1h-3zM600 610h3v1h-3zM578 608h3v1h-3zM600 608h3v1h-3zM578 607h3v1h-3zM600 607h3v1h-3zM578 606h3v1h-3zM600 606h3v1h-3zM578 605h3v1h-3zM600 605h3v1h-3zM578 604h3v1h-3zM600 604h3v1h-3zM578 603h3v1h-3zM600 603h3v1h-3zM576 618h5v1h-5zM600 618h5v1h-5zM578 628h3v1h-3zM600 628h3v1h-3zM578 626h3v1h-3zM600 626h3v1h-3zM578 624h3v1h-3zM600 624h3v1h-3zM578 622h3v1h-3zM600 622h3v1h-3zM578 621h3v1h-3zM600 621h3v1h-3zM578 620h3v1h-3zM600 620h3v1h-3zM578 619h3v1h-3zM600 619h3v1h-3zM578 618h3v1h-3zM600 618h3v1h-3zM576 633h5v1h-5zM600 633h5v1h-5z" fill="#000" shape-rendering="crispEdges"/>
<path d="M51.92 57.58L56.6 57.58L54.05 60.98L55.32 60.98L56.17 61.4L56.6 61.83L57.02 63.1L57.02 63.95L56.6 65.22L55.75 66.08L54.47 66.5L53.2 66.5L51.92 66.08L51.5 65.65L51.07 64.8M62.12 66.5L60.85 66.08L60 64.8L59.57 62.67L59.57 61.4L60 59.27L60.85 58L62.12 57.58L62.97 57.58L64.25 58L65.1 59.27L65.52 61.4L65.52 62.67L65.1 64.8L64.25 66.08L62.97 66.5L62.12 66.5M51.5 68.6L51.5 68.18L51.92 67.33L52.35 66.9L53.2 66.48L54.9 66.48L55.75 66.9L56.17 67.33L56.6 68.18L56.6 69.03L56.17 69.88L55.32 71.15L51.07 75.4L57.02 75.4M59.57 73.7L60 74.55L60.42 74.98L61.7 75.4L62.97 75.4L64.25 74.98L65.1 74.12L65.52 72.85L65.52 72L65.1 70.73L64.25 69.88L62.97 69.45L61.7 69.45L60.42 69.88L60 70.3L60.42 66.48L64.67 66.48M51.5 81.6L51.5 81.18L51.92 80.33L52.35 79.9L53.2 79.48L54.9 79.48L55.75 79.9L56.17 80.33L56.6 81.18L56.6 82.03L56.17 82.88L55.32 84.15L51.07 88.4L57.02 88.4M62.12 88.4L60.85 87.98L60 86.7L59.57 84.58L59.57 83.3L60 81.18L60.85 79.9L62.12 79.48L62.97 79.48L64.25 79.9L65.1 81.18L65.52 83.3L65.52 84.58L65.1 86.7L64.25 87.98L62.97 88.4L62.12 88.4M52.35 94.18L53.2 93.75L54.47 92.48L54.47 101.4M59.57 99.7L60 100.55L60.42 100.98L61.7 101.4L62.97 101.4L64.25 100.98L65.1 100.12L65.52 98.85L65.52 98L65.1 96.73L64.25 95.88L62.97 95.45L61.7 95.45L60.42 95.88L60 96.3L60.42 92.48L64.67 92.48M52.35 107.18L53.2 106.75L54.47 105.48L54.47 114.4M62.12 114.4L60.85 113.98L60 112.7L59.57 110.58L59.57 109.3L60 107.18L60.85 105.9L62.12 105.48L62.97 105.48L64.25 105.9L65.1 107.18L65.52 109.3L65.52 110.58L65.1 112.7L64.25 113.98L62.97 114.4L62.12 114.4M59.57 125.7L60 126.55L60.42 126.98L61.7 127.4L62.97 127.4L64.25 126.98L65.1 126.12L65.52 124.85L65.52 124L65.1 122.73L64.25 121.88L62.97 121.45L61.7 121.45L60.42 121.88L60 122.3L60.42 118.48L64.67 118.48M62.12 134.3L60.85 133.88L60 132.6L59.57 130.48L59.57 129.2L60 127.08L60.85 125.8L62.12 125.38L62.97 125.38L64.25 125.8L65.1 127.08L65.52 129.2L65.52 130.48L65.1 132.6L64.25 133.88L62.97 134.3L62.12 134.3M51.92 153.57L56.6 153.57L54.05 156.97L55.32 156.97L56.17 157.4L56.6 157.82L57.02 159.1L57.02 159.95L56.6 161.22L55.75 162.07L54.47 162.5L53.2 162.5L51.92 162.07L51.5 161.65L51.07 160.8M62.12 162.5L60.85 162.07L60 160.8L59.57 158.68L59.57 157.4L60 155.28L60.85 154L62.12 153.57L62.97 153.57L64.25 154L65.1 155.28L65.52 157.4L65.52 158.68L65.1 160.8L64.25 162.07L62.97 162.5L62.12 162.5M51.5 164.6L51.5 164.18L51.92 163.33L52.35 162.9L53.2 162.47L54.9 162.47L55.75 162.9L56.17 163.33L56.6 164.18L56.6 165.03L56.17 165.88L55.32 167.15L51.07 171.4L57.02 171.4M59.57 169.7L60 170.55L60.42 170.97L61.7 171.4L62.97 171.4L64.25 170.97L65.1 170.12L65.52 168.85L65.52 168L65.1 166.72L64.25 165.88L62.97 165.45L61.7 165.45L60.42 165.88L60 166.3L60.42 162.47L64.67 162.47M51.5 177.6L51.5 177.18L51.92 176.33L52.35 175.9L53.2 175.47L54.9 175.47L55.75 175.9L56.17 176.33L56.6 177.18L56.6 178.03L56.17 178.88L55.32 180.15L51.07 184.4L57.02 184.4M62.12 184.4L60.85 183.97L60 182.7L59.57 180.58L59.57 179.3L60 177.18L60.85 175.9L62.12 175.47L62.97 175.47L64.25 175.9L65.1 177.18L65.52 179.3L65.52 180.58L65.1 182.7L64.25 183.97L62.97 184.4L62.12 184.4M52.35 190.18L53.2 189.75L54.47 188.47L54.47 197.4M59.57 195.7L60 196.55L60.42 196.97L61.7 197.4L62.97 197.4L64.25 196.97L65.1 196.12L65.52 194.85L65.52 194L65.1 192.72L64.25 191.88L62.97 191.45L61.7 191.45L60.42 191.88L60 192.3L60.42 188.47L64.67 188.47M52.35 203.18L53.2 202.75L54.47 201.47L54.47 210.4M62.12 210.4L60.85 209.97L60 208.7L59.57 206.58L59.57 205.3L60 203.18L60.85 201.9L62.12 201.47L62.97 201.47L64.25 201.9L65.1 203.18L65.52 205.3L65.52 206.58L65.1 208.7L64.25 209.97L62.97 210.4L62.12 210.4M59.57 221.7L60 222.55L60.42 222.97L61.7 223.4L62.97 223.4L64.25 222.97L65.1 222.12L65.52 220.85L65.52 220L65.1 218.72L64.25 217.88L62.97 217.45L61.7 217.45L60.42 217.88L60 218.3L60.42 214.47L64.67 214.47M62.12 230.3L60.85 229.88L60 228.6L59.57 226.48L59.57 225.2L60 223.08L60.85 221.8L62.12 221.38L62.97 221.38L64.25 221.8L65.1 223.08L65.52 225.2L65.52 226.48L65.1 228.6L64.25 229.88L62.97 230.3L62.12 230.3M51.92 249.57L56.6 249.57L54.05 252.97L55.32 252.97L56.17 253.4L56.6 253.82L57.02 255.1L57.02 255.95L56.6 257.23L55.75 258.07L54.47 258.5L53.2 258.5L51.92 258.07L51.5 257.65L51.07 256.8M62.12 258.5L60.85 258.07L60 256.8L59.57 254.68L59.57 253.4L60 251.28L60.85 250L62.12 249.57L62.97 249.57L64.25 250L65.1 251.28L65.52 253.4L65.52 254.68L65.1 256.8L64.25 258.07L62.97 258.5L62.12 258.5M51.5 260.6L51.5 260.17L51.92 259.32L52.35 258.9L53.2 258.47L54.9 258.47L55.75 258.9L56.17 259.32L56.6 260.17L56.6 261.02L56.17 261.88L55.32 263.15L51.07 267.4L57.02 267.4M59.57 265.7L60 266.55L60.42 266.97L61.7 267.4L62.97 267.4L64.25 266.97L65.1 266.12L65.52 264.85L65.52 264L65.1 262.72L64.25 261.88L62.97 261.45L61.7 261.45L60.42 261.88L60 262.3L60.42 258.47L64.67 258.47M51.5 273.6L51.5 273.17L51.92 272.32L52.35 271.9L53.2 271.47L54.9 271.47L55.75 271.9L56.17 272.32L56.6 273.17L56.6 274.02L56.17 274.88L55.32 276.15L51.07 280.4L57.02 280.4M62.12 280.4L60.85 279.97L60 278.7L59.57 276.57L59.57 275.3L60 273.17L60.85 271.9L62.12 271.47L62.97 271.47L64.25 271.9L65.1 273.17L65.52 275.3L65.52 276.57L65.1 278.7L64.25 279.97L62.97 280.4L62.12 280.4M52.35 286.17L53.2 285.75L54.47 284.47L54.47 293.4M59.57 291.7L60 292.55L60.42 292.97L61.7 293.4L62.97 293.4L64.25 292.97L65.1 292.12L65.52 290.85L65.52 290L65.1 288.72L64.25 287.88L62.97 287.45L61.7 287.45L60.42 287.88L60 288.3L60.42 284.47L64.67 284.47M52.35 299.17L53.2 298.75L54.47 297.47L54.47 306.4M62.12 306.4L60.85 305.97L60 304.7L59.57 302.57L59.57 301.3L60 299.17L60.85 297.9L62.12 297.47L62.97 297.47L64.25 297.9L65.1 299.17L65.52 301.3L65.52 302.57L65.1 304.7L64.25 305.97L62.97 306.4L62.12 306.4M59.57 317.7L60 318.55L60.42 318.97L61.7 319.4L62.97 319.4L64.25 318.97L65.1 318.12L65.52 316.85L65.52 316L65.1 314.72L64.25 313.88L62.97 313.45L61.7 313.45L60.42 313.88L60 314.3L60.42 310.47L64.67 310.47M62.12 326.3L60.85 325.88L60 324.6L59.57 322.48L59.57 321.2L60 319.07L60.85 317.8L62.12 317.38L62.97 317.38L64.25 317.8L65.1 319.07L65.52 321.2L65.52 322.48L65.1 324.6L64.25 325.88L62.97 326.3L62.12 326.3M51.92 364.57L56.6 364.57L54.05 367.98L55.32 367.98L56.17 368.4L56.6 368.82L57.02 370.1L57.02 370.95L56.6 372.23L55.75 373.07L54.47 373.5L53.2 373.5L51.92 373.07L51.5 372.65L51.07 371.8M62.12 373.5L60.85 373.07L60 371.8L59.57 369.68L59.57 368.4L60 366.27L60.85 365L62.12 364.57L62.97 364.57L64.25 365L65.1 366.27L65.52 368.4L65.52 369.68L65.1 371.8L64.25 373.07L62.97 373.5L62.12 373.5M51.5 375.6L51.5 375.17L51.92 374.32L52.35 373.9L53.2 373.47L54.9 373.47L55.75 373.9L56.17 374.32L56.6 375.17L56.6 376.02L56.17 376.88L55.32 378.15L51.07 382.4L57.02 382.4M59.57 380.7L60 381.55L60.42 381.97L61.7 382.4L62.97 382.4L64.25 381.97L65.1 381.12L65.52 379.85L65.52 379L65.1 377.72L64.25 376.88L62.97 376.45L61.7 376.45L60.42 376.88L60 377.3L60.42 373.47L64.67 373.47M51.5 388.6L51.5 388.17L51.92 387.32L52.35 386.9L53.2 386.47L54.9 386.47L55.75 386.9L56.17 387.32L56.6 388.17L56.6 389.02L56.17 389.88L55.32 391.15L51.07 395.4L57.02 395.4M62.12 395.4L60.85 394.97L60 393.7L59.57 391.57L59.57 390.3L60 388.17L60.85 386.9L62.12 386.47L62.97 386.47L64.25 386.9L65.1 388.17L65.52 390.3L65.52 391.57L65.1 393.7L64.25 394.97L62.97 395.4L62.12 395.4M52.35 401.17L53.2 400.75L54.47 399.47L54.47 408.4M59.57 406.7L60 407.55L60.42 407.97L61.7 408.4L62.97 408.4L64.25 407.97L65.1 407.12L65.52 405.85L65.52 405L65.1 403.72L64.25 402.88L62.97 402.45L61.7 402.45L60.42 402.88L60 403.3L60.42 399.47L64.67 399.47M52.35 414.17L53.2 413.75L54.47 412.47L54.47 421.4M62.12 421.4L60.85 420.97L60 419.7L59.57 417.57L59.57 416.3L60 414.17L60.85 412.9L62.12 412.47L62.97 412.47L64.25 412.9L65.1 414.17L65.52 416.3L65.52 417.57L65.1 419.7L64.25 420.97L62.97 421.4L62.12 421.4M59.57 432.7L60 433.55L60.42 433.97L61.7 434.4L62.97 434.4L64.25 433.97L65.1 433.12L65.52 431.85L65.52 431L65.1 429.72L64.25 428.88L62.97 428.45L61.7 428.45L60.42 428.88L60 429.3L60.42 425.47L64.67 425.47M62.12 441.3L60.85 440.88L60 439.6L59.57 437.48L59.57 436.2L60 434.07L60.85 432.8L62.12 432.38L62.97 432.38L64.25 432.8L65.1 434.07L65.52 436.2L65.52 437.48L65.1 439.6L64.25 440.88L62.97 441.3L62.12 441.3M51.92 460.57L56.6 460.57L54.05 463.98L55.32 463.98L56.17 464.4L56.6 464.82L57.02 466.1L57.02 466.95L56.6 468.23L55.75 469.07L54.47 469.5L53.2 469.5L51.92 469.07L51.5 468.65L51.07 467.8M62.12 469.5L60.85 469.07L60 467.8L59.57 465.68L59.57 464.4L60 462.27L60.85 461L62.12 460.57L62.97 460.57L64.25 461L65.1 462.27L65.52 464.4L65.52 465.68L65.1 467.8L64.25 469.07L62.97 469.5L62.12 469.5M51.5 471.6L51.5 471.17L51.92 470.32L52.35 469.9L53.2 469.47L54.9 469.47L55.75 469.9L56.17 470.32L56.6 471.17L56.6 472.02L56.17 472.88L55.32 474.15L51.07 478.4L57.02 478.4M59.57 476.7L60 477.55L60.42 477.97L61.7 478.4L62.97 478.4L64.25 477.97L65.1 477.12L65.52 475.85L65.52 475L65.1 473.72L64.25 472.88L62.97 472.45L61.7 472.45L60.42 472.88L60 473.3L60.42 469.47L64.67 469.47M51.5 484.6L51.5 484.17L51.92 483.32L52.35 482.9L53.2 482.47L54.9 482.47L55.75 482.9L56.17 483.32L56.6 484.17L56.6 485.02L56.17 485.88L55.32 487.15L51.07 491.4L57.02 491.4M62.12 491.4L60.85 490.97L60 489.7L59.57 487.57L59.57 486.3L60 484.17L60.85 482.9L62.12 482.47L62.97 482.47L64.25 482.9L65.1 484.17L65.52 486.3L65.52 487.57L65.1 489.7L64.25 490.97L62.97 491.4L62.12 491.4M52.35 497.17L53.2 496.75L54.47 495.47L54.47 504.4M59.57 502.7L60 503.55L60.42 503.97L61.7 504.4L62.97 504.4L64.25 503.97L65.1 503.12L65.52 501.85L65.52 501L65.1 499.72L64.25 498.88L62.97 498.45L61.7 498.45L60.42 498.88L60 499.3L60.42 495.47L64.67 495.47M52.35 510.17L53.2 509.75L54.47 508.47L54.47 517.4M62.12 517.4L60.85 516.98L60 515.7L59.57 513.57L59.57 512.3L60 510.17L60.85 508.9L62.12 508.47L62.97 508.47L64.25 508.9L65.1 510.17L65.52 512.3L65.52 513.57L65.1 515.7L64.25 516.98L62.97 517.4L62.12 517.4M59.57 528.7L60 529.55L60.42 529.98L61.7 530.4L62.97 530.4L64.25 529.98L65.1 529.12L65.52 527.85L65.52 527L65.1 525.73L64.25 524.88L62.97 524.45L61.7 524.45L60.42 524.88L60 525.3L60.42 521.48L64.67 521.48M62.12 537.3L60.85 536.88L60 535.6L59.57 533.47L59.57 532.2L60 530.07L60.85 528.8L62.12 528.38L62.97 528.38L64.25 528.8L65.1 530.07L65.52 532.2L65.52 533.47L65.1 535.6L64.25 536.88L62.97 537.3L62.12 537.3M51.92 556.58L56.6 556.58L54.05 559.98L55.32 559.98L56.17 560.4L56.6 560.83L57.02 562.1L57.02 562.95L56.6 564.23L55.75 565.08L54.47 565.5L53.2 565.5L51.92 565.08L51.5 564.65L51.07 563.8M62.12 565.5L60.85 565.08L60 563.8L59.57 561.67L59.57 560.4L60 558.27L60.85 557L62.12 556.58L62.97 556.58L64.25 557L65.1 558.27L65.52 560.4L65.52 561.67L65.1 563.8L64.25 565.08L62.97 565.5L62.12 565.5M51.5 567.6L51.5 567.17L51.92 566.32L52.35 565.9L53.2 565.48L54.9 565.48L55.75 565.9L56.17 566.32L56.6 567.17L56.6 568.02L56.17 568.88L55.32 570.15L51.07 574.4L57.02 574.4M59.57 572.7L60 573.55L60.42 573.98L61.7 574.4L62.97 574.4L64.25 573.98L65.1 573.12L65.52 571.85L65.52 571L65.1 569.73L64.25 568.88L62.97 568.45L61.7 568.45L60.42 568.88L60 569.3L60.42 565.48L64.67 565.48M51.5 580.6L51.5 580.17L51.92 579.32L52.35 578.9L53.2 578.48L54.9 578.48L55.75 578.9L56.17 579.32L56.6 580.17L56.6 581.02L56.17 581.88L55.32 583.15L51.07 587.4L57.02 587.4M62.12 587.4L60.85 586.98L60 585.7L59.57 583.57L59.57 582.3L60 580.17L60.85 578.9L62.12 578.48L62.97 578.48L64.25 578.9L65.1 580.17L65.52 582.3L65.52 583.57L65.1 585.7L64.25 586.98L62.97 587.4L62.12 587.4M52.35 593.17L53.2 592.75L54.47 591.48L54.47 600.4M59.57 598.7L60 599.55L60.42 599.98L61.7 600.4L62.97 600.4L64.25 599.98L65.1 599.12L65.52 597.85L65.52 597L65.1 595.73L64.25 594.88L62.97 594.45L61.7 594.45L60.42 594.88L60 595.3L60.42 591.48L64.67 591.48M52.35 606.17L53.2 605.75L54.47 604.48L54.47 613.4M62.12 613.4L60.85 612.98L60 611.7L59.57 609.57L59.57 608.3L60 606.17L60.85 604.9L62.12 604.48L62.97 604.48L64.25 604.9L65.1 606.17L65.52 608.3L65.52 609.57L65.1 611.7L64.25 612.98L62.97 613.4L62.12 613.4M59.57 624.7L60 625.55L60.42 625.98L61.7 626.4L62.97 626.4L64.25 625.98L65.1 625.12L65.52 623.85L65.52 623L65.1 621.73L64.25 620.88L62.97 620.45L61.7 620.45L60.42 620.88L60 621.3L60.42 617.48L64.67 617.48M62.12 633.3L60.85 632.88L60 631.6L59.57 629.47L59.57 628.2L60 626.07L60.85 624.8L62.12 624.38L62.97 624.38L64.25 624.8L65.1 626.07L65.52 628.2L65.52 629.47L65.1 631.6L64.25 632.88L62.97 633.3L62.12 633.3M29.47 133.56L29.47 139.16L38.5 139.16L38.5 133.56M33.77 139.16L33.77 135.72M32.48 131.41L38.5 126.69M38.5 131.41L32.48 126.69M30.33 123.25L29.9 123.67L29.47 123.25L29.9 122.81L30.76 122.81L31.62 123.25L32.05 123.67M29.47 110.78L29.47 111.63L29.9 112.5L31.19 112.92L38.5 112.92M32.48 114.22L32.48 111.2M32.48 108.19L38.5 108.19M35.06 108.19L33.77 107.77L32.91 106.91L32.48 106.05L32.48 104.75M32.91 98.73L32.48 99.59L32.48 100.89L32.91 101.75L33.77 102.61L35.06 103.03L35.06 97.88L34.2 97.88L33.34 98.31L32.91 98.73M35.06 103.03L35.92 103.03L37.21 102.61L38.07 101.75L38.5 100.89L38.5 99.59L38.07 98.73L37.21 97.88M32.48 90.13L41.51 90.13M37.21 90.13L38.07 91L38.5 91.86L38.5 93.15L38.07 94L37.21 94.87L35.92 95.3L35.06 95.3L33.77 94.87L32.91 94L32.48 93.15L32.48 91.86L32.91 91L33.77 90.13M41.51 76.8L40.65 77.66L39.36 78.53L37.64 79.38L35.49 79.81L33.77 79.81L31.62 79.38L29.9 78.53L28.61 77.66L27.75 76.8M29.47 73.8L38.5 73.8M29.47 67.78L38.5 67.78M33.77 73.8L33.77 67.78M38.5 60.04L38.5 64.77L32.48 60.04L32.48 64.77M27.75 57.45L28.61 56.59L29.9 55.73L31.62 54.88L33.77 54.45L35.49 54.45L37.64 54.88L39.36 55.73L40.65 56.59L41.51 57.45M29.47 229.35L29.47 234.94L38.5 234.94L38.5 229.35M33.77 234.94L33.77 231.5M32.48 227.63L38.5 225.05L32.48 222.47M41.51 228.06L41.51 227.63L41.08 226.77L40.22 225.91L38.5 225.05M30.33 219.46L29.9 219.89L29.47 219.46L29.9 219.03L30.76 219.03L31.62 219.46L32.05 219.89M29.47 206.99L29.47 207.85L29.9 208.71L31.19 209.14L38.5 209.14M32.48 210.43L32.48 207.42M32.48 204.41L38.5 204.41M35.06 204.41L33.77 203.98L32.91 203.12L32.48 202.26L32.48 200.97M32.91 194.95L32.48 195.81L32.48 197.1L32.91 197.96L33.77 198.82L35.06 199.25L35.06 194.09L34.2 194.09L33.34 194.52L32.91 194.95M35.06 199.25L35.92 199.25L37.21 198.82L38.07 197.96L38.5 197.1L38.5 195.81L38.07 194.95L37.21 194.09M32.48 186.35L41.51 186.35M37.21 186.35L38.07 187.21L38.5 188.07L38.5 189.36L38.07 190.22L37.21 191.08L35.92 191.51L35.06 191.51L33.77 191.08L32.91 190.22L32.48 189.36L32.48 188.07L32.91 187.21L33.77 186.35M41.51 173.02L40.65 173.88L39.36 174.74L37.64 175.6L35.49 176.03L33.77 176.03L31.62 175.6L29.9 174.74L28.61 173.88L27.75 173.02M29.47 170.01L38.5 170.01M29.47 163.99L38.5 163.99M33.77 170.01L33.77 163.99M38.5 156.25L38.5 160.98L32.48 156.25L32.48 160.98M27.75 153.67L28.61 152.81L29.9 151.95L31.62 151.09L33.77 150.66L35.49 150.66L37.64 151.09L39.36 151.95L40.65 152.81L41.51 153.67M29.47 323.85L29.47 329.44L38.5 329.44L38.5 323.85M33.77 329.44L33.77 326M38.5 316.97L38.5 321.7L32.48 316.97L32.48 321.7M29.47 304.5L29.47 305.36L29.9 306.22L31.19 306.65L38.5 306.65M32.48 307.94L32.48 304.93M32.48 301.92L38.5 301.92M35.06 301.92L33.77 301.49L32.91 300.62L32.48 299.77L32.48 298.48M32.91 292.46L32.48 293.32L32.48 294.61L32.91 295.47L33.77 296.33L35.06 296.76L35.06 291.6L34.2 291.6L33.34 292.03L32.91 292.46M35.06 296.76L35.92 296.76L37.21 296.33L38.07 295.47L38.5 294.61L38.5 293.32L38.07 292.46L37.21 291.6M32.48 283.86L41.51 283.86M37.21 283.86L38.07 284.72L38.5 285.58L38.5 286.87L38.07 287.73L37.21 288.59L35.92 289.02L35.06 289.02L33.77 288.59L32.91 287.73L32.48 286.87L32.48 285.58L32.91 284.72L33.77 283.86M41.51 270.53L40.65 271.39L39.36 272.25L37.64 273.11L35.49 273.54L33.77 273.54L31.62 273.11L29.9 272.25L28.61 271.39L27.75 270.53M29.47 267.52L38.5 267.52M29.47 261.5L38.5 261.5M33.77 267.52L33.77 261.5M38.5 253.76L38.5 258.49L32.48 253.76L32.48 258.49M27.75 251.18L28.61 250.32L29.9 249.46L31.62 248.6L33.77 248.17L35.49 248.17L37.64 248.6L39.36 249.46L40.65 250.32L41.51 251.18M33.77 446.58L33.77 442.72L33.34 441.43L32.91 441L32.05 440.56L31.19 440.56L30.33 441L29.9 441.43L29.47 442.72L29.47 446.58L38.5 446.58L38.5 442.72L38.07 441.43L37.64 441L36.78 440.56L35.49 440.56L34.63 441L34.2 441.43L33.77 442.72M32.48 437.99L38.5 433.25M38.5 437.99L32.48 433.25M30.33 429.81L29.9 430.25L29.47 429.81L29.9 429.38L30.76 429.38L31.62 429.81L32.05 430.25M29.47 417.35L29.47 418.2L29.9 419.06L31.19 419.5L38.5 419.5M32.48 420.79L32.48 417.77M32.48 414.76L38.5 414.76M35.06 414.76L33.77 414.34L32.91 413.48L32.48 412.62L32.48 411.32M32.91 405.31L32.48 406.17L32.48 407.46L32.91 408.31L33.77 409.18L35.06 409.61L35.06 404.44L34.2 404.44L33.34 404.88L32.91 405.31M35.06 409.61L35.92 409.61L37.21 409.18L38.07 408.31L38.5 407.46L38.5 406.17L38.07 405.31L37.21 404.44M32.48 396.7L41.51 396.7M37.21 396.7L38.07 397.56L38.5 398.43L38.5 399.72L38.07 400.57L37.21 401.44L35.92 401.87L35.06 401.87L33.77 401.44L32.91 400.57L32.48 399.72L32.48 398.43L32.91 397.56L33.77 396.7M41.51 383.38L40.65 384.24L39.36 385.1L37.64 385.95L35.49 386.38L33.77 386.38L31.62 385.95L29.9 385.1L28.61 384.24L27.75 383.38M29.47 380.37L38.5 380.37M29.47 374.35L38.5 374.35M33.77 380.37L33.77 374.35M38.5 366.61L38.5 371.34L32.48 366.61L32.48 371.34M27.75 364.02L28.61 363.17L29.9 362.31L31.62 361.44L33.77 361.01L35.49 361.01L37.64 361.44L39.36 362.31L40.65 363.17L41.51 364.02M33.77 542.37L33.77 538.5L33.34 537.21L32.91 536.78L32.05 536.35L31.19 536.35L30.33 536.78L29.9 537.21L29.47 538.5L29.47 542.37L38.5 542.37L38.5 538.5L38.07 537.21L37.64 536.78L36.78 536.35L35.49 536.35L34.63 536.78L34.2 537.21L33.77 538.5M32.48 534.2L38.5 531.62L32.48 529.04M41.51 534.63L41.51 534.2L41.08 533.34L40.22 532.48L38.5 531.62M30.33 526.03L29.9 526.46L29.47 526.03L29.9 525.6L30.76 525.6L31.62 526.03L32.05 526.46M29.47 513.56L29.47 514.42L29.9 515.28L31.19 515.71L38.5 515.71M32.48 517L32.48 513.99M32.48 510.98L38.5 510.98M35.06 510.98L33.77 510.55L32.91 509.69L32.48 508.83L32.48 507.54M32.91 501.52L32.48 502.38L32.48 503.67L32.91 504.53L33.77 505.39L35.06 505.82L35.06 500.66L34.2 500.66L33.34 501.09L32.91 501.52M35.06 505.82L35.92 505.82L37.21 505.39L38.07 504.53L38.5 503.67L38.5 502.38L38.07 501.52L37.21 500.66M32.48 492.92L41.51 492.92M37.21 492.92L38.07 493.78L38.5 494.64L38.5 495.93L38.07 496.79L37.21 497.65L35.92 498.08L35.06 498.08L33.77 497.65L32.91 496.79L32.48 495.93L32.48 494.64L32.91 493.78L33.77 492.92M41.51 479.59L40.65 480.45L39.36 481.31L37.64 482.17L35.49 482.6L33.77 482.6L31.62 482.17L29.9 481.31L28.61 480.45L27.75 479.59M29.47 476.58L38.5 476.58M29.47 470.56L38.5 470.56M33.77 476.58L33.77 470.56M38.5 462.82L38.5 467.55L32.48 462.82L32.48 467.55M27.75 460.24L28.61 459.38L29.9 458.52L31.62 457.66L33.77 457.23L35.49 457.23L37.64 457.66L39.36 458.52L40.65 459.38L41.51 460.24M33.77 636.86L33.77 632.99L33.34 631.7L32.91 631.27L32.05 630.84L31.19 630.84L30.33 631.27L29.9 631.7L29.47 632.99L29.47 636.86L38.5 636.86L38.5 632.99L38.07 631.7L37.64 631.27L36.78 630.84L35.49 630.84L34.63 631.27L34.2 631.7L33.77 632.99M38.5 623.53L38.5 628.26L32.48 623.53L32.48 628.26M29.47 611.06L29.47 611.92L29.9 612.78L31.19 613.21L38.5 613.21M32.48 614.5L32.48 611.49M32.48 608.48L38.5 608.48M35.06 608.48L33.77 608.05L32.91 607.19L32.48 606.33L32.48 605.04M32.91 599.02L32.48 599.88L32.48 601.17L32.91 602.03L33.77 602.89L35.06 603.32L35.06 598.16L34.2 598.16L33.34 598.59L32.91 599.02M35.06 603.32L35.92 603.32L37.21 602.89L38.07 602.03L38.5 601.17L38.5 599.88L38.07 599.02L37.21 598.16M32.48 590.42L41.51 590.42M37.21 590.42L38.07 591.28L38.5 592.14L38.5 593.43L38.07 594.29L37.21 595.15L35.92 595.58L35.06 595.58L33.77 595.15L32.91 594.29L32.48 593.43L32.48 592.14L32.91 591.28L33.77 590.42M41.51 577.09L40.65 577.95L39.36 578.81L37.64 579.67L35.49 580.1L33.77 580.1L31.62 579.67L29.9 578.81L28.61 577.95L27.75 577.09M29.47 574.08L38.5 574.08M29.47 568.06L38.5 568.06M33.77 574.08L33.77 568.06M38.5 560.32L38.5 565.05L32.48 560.32L32.48 565.05M27.75 557.74L28.61 556.88L29.9 556.02L31.62 555.16L33.77 554.73L35.49 554.73L37.64 555.16L39.36 556.02L40.65 556.88L41.51 557.74M121.7 27.25L126.42 27.25L128 26.73L128.53 26.2L129.05 25.15L129.05 23.57L128.53 22.52L128 22L126.42 21.48L121.7 21.48L121.7 32.5M139.03 29.35L138.5 30.93L137.45 31.98L136.4 32.5L134.82 32.5L133.78 31.98L132.72 30.93L132.2 29.35L132.2 28.3L132.72 26.73L133.78 25.68L134.82 25.15L136.4 25.15L137.45 25.68L138.5 26.73L139.03 28.3L139.03 29.35M142.7 21.48L142.7 32.5M152.68 25.15L152.68 32.5M152.68 30.93L151.62 31.98L150.57 32.5L149 32.5L147.95 31.98L146.9 30.93L146.38 29.35L146.38 28.3L146.9 26.73L147.95 25.68L149 25.15L150.57 25.15L151.62 25.68L152.68 26.73M156.88 25.15L156.88 32.5M156.88 28.3L157.4 26.73L158.45 25.68L159.5 25.15L161.07 25.15M172.1 27.25L176.82 27.25L178.4 26.73L178.93 26.2L179.45 25.15L179.45 23.57L178.93 22.52L178.4 22L176.82 21.48L172.1 21.48L172.1 32.5M182.07 21.48L184.7 32.5L187.32 21.48L189.95 32.5L192.57 21.48M195.72 21.48L195.72 32.5M208.32 21.48L208.32 32.5L214.62 32.5M224.07 21.48L217.25 21.48L217.25 32.5M217.25 26.73L221.45 26.73M225.65 21.48L228.28 32.5L230.9 21.48L233.53 32.5L236.15 21.48M239.3 26.73L244.03 26.73L245.6 26.2L246.12 25.68L246.65 24.62L246.65 23.57L246.12 22.52L245.6 22L244.03 21.48L239.3 21.48L239.3 32.5M242.98 26.73L246.65 32.5M266.08 24.1L265.55 23.05L264.5 22L263.45 21.48L261.35 21.48L260.3 22L259.25 23.05L258.73 24.1L258.2 25.68L258.2 28.3L258.73 29.88L259.25 30.93L260.3 31.98L261.35 32.5L263.45 32.5L264.5 31.98L265.55 30.93L266.08 29.88M269.75 21.48L269.75 32.5M269.75 27.25L271.33 25.68L272.38 25.15L273.95 25.15L275 25.68L275.53 27.25L275.53 32.5M285.5 25.15L285.5 32.5M285.5 30.93L284.45 31.98L283.4 32.5L281.83 32.5L280.78 31.98L279.73 30.93L279.2 29.35L279.2 28.3L279.73 26.73L280.78 25.68L281.83 25.15L283.4 25.15L284.45 25.68L285.5 26.73M289.7 25.15L289.7 32.5M289.7 27.25L291.28 25.68L292.33 25.15L293.9 25.15L294.95 25.68L295.48 27.25L295.48 32.5M299.68 25.15L299.68 32.5M299.68 27.25L301.25 25.68L302.3 25.15L303.88 25.15L304.93 25.68L305.45 27.25L305.45 32.5M314.38 25.68L313.33 25.15L311.75 25.15L310.7 25.68L309.65 26.73L309.12 28.3L315.43 28.3L315.43 27.25L314.9 26.2L314.38 25.68M309.12 28.3L309.12 29.35L309.65 30.93L310.7 31.98L311.75 32.5L313.33 32.5L314.38 31.98L315.43 30.93M319.1 21.48L319.1 32.5M328.55 26.73L328.02 25.68L326.45 25.15L324.88 25.15L323.3 25.68L322.77 26.73L323.3 27.77L324.35 28.3L326.98 28.82L328.02 29.35L328.55 30.4L328.55 30.93L328.02 31.98L326.45 32.5L324.88 32.5L323.3 31.98L322.77 30.93M341.68 23.57L342.73 23.05L344.3 21.48L344.3 32.5M359 27.77L370.02 27.77M387.88 23.05L387.35 22L385.77 21.48L384.73 21.48L383.15 22L382.1 23.57L381.58 26.2L381.58 28.82L382.1 30.93L383.15 31.98L384.73 32.5L385.25 32.5L386.83 31.98L387.88 30.93L388.4 29.35L388.4 28.82L387.88 27.25L386.83 26.2L385.25 25.68L384.73 25.68L383.15 26.2L382.1 27.25L381.58 28.82M407.3 29.88L407.82 28.3L407.82 25.68L407.3 24.1L406.77 23.05L405.73 22L404.15 21.48L400.48 21.48L400.48 32.5L404.15 32.5L405.73 31.98L406.77 30.93L407.3 29.88M416.22 25.68L415.17 25.15L413.6 25.15L412.55 25.68L411.5 26.73L410.97 28.3L417.27 28.3L417.27 27.25L416.75 26.2L416.22 25.68M410.97 28.3L410.97 29.35L411.5 30.93L412.55 31.98L413.6 32.5L415.17 32.5L416.22 31.98L417.27 30.93M426.2 26.73L425.67 25.68L424.1 25.15L422.52 25.15L420.95 25.68L420.42 26.73L420.95 27.77L422 28.3L424.62 28.82L425.67 29.35L426.2 30.4L426.2 30.93L425.67 31.98L424.1 32.5L422.52 32.5L420.95 31.98L420.42 30.93M429.88 25.15L429.88 36.17M429.88 26.73L430.92 25.68L431.97 25.15L433.55 25.15L434.6 25.68L435.65 26.73L436.17 28.3L436.17 29.35L435.65 30.93L434.6 31.98L433.55 32.5L431.97 32.5L430.92 31.98L429.88 30.93M445.62 25.15L445.62 32.5M439.85 25.15L439.85 30.4L440.38 31.98L441.42 32.5L443 32.5L444.05 31.98L445.62 30.4M449.83 25.15L449.83 32.5M449.83 27.25L451.4 25.68L452.45 25.15L454.02 25.15L455.08 25.68L455.6 27.25L455.6 32.5M537.29 59.29L538.15 58.86L539.44 57.57L539.44 66.6M547.18 66.6L545.89 66.17L545.03 64.88L544.6 62.73L544.6 61.44L545.03 59.29L545.89 58L547.18 57.57L548.04 57.57L549.33 58L550.19 59.29L550.62 61.44L550.62 62.73L550.19 64.88L549.33 66.17L548.04 66.6L547.18 66.6M553.63 55.73L561.37 55.73M569.97 51.86L569.54 51L568.25 50.57L567.39 50.57L566.1 51L565.24 52.29L564.81 54.44L564.81 56.59L565.24 58.31L566.1 59.17L567.39 59.6L567.82 59.6L569.11 59.17L569.97 58.31L570.4 57.02L570.4 56.59L569.97 55.3L569.11 54.44L567.82 54.01L567.39 54.01L566.1 54.44L565.24 55.3L564.81 56.59M537.29 74.94L538.15 74.51L539.44 73.22L539.44 82.25M547.18 82.25L545.89 81.82L545.03 80.53L544.6 78.38L544.6 77.09L545.03 74.94L545.89 73.65L547.18 73.22L548.04 73.22L549.33 73.65L550.19 74.94L550.62 77.09L550.62 78.38L550.19 80.53L549.33 81.82L548.04 82.25L547.18 82.25M553.63 71.38L561.37 71.38M566.1 75.25L570.4 66.22L564.38 66.22M537.29 94.19L538.15 93.76L539.44 92.47L539.44 101.5M547.18 101.5L545.89 101.07L545.03 99.78L544.6 97.63L544.6 96.34L545.03 94.19L545.89 92.9L547.18 92.47L548.04 92.47L549.33 92.9L550.19 94.19L550.62 96.34L550.62 97.63L550.19 99.78L549.33 101.07L548.04 101.5L547.18 101.5M553.63 90.63L561.37 90.63M569.54 94.07L568.25 94.5L566.53 94.5L565.24 94.07L564.81 93.64L564.38 92.78L564.38 91.49L564.81 90.63L565.67 89.77L568.68 88.91L569.54 88.48L569.97 87.62L569.97 86.76L569.54 85.9L568.25 85.47L566.53 85.47L565.24 85.9L564.81 86.76L564.81 87.62L565.24 88.48L566.1 88.91L567.82 89.34L569.11 89.77L569.97 90.63L570.4 91.49L570.4 92.78L569.97 93.64L569.54 94.07M537.29 113.44L538.15 113.01L539.44 111.72L539.44 120.75M547.18 120.75L545.89 120.32L545.03 119.03L544.6 116.88L544.6 115.59L545.03 113.44L545.89 112.15L547.18 111.72L548.04 111.72L549.33 112.15L550.19 113.44L550.62 115.59L550.62 116.88L550.19 119.03L549.33 120.32L548.04 120.75L547.18 120.75M553.63 109.88L561.37 109.88M564.81 112.46L565.24 113.32L566.53 113.75L567.39 113.75L568.68 113.32L569.54 112.03L569.97 109.88L569.97 107.73L569.54 106.01L568.68 105.15L567.39 104.72L566.96 104.72L565.67 105.15L564.81 106.01L564.38 107.3L564.38 107.73L564.81 109.02L565.67 109.88L566.96 110.31L567.39 110.31L568.68 109.88L569.54 109.02L569.97 107.73M528.69 127.19L529.55 126.76L530.84 125.47L530.84 134.5M538.58 134.5L537.29 134.07L536.43 132.78L536 130.63L536 129.34L536.43 127.19L537.29 125.9L538.58 125.47L539.44 125.47L540.73 125.9L541.59 127.19L542.02 129.34L542.02 130.63L541.59 132.78L540.73 134.07L539.44 134.5L538.58 134.5M545.03 123.63L552.77 123.63M557.07 120.19L557.93 119.76L559.22 118.47L559.22 127.5M566.96 127.5L565.67 127.07L564.81 125.78L564.38 123.63L564.38 122.34L564.81 120.19L565.67 118.9L566.96 118.47L567.82 118.47L569.11 118.9L569.97 120.19L570.4 122.34L570.4 123.63L569.97 125.78L569.11 127.07L567.82 127.5L566.96 127.5M537.29 155.29L538.15 154.86L539.44 153.57L539.44 162.6M547.18 162.6L545.89 162.17L545.03 160.88L544.6 158.73L544.6 157.44L545.03 155.29L545.89 154L547.18 153.57L548.04 153.57L549.33 154L550.19 155.29L550.62 157.44L550.62 158.73L550.19 160.88L549.33 162.17L548.04 162.6L547.18 162.6M553.63 151.73L561.37 151.73M569.97 147.86L569.54 147L568.25 146.57L567.39 146.57L566.1 147L565.24 148.29L564.81 150.44L564.81 152.59L565.24 154.31L566.1 155.17L567.39 155.6L567.82 155.6L569.11 155.17L569.97 154.31L570.4 153.02L570.4 152.59L569.97 151.3L569.11 150.44L567.82 150.01L567.39 150.01L566.1 150.44L565.24 151.3L564.81 152.59M537.29 170.94L538.15 170.51L539.44 169.22L539.44 178.25M547.18 178.25L545.89 177.82L545.03 176.53L544.6 174.38L544.6 173.09L545.03 170.94L545.89 169.65L547.18 169.22L548.04 169.22L549.33 169.65L550.19 170.94L550.62 173.09L550.62 174.38L550.19 176.53L549.33 177.82L548.04 178.25L547.18 178.25M553.63 167.38L561.37 167.38M566.1 171.25L570.4 162.22L564.38 162.22M537.29 190.19L538.15 189.76L539.44 188.47L539.44 197.5M547.18 197.5L545.89 197.07L545.03 195.78L544.6 193.63L544.6 192.34L545.03 190.19L545.89 188.9L547.18 188.47L548.04 188.47L549.33 188.9L550.19 190.19L550.62 192.34L550.62 193.63L550.19 195.78L549.33 197.07L548.04 197.5L547.18 197.5M553.63 186.63L561.37 186.63M569.54 190.07L568.25 190.5L566.53 190.5L565.24 190.07L564.81 189.64L564.38 188.78L564.38 187.49L564.81 186.63L565.67 185.77L568.68 184.91L569.54 184.48L569.97 183.62L569.97 182.76L569.54 181.9L568.25 181.47L566.53 181.47L565.24 181.9L564.81 182.76L564.81 183.62L565.24 184.48L566.1 184.91L567.82 185.34L569.11 185.77L569.97 186.63L570.4 187.49L570.4 188.78L569.97 189.64L569.54 190.07M537.29 209.44L538.15 209.01L539.44 207.72L539.44 216.75M547.18 216.75L545.89 216.32L545.03 215.03L544.6 212.88L544.6 211.59L545.03 209.44L545.89 208.15L547.18 207.72L548.04 207.72L549.33 208.15L550.19 209.44L550.62 211.59L550.62 212.88L550.19 215.03L549.33 216.32L548.04 216.75L547.18 216.75M553.63 205.88L561.37 205.88M564.81 208.46L565.24 209.32L566.53 209.75L567.39 209.75L568.68 209.32L569.54 208.03L569.97 205.88L569.97 203.73L569.54 202.01L568.68 201.15L567.39 200.72L566.96 200.72L565.67 201.15L564.81 202.01L564.38 203.3L564.38 203.73L564.81 205.02L565.67 205.88L566.96 206.31L567.39 206.31L568.68 205.88L569.54 205.02L569.97 203.73M528.69 223.19L529.55 222.76L530.84 221.47L530.84 230.5M538.58 230.5L537.29 230.07L536.43 228.78L536 226.63L536 225.34L536.43 223.19L537.29 221.9L538.58 221.47L539.44 221.47L540.73 221.9L541.59 223.19L542.02 225.34L542.02 226.63L541.59 228.78L540.73 230.07L539.44 230.5L538.58 230.5M545.03 219.63L552.77 219.63M557.07 216.19L557.93 215.76L559.22 214.47L559.22 223.5M566.96 223.5L565.67 223.07L564.81 221.78L564.38 219.63L564.38 218.34L564.81 216.19L565.67 214.9L566.96 214.47L567.82 214.47L569.11 214.9L569.97 216.19L570.4 218.34L570.4 219.63L569.97 221.78L569.11 223.07L567.82 223.5L566.96 223.5M537.29 251.29L538.15 250.86L539.44 249.57L539.44 258.6M547.18 258.6L545.89 258.17L545.03 256.88L544.6 254.73L544.6 253.44L545.03 251.29L545.89 250L547.18 249.57L548.04 249.57L549.33 250L550.19 251.29L550.62 253.44L550.62 254.73L550.19 256.88L549.33 258.17L548.04 258.6L547.18 258.6M553.63 247.73L561.37 247.73M569.97 243.86L569.54 243L568.25 242.57L567.39 242.57L566.1 243L565.24 244.29L564.81 246.44L564.81 248.59L565.24 250.31L566.1 251.17L567.39 251.6L567.82 251.6L569.11 251.17L569.97 250.31L570.4 249.02L570.4 248.59L569.97 247.3L569.11 246.44L567.82 246.01L567.39 246.01L566.1 246.44L565.24 247.3L564.81 248.59M537.29 273.36L538.15 272.93L539.44 271.64L539.44 280.67M547.18 280.67L545.89 280.24L545.03 278.95L544.6 276.8L544.6 275.51L545.03 273.36L545.89 272.07L547.18 271.64L548.04 271.64L549.33 272.07L550.19 273.36L550.62 275.51L550.62 276.8L550.19 278.95L549.33 280.24L548.04 280.67L547.18 280.67M553.63 269.8L561.37 269.8M566.1 273.67L570.4 264.64L564.38 264.64M537.29 299.02L538.15 298.59L539.44 297.3L539.44 306.33M547.18 306.33L545.89 305.9L545.03 304.61L544.6 302.46L544.6 301.17L545.03 299.02L545.89 297.73L547.18 297.3L548.04 297.3L549.33 297.73L550.19 299.02L550.62 301.17L550.62 302.46L550.19 304.61L549.33 305.9L548.04 306.33L547.18 306.33M553.63 295.46L561.37 295.46M569.54 298.9L568.25 299.33L566.53 299.33L565.24 298.9L564.81 298.47L564.38 297.61L564.38 296.32L564.81 295.46L565.67 294.6L568.68 293.74L569.54 293.31L569.97 292.45L569.97 291.59L569.54 290.73L568.25 290.3L566.53 290.3L565.24 290.73L564.81 291.59L564.81 292.45L565.24 293.31L566.1 293.74L567.82 294.17L569.11 294.6L569.97 295.46L570.4 296.32L570.4 297.61L569.97 298.47L569.54 298.9M537.29 319.19L538.15 318.76L539.44 317.47L539.44 326.5M547.18 326.5L545.89 326.07L545.03 324.78L544.6 322.63L544.6 321.34L545.03 319.19L545.89 317.9L547.18 317.47L548.04 317.47L549.33 317.9L550.19 319.19L550.62 321.34L550.62 322.63L550.19 324.78L549.33 326.07L548.04 326.5L547.18 326.5M553.63 315.63L561.37 315.63M564.81 318.21L565.24 319.07L566.53 319.5L567.39 319.5L568.68 319.07L569.54 317.78L569.97 315.63L569.97 313.48L569.54 311.76L568.68 310.9L567.39 310.47L566.96 310.47L565.67 310.9L564.81 311.76L564.38 313.05L564.38 313.48L564.81 314.77L565.67 315.63L566.96 316.06L567.39 316.06L568.68 315.63L569.54 314.77L569.97 313.48M537.29 366.29L538.15 365.86L539.44 364.57L539.44 373.6M547.18 373.6L545.89 373.17L545.03 371.88L544.6 369.73L544.6 368.44L545.03 366.29L545.89 365L547.18 364.57L548.04 364.57L549.33 365L550.19 366.29L550.62 368.44L550.62 369.73L550.19 371.88L549.33 373.17L548.04 373.6L547.18 373.6M553.63 362.73L561.37 362.73M565.67 359.29L566.53 358.86L567.82 357.57L567.82 366.6M537.29 378.09L538.15 377.66L539.44 376.37L539.44 385.4M547.18 385.4L545.89 384.97L545.03 383.68L544.6 381.53L544.6 380.24L545.03 378.09L545.89 376.8L547.18 376.37L548.04 376.37L549.33 376.8L550.19 378.09L550.62 380.24L550.62 381.53L550.19 383.68L549.33 384.97L548.04 385.4L547.18 385.4M553.63 374.53L561.37 374.53M564.81 371.52L564.81 371.09L565.24 370.23L565.67 369.8L566.53 369.37L568.25 369.37L569.11 369.8L569.54 370.23L569.97 371.09L569.97 371.95L569.54 372.81L568.68 374.1L564.38 378.4L570.4 378.4M537.29 393.49L538.15 393.06L539.44 391.77L539.44 400.8M547.18 400.8L545.89 400.37L545.03 399.08L544.6 396.93L544.6 395.64L545.03 393.49L545.89 392.2L547.18 391.77L548.04 391.77L549.33 392.2L550.19 393.49L550.62 395.64L550.62 396.93L550.19 399.08L549.33 400.37L548.04 400.8L547.18 400.8M553.63 389.93L561.37 389.93M565.24 384.77L569.97 384.77L567.39 388.21L568.68 388.21L569.54 388.64L569.97 389.07L570.4 390.36L570.4 391.22L569.97 392.51L569.11 393.37L567.82 393.8L566.53 393.8L565.24 393.37L564.81 392.94L564.38 392.08M537.29 408.89L538.15 408.46L539.44 407.17L539.44 416.2M547.18 416.2L545.89 415.77L545.03 414.48L544.6 412.33L544.6 411.04L545.03 408.89L545.89 407.6L547.18 407.17L548.04 407.17L549.33 407.6L550.19 408.89L550.62 411.04L550.62 412.33L550.19 414.48L549.33 415.77L548.04 416.2L547.18 416.2M553.63 405.33L561.37 405.33M570.83 406.19L564.38 406.19L568.68 400.17L568.68 409.2M537.29 424.29L538.15 423.86L539.44 422.57L539.44 431.6M547.18 431.6L545.89 431.17L545.03 429.88L544.6 427.73L544.6 426.44L545.03 424.29L545.89 423L547.18 422.57L548.04 422.57L549.33 423L550.19 424.29L550.62 426.44L550.62 427.73L550.19 429.88L549.33 431.17L548.04 431.6L547.18 431.6M553.63 420.73L561.37 420.73M564.38 422.88L564.81 423.74L565.24 424.17L566.53 424.6L567.82 424.6L569.11 424.17L569.97 423.31L570.4 422.02L570.4 421.16L569.97 419.87L569.11 419.01L567.82 418.58L566.53 418.58L565.24 419.01L564.81 419.44L565.24 415.57L569.54 415.57M537.29 434.19L538.15 433.76L539.44 432.47L539.44 441.5M547.18 441.5L545.89 441.07L545.03 439.78L544.6 437.63L544.6 436.34L545.03 434.19L545.89 432.9L547.18 432.47L548.04 432.47L549.33 432.9L550.19 434.19L550.62 436.34L550.62 437.63L550.19 439.78L549.33 441.07L548.04 441.5L547.18 441.5M553.63 430.63L561.37 430.63M569.97 426.76L569.54 425.9L568.25 425.47L567.39 425.47L566.1 425.9L565.24 427.19L564.81 429.34L564.81 431.49L565.24 433.21L566.1 434.07L567.39 434.5L567.82 434.5L569.11 434.07L569.97 433.21L570.4 431.92L570.4 431.49L569.97 430.2L569.11 429.34L567.82 428.91L567.39 428.91L566.1 429.34L565.24 430.2L564.81 431.49M537.29 462.29L538.15 461.86L539.44 460.57L539.44 469.6M547.18 469.6L545.89 469.17L545.03 467.88L544.6 465.73L544.6 464.44L545.03 462.29L545.89 461L547.18 460.57L548.04 460.57L549.33 461L550.19 462.29L550.62 464.44L550.62 465.73L550.19 467.88L549.33 469.17L548.04 469.6L547.18 469.6M553.63 458.73L561.37 458.73M565.67 455.29L566.53 454.86L567.82 453.57L567.82 462.6M537.29 474.09L538.15 473.66L539.44 472.37L539.44 481.4M547.18 481.4L545.89 480.97L545.03 479.68L544.6 477.53L544.6 476.24L545.03 474.09L545.89 472.8L547.18 472.37L548.04 472.37L549.33 472.8L550.19 474.09L550.62 476.24L550.62 477.53L550.19 479.68L549.33 480.97L548.04 481.4L547.18 481.4M553.63 470.53L561.37 470.53M564.81 467.52L564.81 467.09L565.24 466.23L565.67 465.8L566.53 465.37L568.25 465.37L569.11 465.8L569.54 466.23L569.97 467.09L569.97 467.95L569.54 468.81L568.68 470.1L564.38 474.4L570.4 474.4M537.29 489.49L538.15 489.06L539.44 487.77L539.44 496.8M547.18 496.8L545.89 496.37L545.03 495.08L544.6 492.93L544.6 491.64L545.03 489.49L545.89 488.2L547.18 487.77L548.04 487.77L549.33 488.2L550.19 489.49L550.62 491.64L550.62 492.93L550.19 495.08L549.33 496.37L548.04 496.8L547.18 496.8M553.63 485.93L561.37 485.93M565.24 480.77L569.97 480.77L567.39 484.21L568.68 484.21L569.54 484.64L569.97 485.07L570.4 486.36L570.4 487.22L569.97 488.51L569.11 489.37L567.82 489.8L566.53 489.8L565.24 489.37L564.81 488.94L564.38 488.08M537.29 504.89L538.15 504.46L539.44 503.17L539.44 512.2M547.18 512.2L545.89 511.77L545.03 510.48L544.6 508.33L544.6 507.04L545.03 504.89L545.89 503.6L547.18 503.17L548.04 503.17L549.33 503.6L550.19 504.89L550.62 507.04L550.62 508.33L550.19 510.48L549.33 511.77L548.04 512.2L547.18 512.2M553.63 501.33L561.37 501.33M570.83 502.19L564.38 502.19L568.68 496.17L568.68 505.2M537.29 520.29L538.15 519.86L539.44 518.57L539.44 527.6M547.18 527.6L545.89 527.17L545.03 525.88L544.6 523.73L544.6 522.44L545.03 520.29L545.89 519L547.18 518.57L548.04 518.57L549.33 519L550.19 520.29L550.62 522.44L550.62 523.73L550.19 525.88L549.33 527.17L548.04 527.6L547.18 527.6M553.63 516.73L561.37 516.73M564.38 518.88L564.81 519.74L565.24 520.17L566.53 520.6L567.82 520.6L569.11 520.17L569.97 519.31L570.4 518.02L570.4 517.16L569.97 515.87L569.11 515.01L567.82 514.58L566.53 514.58L565.24 515.01L564.81 515.44L565.24 511.57L569.54 511.57M537.29 530.19L538.15 529.76L539.44 528.47L539.44 537.5M547.18 537.5L545.89 537.07L545.03 535.78L544.6 533.63L544.6 532.34L545.03 530.19L545.89 528.9L547.18 528.47L548.04 528.47L549.33 528.9L550.19 530.19L550.62 532.34L550.62 533.63L550.19 535.78L549.33 537.07L548.04 537.5L547.18 537.5M553.63 526.63L561.37 526.63M569.97 522.76L569.54 521.9L568.25 521.47L567.39 521.47L566.1 521.9L565.24 523.19L564.81 525.34L564.81 527.49L565.24 529.21L566.1 530.07L567.39 530.5L567.82 530.5L569.11 530.07L569.97 529.21L570.4 527.92L570.4 527.49L569.97 526.2L569.11 525.34L567.82 524.91L567.39 524.91L566.1 525.34L565.24 526.2L564.81 527.49M537.29 558.29L538.15 557.86L539.44 556.57L539.44 565.6M547.18 565.6L545.89 565.17L545.03 563.88L544.6 561.73L544.6 560.44L545.03 558.29L545.89 557L547.18 556.57L548.04 556.57L549.33 557L550.19 558.29L550.62 560.44L550.62 561.73L550.19 563.88L549.33 565.17L548.04 565.6L547.18 565.6M553.63 554.73L561.37 554.73M565.67 551.29L566.53 550.86L567.82 549.57L567.82 558.6M537.29 570.09L538.15 569.66L539.44 568.37L539.44 577.4M547.18 577.4L545.89 576.97L545.03 575.68L544.6 573.53L544.6 572.24L545.03 570.09L545.89 568.8L547.18 568.37L548.04 568.37L549.33 568.8L550.19 570.09L550.62 572.24L550.62 573.53L550.19 575.68L549.33 576.97L548.04 577.4L547.18 577.4M553.63 566.53L561.37 566.53M564.81 563.52L564.81 563.09L565.24 562.23L565.67 561.8L566.53 561.37L568.25 561.37L569.11 561.8L569.54 562.23L569.97 563.09L569.97 563.95L569.54 564.81L568.68 566.1L564.38 570.4L570.4 570.4M537.29 585.49L538.15 585.06L539.44 583.77L539.44 592.8M547.18 592.8L545.89 592.37L545.03 591.08L544.6 588.93L544.6 587.64L545.03 585.49L545.89 584.2L547.18 583.77L548.04 583.77L549.33 584.2L550.19 585.49L550.62 587.64L550.62 588.93L550.19 591.08L549.33 592.37L548.04 592.8L547.18 592.8M553.63 581.93L561.37 581.93M565.24 576.77L569.97 576.77L567.39 580.21L568.68 580.21L569.54 580.64L569.97 581.07L570.4 582.36L570.4 583.22L569.97 584.51L569.11 585.37L567.82 585.8L566.53 585.8L565.24 585.37L564.81 584.94L564.38 584.08M537.29 600.89L538.15 600.46L539.44 599.17L539.44 608.2M547.18 608.2L545.89 607.77L545.03 606.48L544.6 604.33L544.6 603.04L545.03 600.89L545.89 599.6L547.18 599.17L548.04 599.17L549.33 599.6L550.19 600.89L550.62 603.04L550.62 604.33L550.19 606.48L549.33 607.77L548.04 608.2L547.18 608.2M553.63 597.33L561.37 597.33M570.83 598.19L564.38 598.19L568.68 592.17L568.68 601.2M537.29 616.29L538.15 615.86L539.44 614.57L539.44 623.6M547.18 623.6L545.89 623.17L545.03 621.88L544.6 619.73L544.6 618.44L545.03 616.29L545.89 615L547.18 614.57L548.04 614.57L549.33 615L550.19 616.29L550.62 618.44L550.62 619.73L550.19 621.88L549.33 623.17L548.04 623.6L547.18 623.6M553.63 612.73L561.37 612.73M564.38 614.88L564.81 615.74L565.24 616.17L566.53 616.6L567.82 616.6L569.11 616.17L569.97 615.31L570.4 614.02L570.4 613.16L569.97 611.87L569.11 611.01L567.82 610.58L566.53 610.58L565.24 611.01L564.81 611.44L565.24 607.57L569.54 607.57M537.29 626.19L538.15 625.76L539.44 624.47L539.44 633.5M547.18 633.5L545.89 633.07L545.03 631.78L544.6 629.63L544.6 628.34L545.03 626.19L545.89 624.9L547.18 624.47L548.04 624.47L549.33 624.9L550.19 626.19L550.62 628.34L550.62 629.63L550.19 631.78L549.33 633.07L548.04 633.5L547.18 633.5M553.63 622.63L561.37 622.63M569.97 618.76L569.54 617.9L568.25 617.47L567.39 617.47L566.1 617.9L565.24 619.19L564.81 621.34L564.81 623.49L565.24 625.21L566.1 626.07L567.39 626.5L567.82 626.5L569.11 626.07L569.97 625.21L570.4 623.92L570.4 623.49L569.97 622.2L569.11 621.34L567.82 620.91L567.39 620.91L566.1 621.34L565.24 622.2L564.81 623.49M565.28 39.43L564.62 38.85L563.98 37.98L563.33 36.82L563 35.37L563 34.21L563.33 32.76L563.98 31.6L564.62 30.73L565.28 30.15M566.58 31.31L569.18 37.4L571.78 31.31M572.75 39.43L578.6 30.15M580.55 33.34L580.55 37.4M580.55 34.5L581.53 33.63L582.18 33.34L583.15 33.34L583.8 33.63L584.12 34.5L584.12 37.4M584.12 34.5L585.1 33.63L585.75 33.34L586.73 33.34L587.38 33.63L587.7 34.5L587.7 37.4M589.98 30.15L590.62 30.73L591.28 31.6L591.93 32.76L592.25 34.21L592.25 35.37L591.93 36.82L591.28 37.98L590.62 38.85L589.98 39.43M594.12 31.96L594.12 31.82L594.25 31.54L594.38 31.4L594.64 31.26L595.16 31.26L595.42 31.4L595.55 31.54L595.68 31.82L595.68 32.1L595.55 32.38L595.29 32.8L593.99 34.2L595.81 34.2M597 39.43L602.85 30.15M604.8 31.31L604.8 37.4M609.35 31.31L609.35 37.4M604.8 34.21L609.35 34.21M615.2 37.4L611.62 37.4L615.2 33.34L611.62 33.34M573 339.84L573 343.9M573 341L573.98 340.13L574.62 339.84L575.6 339.84L576.25 340.13L576.58 341L576.58 343.9M580.48 337.81L580.48 343.9M578.2 337.81L582.75 337.81M585.12 337.16L585.12 337.02L585.25 336.74L585.38 336.6L585.64 336.46L586.16 336.46L586.42 336.6L586.55 336.74L586.68 337.02L586.68 337.3L586.55 337.58L586.29 338L584.99 339.4L586.81 339.4M587 345.93L592.85 336.65M594.8 337.81L594.8 343.9M599.35 337.81L599.35 343.9M594.8 340.71L599.35 340.71M605.2 343.9L601.62 343.9L605.2 339.84L601.62 339.84M570.61 760.35L570.61 764.1L570.86 764.85L571.36 765.35L572.12 765.6L572.62 765.6L573.38 765.35L573.88 764.85L574.14 764.1L574.14 760.35M576.15 760.35L576.15 765.6M581.19 764.1L580.94 764.85L580.44 765.35L579.93 765.6L579.18 765.6L578.67 765.35L578.17 764.85L577.92 764.1L577.92 763.6L578.17 762.85L578.67 762.35L579.18 762.1L579.93 762.1L580.44 762.35L580.94 762.85L581.19 763.6L581.19 764.1M582.7 762.1L583.71 765.6L584.72 762.1L585.73 765.6L586.74 762.1M591.27 762.1L591.27 765.6M591.27 764.85L590.77 765.35L590.26 765.6L589.51 765.6L589 765.35L588.5 764.85L588.25 764.1L588.25 763.6L588.5 762.85L589 762.35L589.51 762.1L590.26 762.1L590.77 762.35L591.27 762.85M597.82 761.35L598.33 761.1L599.08 760.35L599.08 765.6M602.36 764.85L602.61 765.35L603.37 765.6L603.87 765.6L604.63 765.35L605.13 764.6L605.38 763.35L605.38 762.1L605.13 761.1L604.63 760.6L603.87 760.35L603.62 760.35L602.86 760.6L602.36 761.1L602.11 761.85L602.11 762.1L602.36 762.85L602.86 763.35L603.62 763.6L603.87 763.6L604.63 763.35L605.13 762.85L605.38 762.1M607.4 764.85L607.65 765.35L608.41 765.6L608.91 765.6L609.67 765.35L610.17 764.6L610.42 763.35L610.42 762.1L610.17 761.1L609.67 760.6L608.91 760.35L608.66 760.35L607.9 760.6L607.4 761.1L607.15 761.85L607.15 762.1L607.4 762.85L607.9 763.35L608.66 763.6L608.91 763.6L609.67 763.35L610.17 762.85L610.42 762.1M615.21 765.35L614.46 765.6L613.45 765.6L612.69 765.35L612.44 765.1L612.19 764.6L612.19 763.85L612.44 763.35L612.94 762.85L614.71 762.35L615.21 762.1L615.46 761.6L615.46 761.1L615.21 760.6L614.46 760.35L613.45 760.35L612.69 760.6L612.44 761.1L612.44 761.6L612.69 762.1L613.2 762.35L614.2 762.6L614.96 762.85L615.46 763.35L615.72 763.85L615.72 764.6L615.46 765.1L615.21 765.35M618.74 765.6L617.98 765.35L617.48 764.6L617.23 763.35L617.23 762.6L617.48 761.35L617.98 760.6L618.74 760.35L619.24 760.35L620 760.6L620.5 761.35L620.76 762.6L620.76 763.35L620.5 764.6L620 765.35L619.24 765.6L618.74 765.6M625.29 765.35L624.54 765.6L623.53 765.6L622.77 765.35L622.52 765.1L622.27 764.6L622.27 763.85L622.52 763.35L623.02 762.85L624.79 762.35L625.29 762.1L625.54 761.6L625.54 761.1L625.29 760.6L624.54 760.35L623.53 760.35L622.77 760.6L622.52 761.1L622.52 761.6L622.77 762.1L623.28 762.35L624.28 762.6L625.04 762.85L625.54 763.35L625.8 763.85L625.8 764.6L625.54 765.1L625.29 765.35M628.82 765.6L628.06 765.35L627.56 764.6L627.31 763.35L627.31 762.6L627.56 761.35L628.06 760.6L628.82 760.35L629.32 760.35L630.08 760.6L630.58 761.35L630.84 762.6L630.84 763.35L630.58 764.6L630.08 765.35L629.32 765.6L628.82 765.6M632.85 760.35L635.62 760.35L634.11 762.35L634.87 762.35L635.37 762.6L635.62 762.85L635.88 763.6L635.88 764.1L635.62 764.85L635.12 765.35L634.36 765.6L633.61 765.6L632.85 765.35L632.6 765.1L632.35 764.6M52.8 653.5L51.53 653.08L50.67 651.8L50.25 649.67L50.25 648.4L50.67 646.27L51.53 645L52.8 644.58L53.65 644.58L54.92 645L55.78 646.27L56.2 648.4L56.2 649.67L55.78 651.8L54.92 653.08L53.65 653.5L52.8 653.5M61.3 653.5L60.03 653.08L59.17 651.8L58.75 649.67L58.75 648.4L59.17 646.27L60.03 645L61.3 644.58L62.15 644.58L63.42 645L64.28 646.27L64.7 648.4L64.7 649.67L64.28 651.8L63.42 653.08L62.15 653.5L61.3 653.5M68.53 647.98L68.1 648.4L67.67 647.98L68.1 647.55L68.53 647.98M68.53 653.08L68.1 653.5L67.67 653.08L68.1 652.65L68.53 653.08M74.05 653.5L72.78 653.08L71.92 651.8L71.5 649.67L71.5 648.4L71.92 646.27L72.78 645L74.05 644.58L74.9 644.58L76.17 645L77.03 646.27L77.45 648.4L77.45 649.67L77.03 651.8L76.17 653.08L74.9 653.5L74.05 653.5M82.55 653.5L81.28 653.08L80.42 651.8L80 649.67L80 648.4L80.42 646.27L81.28 645L82.55 644.58L83.4 644.58L84.67 645L85.53 646.27L85.95 648.4L85.95 649.67L85.53 651.8L84.67 653.08L83.4 653.5L82.55 653.5M95.72 646.7L95.72 646.27L96.15 645.42L96.58 645L97.42 644.58L99.12 644.58L99.97 645L100.4 645.42L100.83 646.27L100.83 647.12L100.4 647.98L99.55 649.25L95.3 653.5L101.25 653.5M104.65 644.58L109.33 644.58L106.78 647.98L108.05 647.98L108.9 648.4L109.33 648.83L109.75 650.1L109.75 650.95L109.33 652.23L108.47 653.08L107.2 653.5L105.92 653.5L104.65 653.08L104.22 652.65L103.8 651.8M157.8 653.5L156.53 653.08L155.68 651.8L155.25 649.67L155.25 648.4L155.68 646.27L156.53 645L157.8 644.58L158.65 644.58L159.93 645L160.78 646.27L161.2 648.4L161.2 649.67L160.78 651.8L159.93 653.08L158.65 653.5L157.8 653.5M169.28 645.85L168.85 645L167.57 644.58L166.72 644.58L165.45 645L164.6 646.27L164.18 648.4L164.18 650.52L164.6 652.23L165.45 653.08L166.72 653.5L167.15 653.5L168.43 653.08L169.28 652.23L169.7 650.95L169.7 650.52L169.28 649.25L168.43 648.4L167.15 647.98L166.72 647.98L165.45 648.4L164.6 649.25L164.18 650.52M173.53 647.98L173.1 648.4L172.68 647.98L173.1 647.55L173.53 647.98M173.53 653.08L173.1 653.5L172.68 653.08L173.1 652.65L173.53 653.08M179.05 653.5L177.78 653.08L176.93 651.8L176.5 649.67L176.5 648.4L176.93 646.27L177.78 645L179.05 644.58L179.9 644.58L181.18 645L182.03 646.27L182.45 648.4L182.45 649.67L182.03 651.8L181.18 653.08L179.9 653.5L179.05 653.5M187.55 653.5L186.28 653.08L185.43 651.8L185 649.67L185 648.4L185.43 646.27L186.28 645L187.55 644.58L188.4 644.58L189.68 645L190.53 646.27L190.95 648.4L190.95 649.67L190.53 651.8L189.68 653.08L188.4 653.5L187.55 653.5M200.72 646.7L200.72 646.27L201.15 645.42L201.57 645L202.43 644.58L204.12 644.58L204.97 645L205.4 645.42L205.82 646.27L205.82 647.12L205.4 647.98L204.55 649.25L200.3 653.5L206.25 653.5M209.65 644.58L214.32 644.58L211.78 647.98L213.05 647.98L213.9 648.4L214.32 648.83L214.75 650.1L214.75 650.95L214.32 652.23L213.47 653.08L212.2 653.5L210.93 653.5L209.65 653.08L209.22 652.65L208.8 651.8M261.52 646.27L262.38 645.85L263.65 644.58L263.65 653.5M269.18 646.7L269.18 646.27L269.6 645.42L270.02 645L270.88 644.58L272.57 644.58L273.43 645L273.85 645.42L274.27 646.27L274.27 647.12L273.85 647.98L273 649.25L268.75 653.5L274.7 653.5M278.52 647.98L278.1 648.4L277.68 647.98L278.1 647.55L278.52 647.98M278.52 653.08L278.1 653.5L277.68 653.08L278.1 652.65L278.52 653.08M284.05 653.5L282.77 653.08L281.93 651.8L281.5 649.67L281.5 648.4L281.93 646.27L282.77 645L284.05 644.58L284.9 644.58L286.18 645L287.02 646.27L287.45 648.4L287.45 649.67L287.02 651.8L286.18 653.08L284.9 653.5L284.05 653.5M292.55 653.5L291.27 653.08L290.43 651.8L290 649.67L290 648.4L290.43 646.27L291.27 645L292.55 644.58L293.4 644.58L294.68 645L295.52 646.27L295.95 648.4L295.95 649.67L295.52 651.8L294.68 653.08L293.4 653.5L292.55 653.5M305.73 646.7L305.73 646.27L306.15 645.42L306.57 645L307.43 644.58L309.12 644.58L309.98 645L310.4 645.42L310.82 646.27L310.82 647.12L310.4 647.98L309.55 649.25L305.3 653.5L311.25 653.5M314.65 644.58L319.32 644.58L316.77 647.98L318.05 647.98L318.9 648.4L319.32 648.83L319.75 650.1L319.75 650.95L319.32 652.23L318.48 653.08L317.2 653.5L315.93 653.5L314.65 653.08L314.23 652.65L313.8 651.8M366.52 646.27L367.38 645.85L368.65 644.58L368.65 653.5M378.85 653.08L377.57 653.5L375.88 653.5L374.6 653.08L374.18 652.65L373.75 651.8L373.75 650.52L374.18 649.67L375.02 648.83L378 647.98L378.85 647.55L379.27 646.7L379.27 645.85L378.85 645L377.57 644.58L375.88 644.58L374.6 645L374.18 645.85L374.18 646.7L374.6 647.55L375.45 647.98L377.15 648.4L378.43 648.83L379.27 649.67L379.7 650.52L379.7 651.8L379.27 652.65L378.85 653.08M383.52 647.98L383.1 648.4L382.68 647.98L383.1 647.55L383.52 647.98M383.52 653.08L383.1 653.5L382.68 653.08L383.1 652.65L383.52 653.08M389.05 653.5L387.77 653.08L386.93 651.8L386.5 649.67L386.5 648.4L386.93 646.27L387.77 645L389.05 644.58L389.9 644.58L391.18 645L392.02 646.27L392.45 648.4L392.45 649.67L392.02 651.8L391.18 653.08L389.9 653.5L389.05 653.5M397.55 653.5L396.27 653.08L395.43 651.8L395 649.67L395 648.4L395.43 646.27L396.27 645L397.55 644.58L398.4 644.58L399.68 645L400.52 646.27L400.95 648.4L400.95 649.67L400.52 651.8L399.68 653.08L398.4 653.5L397.55 653.5M410.73 646.7L410.73 646.27L411.15 645.42L411.57 645L412.43 644.58L414.12 644.58L414.98 645L415.4 645.42L415.82 646.27L415.82 647.12L415.4 647.98L414.55 649.25L410.3 653.5L416.25 653.5M419.65 644.58L424.32 644.58L421.77 647.98L423.05 647.98L423.9 648.4L424.32 648.83L424.75 650.1L424.75 650.95L424.32 652.23L423.48 653.08L422.2 653.5L420.93 653.5L419.65 653.08L419.23 652.65L418.8 651.8M472.8 653.5L471.52 653.08L470.68 651.8L470.25 649.67L470.25 648.4L470.68 646.27L471.52 645L472.8 644.58L473.65 644.58L474.93 645L475.77 646.27L476.2 648.4L476.2 649.67L475.77 651.8L474.93 653.08L473.65 653.5L472.8 653.5M481.3 653.5L480.02 653.08L479.18 651.8L478.75 649.67L478.75 648.4L479.18 646.27L480.02 645L481.3 644.58L482.15 644.58L483.43 645L484.27 646.27L484.7 648.4L484.7 649.67L484.27 651.8L483.43 653.08L482.15 653.5L481.3 653.5M488.52 647.98L488.1 648.4L487.68 647.98L488.1 647.55L488.52 647.98M488.52 653.08L488.1 653.5L487.68 653.08L488.1 652.65L488.52 653.08M494.05 653.5L492.77 653.08L491.93 651.8L491.5 649.67L491.5 648.4L491.93 646.27L492.77 645L494.05 644.58L494.9 644.58L496.18 645L497.02 646.27L497.45 648.4L497.45 649.67L497.02 651.8L496.18 653.08L494.9 653.5L494.05 653.5M502.55 653.5L501.27 653.08L500.43 651.8L500 649.67L500 648.4L500.43 646.27L501.27 645L502.55 644.58L503.4 644.58L504.68 645L505.52 646.27L505.95 648.4L505.95 649.67L505.52 651.8L504.68 653.08L503.4 653.5L502.55 653.5M515.73 646.7L515.73 646.27L516.15 645.42L516.58 645L517.42 644.58L519.12 644.58L519.98 645L520.4 645.42L520.83 646.27L520.83 647.12L520.4 647.98L519.55 649.25L515.3 653.5L521.25 653.5M530.17 650.52L523.8 650.52L528.05 644.58L528.05 653.5M74.62 671.5L78.88 662.58L72.93 662.58M82.7 671.08L82.28 671.5L81.85 671.08L82.28 670.65L82.7 671.08M85.68 669.8L86.1 670.65L86.53 671.08L87.8 671.5L89.08 671.5L90.35 671.08L91.2 670.23L91.62 668.95L91.62 668.1L91.2 666.83L90.35 665.98L89.08 665.55L87.8 665.55L86.53 665.98L86.1 666.4L86.53 662.58L90.78 662.58M95.45 664.27L96.3 663.85L97.58 662.58L97.58 671.5M183.03 671.08L181.75 671.5L180.05 671.5L178.78 671.08L178.35 670.65L177.93 669.8L177.93 668.52L178.35 667.67L179.2 666.83L182.18 665.98L183.03 665.55L183.45 664.7L183.45 663.85L183.03 663L181.75 662.58L180.05 662.58L178.78 663L178.35 663.85L178.35 664.7L178.78 665.55L179.62 665.98L181.33 666.4L182.6 666.83L183.45 667.67L183.88 668.52L183.88 669.8L183.45 670.65L183.03 671.08M187.7 671.08L187.28 671.5L186.85 671.08L187.28 670.65L187.7 671.08M196.2 663.85L195.78 663L194.5 662.58L193.65 662.58L192.38 663L191.53 664.27L191.1 666.4L191.1 668.52L191.53 670.23L192.38 671.08L193.65 671.5L194.08 671.5L195.35 671.08L196.2 670.23L196.62 668.95L196.62 668.52L196.2 667.25L195.35 666.4L194.08 665.98L193.65 665.98L192.38 666.4L191.53 667.25L191.1 668.52M200.45 664.27L201.3 663.85L202.58 662.58L202.58 671.5M283.35 664.7L283.35 664.27L283.77 663.42L284.2 663L285.05 662.58L286.75 662.58L287.6 663L288.02 663.42L288.45 664.27L288.45 665.12L288.02 665.98L287.17 667.25L282.92 671.5L288.88 671.5M292.7 671.08L292.27 671.5L291.85 671.08L292.27 670.65L292.7 671.08M300.77 671.08L299.5 671.5L297.8 671.5L296.52 671.08L296.1 670.65L295.67 669.8L295.67 668.52L296.1 667.67L296.95 666.83L299.92 665.98L300.77 665.55L301.2 664.7L301.2 663.85L300.77 663L299.5 662.58L297.8 662.58L296.52 663L296.1 663.85L296.1 664.7L296.52 665.55L297.38 665.98L299.07 666.4L300.35 666.83L301.2 667.67L301.62 668.52L301.62 669.8L301.2 670.65L300.77 671.08M304.17 669.8L304.6 670.65L305.02 671.08L306.3 671.5L307.57 671.5L308.85 671.08L309.7 670.23L310.12 668.95L310.12 668.1L309.7 666.83L308.85 665.98L307.57 665.55L306.3 665.55L305.02 665.98L304.6 666.4L305.02 662.58L309.27 662.58M389.62 671.5L393.88 662.58L387.92 662.58M397.7 671.08L397.27 671.5L396.85 671.08L397.27 670.65L397.7 671.08M402.38 671.5L406.62 662.58L400.67 662.58M410.88 671.5L415.12 662.58L409.17 662.58M498.02 671.08L496.75 671.5L495.05 671.5L493.77 671.08L493.35 670.65L492.92 669.8L492.92 668.52L493.35 667.67L494.2 666.83L497.17 665.98L498.02 665.55L498.45 664.7L498.45 663.85L498.02 663L496.75 662.58L495.05 662.58L493.77 663L493.35 663.85L493.35 664.7L493.77 665.55L494.62 665.98L496.32 666.4L497.6 666.83L498.45 667.67L498.88 668.52L498.88 669.8L498.45 670.65L498.02 671.08M502.7 671.08L502.27 671.5L501.85 671.08L502.27 670.65L502.7 671.08M512.05 668.52L505.67 668.52L509.92 662.58L509.92 671.5M515.88 671.5L520.12 662.58L514.17 662.58M66.72 689.5L70.97 680.58L65.03 680.58M78.62 689.08L77.35 689.5L75.65 689.5L74.38 689.08L73.95 688.65L73.53 687.8L73.53 686.52L73.95 685.67L74.8 684.83L77.78 683.98L78.62 683.55L79.05 682.7L79.05 681.85L78.62 681L77.35 680.58L75.65 680.58L74.38 681L73.95 681.85L73.95 682.7L74.38 683.55L75.22 683.98L76.92 684.4L78.2 684.83L79.05 685.67L79.47 686.52L79.47 687.8L79.05 688.65L78.62 689.08M83.3 689.08L82.88 689.5L82.45 689.08L82.88 688.65L83.3 689.08M91.8 681.85L91.38 681L90.1 680.58L89.25 680.58L87.97 681L87.12 682.27L86.7 684.4L86.7 686.52L87.12 688.23L87.97 689.08L89.25 689.5L89.67 689.5L90.95 689.08L91.8 688.23L92.22 686.95L92.22 686.52L91.8 685.25L90.95 684.4L89.67 683.98L89.25 683.98L87.97 684.4L87.12 685.25L86.7 686.52M94.78 687.8L95.2 688.65L95.62 689.08L96.9 689.5L98.17 689.5L99.45 689.08L100.3 688.23L100.72 686.95L100.72 686.1L100.3 684.83L99.45 683.98L98.17 683.55L96.9 683.55L95.62 683.98L95.2 684.4L95.62 680.58L99.88 680.58M171.72 689.5L175.97 680.58L170.03 680.58M184.05 681.85L183.62 681L182.35 680.58L181.5 680.58L180.22 681L179.38 682.27L178.95 684.4L178.95 686.52L179.38 688.23L180.22 689.08L181.5 689.5L181.93 689.5L183.2 689.08L184.05 688.23L184.47 686.95L184.47 686.52L184.05 685.25L183.2 684.4L181.93 683.98L181.5 683.98L180.22 684.4L179.38 685.25L178.95 686.52M188.3 689.08L187.88 689.5L187.45 689.08L187.88 688.65L188.3 689.08M196.8 681.85L196.38 681L195.1 680.58L194.25 680.58L192.97 681L192.12 682.27L191.7 684.4L191.7 686.52L192.12 688.23L192.97 689.08L194.25 689.5L194.68 689.5L195.95 689.08L196.8 688.23L197.22 686.95L197.22 686.52L196.8 685.25L195.95 684.4L194.68 683.98L194.25 683.98L192.97 684.4L192.12 685.25L191.7 686.52M204.88 689.08L203.6 689.5L201.9 689.5L200.62 689.08L200.2 688.65L199.78 687.8L199.78 686.52L200.2 685.67L201.05 684.83L204.03 683.98L204.88 683.55L205.3 682.7L205.3 681.85L204.88 681L203.6 680.58L201.9 680.58L200.62 681L200.2 681.85L200.2 682.7L200.62 683.55L201.47 683.98L203.18 684.4L204.45 684.83L205.3 685.67L205.72 686.52L205.72 687.8L205.3 688.65L204.88 689.08M272.9 685.67L280.55 685.67M284.38 680.58L289.05 680.58L286.5 683.98L287.77 683.98L288.62 684.4L289.05 684.83L289.48 686.1L289.48 686.95L289.05 688.23L288.2 689.08L286.93 689.5L285.65 689.5L284.38 689.08L283.95 688.65L283.52 687.8M293.3 689.08L292.88 689.5L292.45 689.08L292.88 688.65L293.3 689.08M296.27 687.8L296.7 688.65L297.12 689.08L298.4 689.5L299.68 689.5L300.95 689.08L301.8 688.23L302.23 686.95L302.23 686.1L301.8 684.83L300.95 683.98L299.68 683.55L298.4 683.55L297.12 683.98L296.7 684.4L297.12 680.58L301.38 680.58M306.48 689.5L310.73 680.58L304.77 680.58M381.73 689.5L385.98 680.58L380.02 680.58M389.8 682.27L390.65 681.85L391.93 680.58L391.93 689.5M398.3 689.08L397.88 689.5L397.45 689.08L397.88 688.65L398.3 689.08M406.38 689.08L405.1 689.5L403.4 689.5L402.12 689.08L401.7 688.65L401.27 687.8L401.27 686.52L401.7 685.67L402.55 684.83L405.52 683.98L406.38 683.55L406.8 682.7L406.8 681.85L406.38 681L405.1 680.58L403.4 680.58L402.12 681L401.7 681.85L401.7 682.7L402.12 683.55L402.98 683.98L404.68 684.4L405.95 684.83L406.8 685.67L407.23 686.52L407.23 687.8L406.8 688.65L406.38 689.08M416.15 686.52L409.77 686.52L414.02 680.58L414.02 689.5M490.55 681.85L490.12 681L488.85 680.58L488 680.58L486.73 681L485.88 682.27L485.45 684.4L485.45 686.52L485.88 688.23L486.73 689.08L488 689.5L488.43 689.5L489.7 689.08L490.55 688.23L490.98 686.95L490.98 686.52L490.55 685.25L489.7 684.4L488.43 683.98L488 683.98L486.73 684.4L485.88 685.25L485.45 686.52M494.8 682.27L495.65 681.85L496.93 680.58L496.93 689.5M503.3 689.08L502.88 689.5L502.45 689.08L502.88 688.65L503.3 689.08M511.38 689.08L510.1 689.5L508.4 689.5L507.12 689.08L506.7 688.65L506.27 687.8L506.27 686.52L506.7 685.67L507.55 684.83L510.52 683.98L511.38 683.55L511.8 682.7L511.8 681.85L511.38 681L510.1 680.58L508.4 680.58L507.12 681L506.7 681.85L506.7 682.7L507.12 683.55L507.98 683.98L509.68 684.4L510.95 684.83L511.8 685.67L512.23 686.52L512.23 687.8L511.8 688.65L511.38 689.08M516.48 689.5L520.73 680.58L514.77 680.58M66.3 700.27L67.15 699.85L68.42 698.58L68.42 707.5M79.05 699.85L78.62 699L77.35 698.58L76.5 698.58L75.22 699L74.38 700.27L73.95 702.4L73.95 704.52L74.38 706.23L75.22 707.08L76.5 707.5L76.92 707.5L78.2 707.08L79.05 706.23L79.47 704.95L79.47 704.52L79.05 703.25L78.2 702.4L76.92 701.98L76.5 701.98L75.22 702.4L74.38 703.25L73.95 704.52M83.3 707.08L82.88 707.5L82.45 707.08L82.88 706.65L83.3 707.08M87.97 707.5L92.22 698.58L86.28 698.58M95.62 698.58L100.3 698.58L97.75 701.98L99.03 701.98L99.88 702.4L100.3 702.83L100.72 704.1L100.72 704.95L100.3 706.23L99.45 707.08L98.17 707.5L96.9 707.5L95.62 707.08L95.2 706.65L94.78 705.8M184.05 699.85L183.62 699L182.35 698.58L181.5 698.58L180.22 699L179.38 700.27L178.95 702.4L178.95 704.52L179.38 706.23L180.22 707.08L181.5 707.5L181.93 707.5L183.2 707.08L184.05 706.23L184.47 704.95L184.47 704.52L184.05 703.25L183.2 702.4L181.93 701.98L181.5 701.98L180.22 702.4L179.38 703.25L178.95 704.52M188.3 707.08L187.88 707.5L187.45 707.08L187.88 706.65L188.3 707.08M196.38 707.08L195.1 707.5L193.4 707.5L192.12 707.08L191.7 706.65L191.28 705.8L191.28 704.52L191.7 703.67L192.55 702.83L195.53 701.98L196.38 701.55L196.8 700.7L196.8 699.85L196.38 699L195.1 698.58L193.4 698.58L192.12 699L191.7 699.85L191.7 700.7L192.12 701.55L192.97 701.98L194.68 702.4L195.95 702.83L196.8 703.67L197.22 704.52L197.22 705.8L196.8 706.65L196.38 707.08M200.2 706.23L200.62 707.08L201.9 707.5L202.75 707.5L204.03 707.08L204.88 705.8L205.3 703.67L205.3 701.55L204.88 699.85L204.03 699L202.75 698.58L202.32 698.58L201.05 699L200.2 699.85L199.78 701.12L199.78 701.55L200.2 702.83L201.05 703.67L202.32 704.1L202.75 704.1L204.03 703.67L204.88 702.83L205.3 701.55M283.52 705.8L283.95 706.65L284.38 707.08L285.65 707.5L286.93 707.5L288.2 707.08L289.05 706.23L289.48 704.95L289.48 704.1L289.05 702.83L288.2 701.98L286.93 701.55L285.65 701.55L284.38 701.98L283.95 702.4L284.38 698.58L288.62 698.58M293.3 707.08L292.88 707.5L292.45 707.08L292.88 706.65L293.3 707.08M301.8 699.85L301.38 699L300.1 698.58L299.25 698.58L297.98 699L297.12 700.27L296.7 702.4L296.7 704.52L297.12 706.23L297.98 707.08L299.25 707.5L299.68 707.5L300.95 707.08L301.8 706.23L302.23 704.95L302.23 704.52L301.8 703.25L300.95 702.4L299.68 701.98L299.25 701.98L297.98 702.4L297.12 703.25L296.7 704.52M307.32 707.5L306.05 707.08L305.2 705.8L304.77 703.67L304.77 702.4L305.2 700.27L306.05 699L307.32 698.58L308.18 698.58L309.45 699L310.3 700.27L310.73 702.4L310.73 703.67L310.3 705.8L309.45 707.08L308.18 707.5L307.32 707.5M380.45 700.7L380.45 700.27L380.88 699.42L381.3 699L382.15 698.58L383.85 698.58L384.7 699L385.12 699.42L385.55 700.27L385.55 701.12L385.12 701.98L384.27 703.25L380.02 707.5L385.98 707.5M391.07 707.5L389.8 707.08L388.95 705.8L388.52 703.67L388.52 702.4L388.95 700.27L389.8 699L391.07 698.58L391.93 698.58L393.2 699L394.05 700.27L394.48 702.4L394.48 703.67L394.05 705.8L393.2 707.08L391.93 707.5L391.07 707.5M398.3 707.08L397.88 707.5L397.45 707.08L397.88 706.65L398.3 707.08M403.82 707.5L402.55 707.08L401.7 705.8L401.27 703.67L401.27 702.4L401.7 700.27L402.55 699L403.82 698.58L404.68 698.58L405.95 699L406.8 700.27L407.23 702.4L407.23 703.67L406.8 705.8L405.95 707.08L404.68 707.5L403.82 707.5M412.32 707.5L411.05 707.08L410.2 705.8L409.77 703.67L409.77 702.4L410.2 700.27L411.05 699L412.32 698.58L413.18 698.58L414.45 699L415.3 700.27L415.73 702.4L415.73 703.67L415.3 705.8L414.45 707.08L413.18 707.5L412.32 707.5M499.9 704.52L493.52 704.52L497.77 698.58L497.77 707.5M503.3 707.08L502.88 707.5L502.45 707.08L502.88 706.65L503.3 707.08M506.7 706.23L507.12 707.08L508.4 707.5L509.25 707.5L510.52 707.08L511.38 705.8L511.8 703.67L511.8 701.55L511.38 699.85L510.52 699L509.25 698.58L508.82 698.58L507.55 699L506.7 699.85L506.27 701.12L506.27 701.55L506.7 702.83L507.55 703.67L508.82 704.1L509.25 704.1L510.52 703.67L511.38 702.83L511.8 701.55M519.88 707.08L518.6 707.5L516.9 707.5L515.62 707.08L515.2 706.65L514.77 705.8L514.77 704.52L515.2 703.67L516.05 702.83L519.02 701.98L519.88 701.55L520.3 700.7L520.3 699.85L519.88 699L518.6 698.58L516.9 698.58L515.62 699L515.2 699.85L515.2 700.7L515.62 701.55L516.48 701.98L518.17 702.4L519.45 702.83L520.3 703.67L520.73 704.52L520.73 705.8L520.3 706.65L519.88 707.08M57.8 718.27L58.65 717.85L59.92 716.58L59.92 725.5M65.45 724.23L65.88 725.08L67.15 725.5L68 725.5L69.28 725.08L70.12 723.8L70.55 721.67L70.55 719.55L70.12 717.85L69.28 717L68 716.58L67.58 716.58L66.3 717L65.45 717.85L65.03 719.12L65.03 719.55L65.45 720.83L66.3 721.67L67.58 722.1L68 722.1L69.28 721.67L70.12 720.83L70.55 719.55M74.38 716.58L79.05 716.58L76.5 719.98L77.78 719.98L78.62 720.4L79.05 720.83L79.47 722.1L79.47 722.95L79.05 724.23L78.2 725.08L76.92 725.5L75.65 725.5L74.38 725.08L73.95 724.65L73.53 723.8M83.3 725.08L82.88 725.5L82.45 725.08L82.88 724.65L83.3 725.08M92.65 722.52L86.28 722.52L90.53 716.58L90.53 725.5M95.62 716.58L100.3 716.58L97.75 719.98L99.03 719.98L99.88 720.4L100.3 720.83L100.72 722.1L100.72 722.95L100.3 724.23L99.45 725.08L98.17 725.5L96.9 725.5L95.62 725.08L95.2 724.65L94.78 723.8M162.8 718.27L163.65 717.85L164.93 716.58L164.93 725.5M175.55 717.85L175.12 717L173.85 716.58L173 716.58L171.72 717L170.88 718.27L170.45 720.4L170.45 722.52L170.88 724.23L171.72 725.08L173 725.5L173.43 725.5L174.7 725.08L175.55 724.23L175.97 722.95L175.97 722.52L175.55 721.25L174.7 720.4L173.43 719.98L173 719.98L171.72 720.4L170.88 721.25L170.45 722.52M178.95 718.7L178.95 718.27L179.38 717.42L179.8 717L180.65 716.58L182.35 716.58L183.2 717L183.62 717.42L184.05 718.27L184.05 719.12L183.62 719.98L182.78 721.25L178.53 725.5L184.47 725.5M188.3 725.08L187.88 725.5L187.45 725.08L187.88 724.65L188.3 725.08M192.55 718.27L193.4 717.85L194.68 716.58L194.68 725.5M202.32 725.5L201.05 725.08L200.2 723.8L199.78 721.67L199.78 720.4L200.2 718.27L201.05 717L202.32 716.58L203.18 716.58L204.45 717L205.3 718.27L205.72 720.4L205.72 721.67L205.3 723.8L204.45 725.08L203.18 725.5L202.32 725.5M283.95 718.7L283.95 718.27L284.38 717.42L284.8 717L285.65 716.58L287.35 716.58L288.2 717L288.62 717.42L289.05 718.27L289.05 719.12L288.62 719.98L287.77 721.25L283.52 725.5L289.48 725.5M293.3 725.08L292.88 725.5L292.45 725.08L292.88 724.65L293.3 725.08M296.7 724.23L297.12 725.08L298.4 725.5L299.25 725.5L300.52 725.08L301.38 723.8L301.8 721.67L301.8 719.55L301.38 717.85L300.52 717L299.25 716.58L298.82 716.58L297.55 717L296.7 717.85L296.27 719.12L296.27 719.55L296.7 720.83L297.55 721.67L298.82 722.1L299.25 722.1L300.52 721.67L301.38 720.83L301.8 719.55M307.32 725.5L306.05 725.08L305.2 723.8L304.77 721.67L304.77 720.4L305.2 718.27L306.05 717L307.32 716.58L308.18 716.58L309.45 717L310.3 718.27L310.73 720.4L310.73 721.67L310.3 723.8L309.45 725.08L308.18 725.5L307.32 725.5M381.73 725.5L385.98 716.58L380.02 716.58M388.95 724.23L389.38 725.08L390.65 725.5L391.5 725.5L392.77 725.08L393.62 723.8L394.05 721.67L394.05 719.55L393.62 717.85L392.77 717L391.5 716.58L391.07 716.58L389.8 717L388.95 717.85L388.52 719.12L388.52 719.55L388.95 720.83L389.8 721.67L391.07 722.1L391.5 722.1L392.77 721.67L393.62 720.83L394.05 719.55M398.3 725.08L397.88 725.5L397.45 725.08L397.88 724.65L398.3 725.08M401.7 724.23L402.12 725.08L403.4 725.5L404.25 725.5L405.52 725.08L406.38 723.8L406.8 721.67L406.8 719.55L406.38 717.85L405.52 717L404.25 716.58L403.82 716.58L402.55 717L401.7 717.85L401.27 719.12L401.27 719.55L401.7 720.83L402.55 721.67L403.82 722.1L404.25 722.1L405.52 721.67L406.38 720.83L406.8 719.55M410.62 716.58L415.3 716.58L412.75 719.98L414.02 719.98L414.88 720.4L415.3 720.83L415.73 722.1L415.73 722.95L415.3 724.23L414.45 725.08L413.18 725.5L411.9 725.5L410.62 725.08L410.2 724.65L409.77 723.8M485.88 716.58L490.55 716.58L488 719.98L489.27 719.98L490.12 720.4L490.55 720.83L490.98 722.1L490.98 722.95L490.55 724.23L489.7 725.08L488.43 725.5L487.15 725.5L485.88 725.08L485.45 724.65L485.02 723.8M495.23 725.5L499.48 716.58L493.52 716.58M503.3 725.08L502.88 725.5L502.45 725.08L502.88 724.65L503.3 725.08M506.7 724.23L507.12 725.08L508.4 725.5L509.25 725.5L510.52 725.08L511.38 723.8L511.8 721.67L511.8 719.55L511.38 717.85L510.52 717L509.25 716.58L508.82 716.58L507.55 717L506.7 717.85L506.27 719.12L506.27 719.55L506.7 720.83L507.55 721.67L508.82 722.1L509.25 722.1L510.52 721.67L511.38 720.83L511.8 719.55M520.3 717.85L519.88 717L518.6 716.58L517.75 716.58L516.48 717L515.62 718.27L515.2 720.4L515.2 722.52L515.62 724.23L516.48 725.08L517.75 725.5L518.17 725.5L519.45 725.08L520.3 724.23L520.73 722.95L520.73 722.52L520.3 721.25L519.45 720.4L518.17 719.98L517.75 719.98L516.48 720.4L515.62 721.25L515.2 722.52M22.53 645.85L21.68 645L20.4 644.58L18.7 644.58L17.43 645L16.58 645.85L16.58 646.7L17 647.55L17.43 647.98L18.28 648.4L20.83 649.25L21.68 649.67L22.1 650.1L22.53 650.95L22.53 652.23L21.68 653.08L20.4 653.5L18.7 653.5L17.43 653.08L16.58 652.23M31.45 646.7L31.03 645.85L30.18 645L29.33 644.58L27.63 644.58L26.78 645L25.93 645.85L25.5 646.7L25.08 647.98L25.08 650.1L25.5 651.38L25.93 652.23L26.78 653.08L27.63 653.5L29.33 653.5L30.18 653.08L31.03 652.23L31.45 651.38M39.95 644.58L34.43 644.58L34.43 653.5L39.95 653.5M34.43 648.83L37.83 648.83M44.2 644.58L44.2 653.5M41.23 644.58L47.18 644.58M35.89 667.15L39.44 667.15L40.62 666.76L41.02 666.37L41.41 665.58L41.41 664.78L41.02 664L40.62 663.6L39.44 663.21L35.89 663.21L35.89 671.5M38.65 667.15L41.41 671.5M46.76 669.42L43.12 669.42L43.12 675.3L46.76 675.3M43.12 672.22L45.36 672.22M33.67 681.21L34.47 681.21L35.26 681.6L35.65 682.39L38.81 689.5M36.44 683.97L34.07 689.5M40.58 689.32L40.58 693.1M40.58 690.4L41.39 689.59L41.93 689.32L42.74 689.32L43.28 689.59L43.55 690.4L43.55 693.1M43.55 690.4L44.36 689.59L44.9 689.32L45.71 689.32L46.25 689.59L46.52 690.4L46.52 693.1M31.88 707.5L31.88 698.58L28.48 707.5L25.08 698.58L25.08 707.5M35.28 698.58L35.28 707.5L40.38 707.5M44.2 698.58L44.2 707.5M41.23 698.58L47.18 698.58M42.08 716.58L42.08 725.5L47.18 725.5M147.41 736.27L148.26 735.85L149.54 734.58L149.54 743.5M155.06 742.23L155.49 743.08L156.76 743.5L157.61 743.5L158.89 743.08L159.74 741.8L160.16 739.67L160.16 737.55L159.74 735.85L158.89 735L157.61 734.58L157.19 734.58L155.91 735L155.06 735.85L154.64 737.12L154.64 737.55L155.06 738.83L155.91 739.67L157.19 740.1L157.61 740.1L158.89 739.67L159.74 738.83L160.16 737.55M163.56 742.23L163.99 743.08L165.26 743.5L166.11 743.5L167.39 743.08L168.24 741.8L168.66 739.67L168.66 737.55L168.24 735.85L167.39 735L166.11 734.58L165.69 734.58L164.41 735L163.56 735.85L163.14 737.12L163.14 737.55L163.56 738.83L164.41 739.67L165.69 740.1L166.11 740.1L167.39 739.67L168.24 738.83L168.66 737.55M173.34 743.5L177.59 734.58L171.64 734.58M179.71 746.48L187.36 732.88M192.04 743.5L190.76 743.08L189.91 741.8L189.49 739.67L189.49 738.4L189.91 736.27L190.76 735L192.04 734.58L192.89 734.58L194.16 735L195.01 736.27L195.44 738.4L195.44 739.67L195.01 741.8L194.16 743.08L192.89 743.5L192.04 743.5M199.26 736.27L200.11 735.85L201.39 734.58L201.39 743.5M206.06 746.48L213.71 732.88M216.26 736.7L216.26 736.27L216.69 735.42L217.11 735L217.96 734.58L219.66 734.58L220.51 735L220.94 735.42L221.36 736.27L221.36 737.12L220.94 737.98L220.09 739.25L215.84 743.5L221.79 743.5M225.19 734.58L229.86 734.58L227.31 737.98L228.59 737.98L229.44 738.4L229.86 738.83L230.29 740.1L230.29 740.95L229.86 742.23L229.01 743.08L227.74 743.5L226.46 743.5L225.19 743.08L224.76 742.65L224.34 741.8M242.19 743.5L240.91 743.08L240.06 741.8L239.64 739.67L239.64 738.4L240.06 736.27L240.91 735L242.19 734.58L243.04 734.58L244.31 735L245.16 736.27L245.59 738.4L245.59 739.67L245.16 741.8L244.31 743.08L243.04 743.5L242.19 743.5M250.69 743.5L249.41 743.08L248.56 741.8L248.14 739.67L248.14 738.4L248.56 736.27L249.41 735L250.69 734.58L251.54 734.58L252.81 735L253.66 736.27L254.09 738.4L254.09 739.67L253.66 741.8L252.81 743.08L251.54 743.5L250.69 743.5M257.91 737.98L257.49 738.4L257.06 737.98L257.49 737.55L257.91 737.98M257.91 743.08L257.49 743.5L257.06 743.08L257.49 742.65L257.91 743.08M263.44 743.5L262.16 743.08L261.31 741.8L260.89 739.67L260.89 738.4L261.31 736.27L262.16 735L263.44 734.58L264.29 734.58L265.56 735L266.41 736.27L266.84 738.4L266.84 739.67L266.41 741.8L265.56 743.08L264.29 743.5L263.44 743.5M271.94 743.5L270.66 743.08L269.81 741.8L269.39 739.67L269.39 738.4L269.81 736.27L270.66 735L271.94 734.58L272.79 734.58L274.06 735L274.91 736.27L275.34 738.4L275.34 739.67L274.91 741.8L274.06 743.08L272.79 743.5L271.94 743.5M285.54 734.58L285.54 741.8L285.96 743.08L286.81 743.5L287.66 743.5M284.26 737.55L287.24 737.55M295.31 740.95L294.89 742.23L294.04 743.08L293.19 743.5L291.91 743.5L291.06 743.08L290.21 742.23L289.79 740.95L289.79 740.1L290.21 738.83L291.06 737.98L291.91 737.55L293.19 737.55L294.04 737.98L294.89 738.83L295.31 740.1L295.31 740.95M305.94 736.27L306.79 735.85L308.06 734.58L308.06 743.5M313.59 742.23L314.01 743.08L315.29 743.5L316.14 743.5L317.41 743.08L318.26 741.8L318.69 739.67L318.69 737.55L318.26 735.85L317.41 735L316.14 734.58L315.71 734.58L314.44 735L313.59 735.85L313.16 737.12L313.16 737.55L313.59 738.83L314.44 739.67L315.71 740.1L316.14 740.1L317.41 739.67L318.26 738.83L318.69 737.55M322.09 742.23L322.51 743.08L323.79 743.5L324.64 743.5L325.91 743.08L326.76 741.8L327.19 739.67L327.19 737.55L326.76 735.85L325.91 735L324.64 734.58L324.21 734.58L322.94 735L322.09 735.85L321.66 737.12L321.66 737.55L322.09 738.83L322.94 739.67L324.21 740.1L324.64 740.1L325.91 739.67L326.76 738.83L327.19 737.55M331.86 743.5L336.11 734.58L330.16 734.58M338.24 746.48L345.89 732.88M350.56 743.5L349.29 743.08L348.44 741.8L348.01 739.67L348.01 738.4L348.44 736.27L349.29 735L350.56 734.58L351.41 734.58L352.69 735L353.54 736.27L353.96 738.4L353.96 739.67L353.54 741.8L352.69 743.08L351.41 743.5L350.56 743.5M357.79 736.27L358.64 735.85L359.91 734.58L359.91 743.5M364.59 746.48L372.24 732.88M374.79 736.7L374.79 736.27L375.21 735.42L375.64 735L376.49 734.58L378.19 734.58L379.04 735L379.46 735.42L379.89 736.27L379.89 737.12L379.46 737.98L378.61 739.25L374.36 743.5L380.31 743.5M389.24 740.52L382.86 740.52L387.11 734.58L387.11 743.5M400.71 743.5L399.44 743.08L398.59 741.8L398.16 739.67L398.16 738.4L398.59 736.27L399.44 735L400.71 734.58L401.56 734.58L402.84 735L403.69 736.27L404.11 738.4L404.11 739.67L403.69 741.8L402.84 743.08L401.56 743.5L400.71 743.5M409.21 743.5L407.94 743.08L407.09 741.8L406.66 739.67L406.66 738.4L407.09 736.27L407.94 735L409.21 734.58L410.06 734.58L411.34 735L412.19 736.27L412.61 738.4L412.61 739.67L412.19 741.8L411.34 743.08L410.06 743.5L409.21 743.5M416.44 737.98L416.01 738.4L415.59 737.98L416.01 737.55L416.44 737.98M416.44 743.08L416.01 743.5L415.59 743.08L416.01 742.65L416.44 743.08M421.96 743.5L420.69 743.08L419.84 741.8L419.41 739.67L419.41 738.4L419.84 736.27L420.69 735L421.96 734.58L422.81 734.58L424.09 735L424.94 736.27L425.36 738.4L425.36 739.67L424.94 741.8L424.09 743.08L422.81 743.5L421.96 743.5M430.46 743.5L429.19 743.08L428.34 741.8L427.91 739.67L427.91 738.4L428.34 736.27L429.19 735L430.46 734.58L431.31 734.58L432.59 735L433.44 736.27L433.86 738.4L433.86 739.67L433.44 741.8L432.59 743.08L431.31 743.5L430.46 743.5" fill="none" stroke="#000" stroke-width="1" stroke-linecap="square" stroke-linejoin="round" shape-rendering="crispEdges"/>
</svg>
</body></html>
